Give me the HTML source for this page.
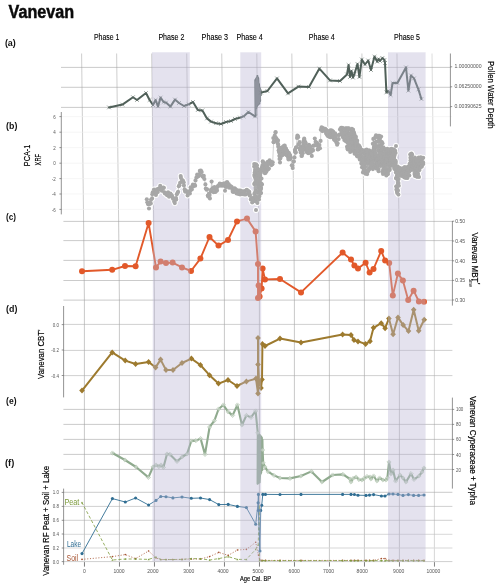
<!DOCTYPE html>
<html><head><meta charset="utf-8"><title>Vanevan</title>
<style>
html,body{margin:0;padding:0;background:#fff;}
body{width:500px;height:587px;overflow:hidden;font-family:"Liberation Sans", sans-serif;}
svg{display:block}
svg text{font-family:"Liberation Sans", sans-serif;}
.tk{font-size:5.8px;fill:#555;}
.ph{font-size:8.9px;fill:#000;stroke:#000;stroke-width:0.12px;}
.pl{font-size:9px;font-weight:bold;fill:#111;}
.ax{font-size:9.6px;fill:#000;stroke:#000;stroke-width:0.18px;}
</style></head><body>
<svg width="500" height="587" viewBox="0 0 500 587">
<rect width="500" height="587" fill="#fff"/>

<g id="grid">
<path d="M81.60 53.5L83.60 221" stroke="#a6a6a6" stroke-width="0.55" fill="none"/>
<path d="M83.60 221L84.40 300V566.5" stroke="#9b9b9b" stroke-width="0.55" fill="none"/>
<path d="M116.64 53.5L118.64 221" stroke="#a6a6a6" stroke-width="0.55" fill="none"/>
<path d="M118.64 221L119.40 300V566.5" stroke="#9b9b9b" stroke-width="0.55" fill="none"/>
<path d="M151.68 53.5L153.68 221" stroke="#a6a6a6" stroke-width="0.55" fill="none"/>
<path d="M153.68 221L154.40 300V566.5" stroke="#9b9b9b" stroke-width="0.55" fill="none"/>
<path d="M186.72 53.5L188.72 221" stroke="#a6a6a6" stroke-width="0.55" fill="none"/>
<path d="M188.72 221L189.40 300V566.5" stroke="#9b9b9b" stroke-width="0.55" fill="none"/>
<path d="M221.76 53.5L223.76 221" stroke="#a6a6a6" stroke-width="0.55" fill="none"/>
<path d="M223.76 221L224.40 300V566.5" stroke="#9b9b9b" stroke-width="0.55" fill="none"/>
<path d="M256.80 53.5L258.80 221" stroke="#a6a6a6" stroke-width="0.55" fill="none"/>
<path d="M258.80 221L259.40 300V566.5" stroke="#9b9b9b" stroke-width="0.55" fill="none"/>
<path d="M291.84 53.5L293.84 221" stroke="#a6a6a6" stroke-width="0.55" fill="none"/>
<path d="M293.84 221L294.40 300V566.5" stroke="#9b9b9b" stroke-width="0.55" fill="none"/>
<path d="M326.88 53.5L328.88 221" stroke="#a6a6a6" stroke-width="0.55" fill="none"/>
<path d="M328.88 221L329.40 300V566.5" stroke="#9b9b9b" stroke-width="0.55" fill="none"/>
<path d="M361.92 53.5L363.92 221" stroke="#a6a6a6" stroke-width="0.55" fill="none"/>
<path d="M363.92 221L364.40 300V566.5" stroke="#9b9b9b" stroke-width="0.55" fill="none"/>
<path d="M396.96 53.5L398.96 221" stroke="#a6a6a6" stroke-width="0.55" fill="none"/>
<path d="M398.96 221L399.40 300V566.5" stroke="#9b9b9b" stroke-width="0.55" fill="none"/>
<path d="M432.00 53.5L434.00 221" stroke="#c0c0c0" stroke-width="0.55" fill="none"/>
<path d="M434.00 221L434.40 300V566.5" stroke="#b5b5b5" stroke-width="0.55" fill="none"/>
<path d="M61 67.4H450.4" stroke="#a0a0a0" stroke-width="0.55"/>
<path d="M61 87.3H450.4" stroke="#a0a0a0" stroke-width="0.55"/>
<path d="M61 107.4H450.4" stroke="#a0a0a0" stroke-width="0.55"/>
<path d="M61.4 116.6H452" stroke="#f0f0f0" stroke-width="0.6"/>
<path d="M61.4 132.2H452" stroke="#f0f0f0" stroke-width="0.6"/>
<path d="M61.4 147.6H452" stroke="#f0f0f0" stroke-width="0.6"/>
<path d="M61.4 163.2H452" stroke="#f0f0f0" stroke-width="0.6"/>
<path d="M61.4 178.6H452" stroke="#f0f0f0" stroke-width="0.6"/>
<path d="M61.4 194H452" stroke="#f0f0f0" stroke-width="0.6"/>
<path d="M61.4 209.4H452" stroke="#f0f0f0" stroke-width="0.6"/>
<path d="M63.4 221.4H452.4" stroke="#a0a0a0" stroke-width="0.55"/>
<path d="M63.4 240.6H452.4" stroke="#a0a0a0" stroke-width="0.55"/>
<path d="M63.4 260.4H452.4" stroke="#a0a0a0" stroke-width="0.55"/>
<path d="M63.4 280.5H452.4" stroke="#a0a0a0" stroke-width="0.55"/>
<path d="M63.4 300.1H452.4" stroke="#a0a0a0" stroke-width="0.55"/>
<path d="M63.6 324.4H452.4" stroke="#a8a8a8" stroke-width="0.55"/>
<path d="M63.6 350.4H452.4" stroke="#a8a8a8" stroke-width="0.55"/>
<path d="M63.6 375.6H452.4" stroke="#a8a8a8" stroke-width="0.55"/>
<path d="M63.4 409.4H452.4" stroke="#a0a0a0" stroke-width="0.55"/>
<path d="M63.4 424.4H452.4" stroke="#a0a0a0" stroke-width="0.55"/>
<path d="M63.4 439.4H452.4" stroke="#a0a0a0" stroke-width="0.55"/>
<path d="M63.4 454.4H452.4" stroke="#a0a0a0" stroke-width="0.55"/>
<path d="M63.4 469.4H452.4" stroke="#a0a0a0" stroke-width="0.55"/>
<path d="M63.6 492.3H452.4" stroke="#a0a0a0" stroke-width="0.55"/>
<path d="M63.6 506.4H452.4" stroke="#a8a8a8" stroke-width="0.55"/>
<path d="M63.6 520.3H452.4" stroke="#a8a8a8" stroke-width="0.55"/>
<path d="M63.6 534.3H452.4" stroke="#bdbdbd" stroke-width="0.6"/>
<path d="M63.6 548H452.4" stroke="#d8d8d8" stroke-width="1.2"/>
<path d="M63.6 561.6H452.4" stroke="#cfcfcf" stroke-width="1.0"/>
</g>
<g id="pa">
<path d="M109.0 107.4L122.4 104.6L133.0 97.2L137.0 100.0L146.0 93.0L149.6 100.0L153.0 105.0L155.6 100.0L158.0 106.4L160.6 97.6L163.6 102.0L166.0 102.6L170.4 106.6L175.0 99.6L179.0 103.0L184.0 106.0L188.6 104.4L193.0 102.0L197.8 110.0L202.4 110.4L207.0 118.4L211.0 121.6L216.0 123.2L221.0 124.0L226.0 122.0L231.0 121.0L235.0 119.0L240.0 117.6L243.6 116.4L248.4 112.0L255.0 116.4L255.6 116.0L255.3 80.0L256.3 108.0L256.0 79.0L257.0 106.0L256.6 78.0L257.8 105.0L257.4 76.0L258.6 104.0L258.2 78.0L259.4 103.5L259.0 84.0L260.1 101.0L259.8 88.0L260.8 95.0L260.5 90.0L261.0 92.6L267.4 91.0L277.0 78.4L288.0 93.4L298.4 86.6L309.0 87.0L319.4 68.6L330.0 80.4L340.0 81.0L347.0 74.4L348.6 65.0L350.0 77.0L351.4 71.0L353.0 77.6L354.4 74.0L357.5 64.0L359.4 77.0L361.8 59.5L365.0 64.5L368.2 60.5L371.0 70.0L374.5 56.6L377.2 61.6L378.6 59.0L380.0 61.0L382.4 58.0L384.4 60.0L385.0 63.0L386.4 92.4L388.4 91.0L390.6 95.0L392.6 83.0L397.4 83.0L406.0 67.4L408.4 90.6L411.0 75.4L414.0 78.4L418.4 89.4L421.4 99.0" fill="none" stroke="#506059" stroke-width="2.0" stroke-linejoin="round" stroke-linecap="round" />
<path d="M255 82L256 78.5L257.4 76L258.4 79L259.5 87L260.8 90V99L259.6 103.6L257 106L256.4 110L255.2 116Z" fill="#747d7a" stroke="none"/>
<path d="M107.1 105.5l3.8 3.8M107.1 109.3l3.8 -3.8M120.5 102.7l3.8 3.8M120.5 106.5l3.8 -3.8M131.1 95.3l3.8 3.8M131.1 99.1l3.8 -3.8M135.1 98.1l3.8 3.8M135.1 101.9l3.8 -3.8M144.1 91.1l3.8 3.8M144.1 94.9l3.8 -3.8M147.7 98.1l3.8 3.8M147.7 101.9l3.8 -3.8M151.1 103.1l3.8 3.8M151.1 106.9l3.8 -3.8M153.7 98.1l3.8 3.8M153.7 101.9l3.8 -3.8M156.1 104.5l3.8 3.8M156.1 108.3l3.8 -3.8M158.7 95.7l3.8 3.8M158.7 99.5l3.8 -3.8M161.7 100.1l3.8 3.8M161.7 103.9l3.8 -3.8M164.1 100.7l3.8 3.8M164.1 104.5l3.8 -3.8M168.5 104.7l3.8 3.8M168.5 108.5l3.8 -3.8M173.1 97.7l3.8 3.8M173.1 101.5l3.8 -3.8M177.1 101.1l3.8 3.8M177.1 104.9l3.8 -3.8M182.1 104.1l3.8 3.8M182.1 107.9l3.8 -3.8M186.7 102.5l3.8 3.8M186.7 106.3l3.8 -3.8M191.1 100.1l3.8 3.8M191.1 103.9l3.8 -3.8M195.9 108.1l3.8 3.8M195.9 111.9l3.8 -3.8M200.5 108.5l3.8 3.8M200.5 112.3l3.8 -3.8M205.1 116.5l3.8 3.8M205.1 120.3l3.8 -3.8M209.1 119.7l3.8 3.8M209.1 123.5l3.8 -3.8M214.1 121.3l3.8 3.8M214.1 125.1l3.8 -3.8M219.1 122.1l3.8 3.8M219.1 125.9l3.8 -3.8M224.1 120.1l3.8 3.8M224.1 123.9l3.8 -3.8M229.1 119.1l3.8 3.8M229.1 122.9l3.8 -3.8M233.1 117.1l3.8 3.8M233.1 120.9l3.8 -3.8M238.1 115.7l3.8 3.8M238.1 119.5l3.8 -3.8M241.7 114.5l3.8 3.8M241.7 118.3l3.8 -3.8M246.5 110.1l3.8 3.8M246.5 113.9l3.8 -3.8M253.1 114.5l3.8 3.8M253.1 118.3l3.8 -3.8M259.1 90.7l3.8 3.8M259.1 94.5l3.8 -3.8M265.5 89.1l3.8 3.8M265.5 92.9l3.8 -3.8M275.1 76.5l3.8 3.8M275.1 80.3l3.8 -3.8M286.1 91.5l3.8 3.8M286.1 95.3l3.8 -3.8M296.5 84.7l3.8 3.8M296.5 88.5l3.8 -3.8M307.1 85.1l3.8 3.8M307.1 88.9l3.8 -3.8M317.5 66.7l3.8 3.8M317.5 70.5l3.8 -3.8M328.1 78.5l3.8 3.8M328.1 82.3l3.8 -3.8M338.1 79.1l3.8 3.8M338.1 82.9l3.8 -3.8M345.1 72.5l3.8 3.8M345.1 76.3l3.8 -3.8M346.7 63.1l3.8 3.8M346.7 66.9l3.8 -3.8M348.1 75.1l3.8 3.8M348.1 78.9l3.8 -3.8M349.5 69.1l3.8 3.8M349.5 72.9l3.8 -3.8M351.1 75.7l3.8 3.8M351.1 79.5l3.8 -3.8M352.5 72.1l3.8 3.8M352.5 75.9l3.8 -3.8M355.6 62.1l3.8 3.8M355.6 65.9l3.8 -3.8M357.5 75.1l3.8 3.8M357.5 78.9l3.8 -3.8M359.9 57.6l3.8 3.8M359.9 61.4l3.8 -3.8M363.1 62.6l3.8 3.8M363.1 66.4l3.8 -3.8M366.3 58.6l3.8 3.8M366.3 62.4l3.8 -3.8M369.1 68.1l3.8 3.8M369.1 71.9l3.8 -3.8M372.6 54.7l3.8 3.8M372.6 58.5l3.8 -3.8M375.3 59.7l3.8 3.8M375.3 63.5l3.8 -3.8M376.7 57.1l3.8 3.8M376.7 60.9l3.8 -3.8M378.1 59.1l3.8 3.8M378.1 62.9l3.8 -3.8M380.5 56.1l3.8 3.8M380.5 59.9l3.8 -3.8M382.5 58.1l3.8 3.8M382.5 61.9l3.8 -3.8M383.1 61.1l3.8 3.8M383.1 64.9l3.8 -3.8M384.5 90.5l3.8 3.8M384.5 94.3l3.8 -3.8M386.5 89.1l3.8 3.8M386.5 92.9l3.8 -3.8M388.7 93.1l3.8 3.8M388.7 96.9l3.8 -3.8M390.7 81.1l3.8 3.8M390.7 84.9l3.8 -3.8M395.5 81.1l3.8 3.8M395.5 84.9l3.8 -3.8M404.1 65.5l3.8 3.8M404.1 69.3l3.8 -3.8M406.5 88.7l3.8 3.8M406.5 92.5l3.8 -3.8M409.1 73.5l3.8 3.8M409.1 77.3l3.8 -3.8M412.1 76.5l3.8 3.8M412.1 80.3l3.8 -3.8M416.5 87.5l3.8 3.8M416.5 91.3l3.8 -3.8M419.5 97.1l3.8 3.8M419.5 100.9l3.8 -3.8" stroke="#56655e" stroke-width="0.55" fill="none"/>
</g>
<g id="pc">
<path d="M82.0 271.2L112.2 269.8L125.0 266.0L135.6 266.2L148.6 223.0L156.0 267.4L160.6 261.6L166.0 263.0L172.6 262.6L182.0 267.4L191.0 271.0L200.4 258.6L209.5 237.0L218.5 245.6L228.0 240.0L237.0 221.4L247.0 218.6L255.6 231.4L258.0 264.0L258.0 298.0L258.6 285.6L259.6 296.6L261.6 288.6L262.6 268.6L265.0 279.4L280.0 279.0L301.0 292.4L342.6 252.6L351.0 259.6L354.4 265.6L358.0 268.4L365.6 262.7L369.6 272.5L373.5 269.0L381.2 250.9L385.1 260.5L389.2 263.1L392.8 295.6L397.9 273.5L402.9 280.4L408.2 299.9L413.6 290.7L418.9 301.5L424.0 301.7" fill="none" stroke="#e2592a" stroke-width="1.9" stroke-linejoin="round" stroke-linecap="round" />
<g fill="#e2592a"><circle cx="82.0" cy="271.2" r="3.0"/><circle cx="112.2" cy="269.8" r="3.0"/><circle cx="125.0" cy="266.0" r="3.0"/><circle cx="135.6" cy="266.2" r="3.0"/><circle cx="148.6" cy="223.0" r="3.0"/><circle cx="156.0" cy="267.4" r="3.0"/><circle cx="160.6" cy="261.6" r="3.0"/><circle cx="166.0" cy="263.0" r="3.0"/><circle cx="172.6" cy="262.6" r="3.0"/><circle cx="182.0" cy="267.4" r="3.0"/><circle cx="191.0" cy="271.0" r="3.0"/><circle cx="200.4" cy="258.6" r="3.0"/><circle cx="209.5" cy="237.0" r="3.0"/><circle cx="218.5" cy="245.6" r="3.0"/><circle cx="228.0" cy="240.0" r="3.0"/><circle cx="237.0" cy="221.4" r="3.0"/><circle cx="247.0" cy="218.6" r="3.0"/><circle cx="255.6" cy="231.4" r="3.0"/><circle cx="258.0" cy="264.0" r="3.0"/><circle cx="258.0" cy="298.0" r="3.0"/><circle cx="258.6" cy="285.6" r="3.0"/><circle cx="259.6" cy="296.6" r="3.0"/><circle cx="261.6" cy="288.6" r="3.0"/><circle cx="262.6" cy="268.6" r="3.0"/><circle cx="265.0" cy="279.4" r="3.0"/><circle cx="280.0" cy="279.0" r="3.0"/><circle cx="301.0" cy="292.4" r="3.0"/><circle cx="342.6" cy="252.6" r="3.0"/><circle cx="351.0" cy="259.6" r="3.0"/><circle cx="354.4" cy="265.6" r="3.0"/><circle cx="358.0" cy="268.4" r="3.0"/><circle cx="365.6" cy="262.7" r="3.0"/><circle cx="369.6" cy="272.5" r="3.0"/><circle cx="373.5" cy="269.0" r="3.0"/><circle cx="381.2" cy="250.9" r="3.0"/><circle cx="385.1" cy="260.5" r="3.0"/><circle cx="389.2" cy="263.1" r="3.0"/><circle cx="392.8" cy="295.6" r="3.0"/><circle cx="397.9" cy="273.5" r="3.0"/><circle cx="402.9" cy="280.4" r="3.0"/><circle cx="408.2" cy="299.9" r="3.0"/><circle cx="413.6" cy="290.7" r="3.0"/><circle cx="418.9" cy="301.5" r="3.0"/><circle cx="424.0" cy="301.7" r="3.0"/></g>
</g>
<g id="pd">
<path d="M82.0 390.6L112.2 352.4L125.2 360.6L135.6 364.0L148.6 362.0L155.6 367.4L160.6 359.6L166.0 370.0L173.0 370.0L182.0 363.0L191.4 358.6L200.4 365.0L209.5 375.2L218.5 383.6L228.0 380.0L237.0 386.0L246.4 381.4L256.0 378.6L258.0 393.4L258.0 338.0L258.0 364.4L259.0 382.0L261.0 388.0L262.0 379.4L262.4 344.0L265.0 346.0L280.0 338.6L301.0 342.6L342.6 334.4L351.0 335.0L354.0 340.0L358.0 341.4L365.6 344.0L370.0 341.3L373.5 327.8L381.2 323.2L385.1 328.2L388.9 318.6L393.1 334.2L398.0 317.4L403.2 325.1L408.5 331.1L413.7 309.7L418.7 330.7L424.2 319.8" fill="none" stroke="#9d7a2e" stroke-width="2.0" stroke-linejoin="round" stroke-linecap="round" />
<path d="M82.0 387.6l2.8 3l-2.8 3l-2.8 -3zM112.2 349.4l2.8 3l-2.8 3l-2.8 -3zM125.2 357.6l2.8 3l-2.8 3l-2.8 -3zM135.6 361.0l2.8 3l-2.8 3l-2.8 -3zM148.6 359.0l2.8 3l-2.8 3l-2.8 -3zM155.6 364.4l2.8 3l-2.8 3l-2.8 -3zM160.6 356.6l2.8 3l-2.8 3l-2.8 -3zM166.0 367.0l2.8 3l-2.8 3l-2.8 -3zM173.0 367.0l2.8 3l-2.8 3l-2.8 -3zM182.0 360.0l2.8 3l-2.8 3l-2.8 -3zM191.4 355.6l2.8 3l-2.8 3l-2.8 -3zM200.4 362.0l2.8 3l-2.8 3l-2.8 -3zM209.5 372.2l2.8 3l-2.8 3l-2.8 -3zM218.5 380.6l2.8 3l-2.8 3l-2.8 -3zM228.0 377.0l2.8 3l-2.8 3l-2.8 -3zM237.0 383.0l2.8 3l-2.8 3l-2.8 -3zM246.4 378.4l2.8 3l-2.8 3l-2.8 -3zM256.0 375.6l2.8 3l-2.8 3l-2.8 -3zM258.0 390.4l2.8 3l-2.8 3l-2.8 -3zM258.0 335.0l2.8 3l-2.8 3l-2.8 -3zM258.0 361.4l2.8 3l-2.8 3l-2.8 -3zM259.0 379.0l2.8 3l-2.8 3l-2.8 -3zM261.0 385.0l2.8 3l-2.8 3l-2.8 -3zM262.0 376.4l2.8 3l-2.8 3l-2.8 -3zM262.4 341.0l2.8 3l-2.8 3l-2.8 -3zM265.0 343.0l2.8 3l-2.8 3l-2.8 -3zM280.0 335.6l2.8 3l-2.8 3l-2.8 -3zM301.0 339.6l2.8 3l-2.8 3l-2.8 -3zM342.6 331.4l2.8 3l-2.8 3l-2.8 -3zM351.0 332.0l2.8 3l-2.8 3l-2.8 -3zM354.0 337.0l2.8 3l-2.8 3l-2.8 -3zM358.0 338.4l2.8 3l-2.8 3l-2.8 -3zM365.6 341.0l2.8 3l-2.8 3l-2.8 -3zM370.0 338.3l2.8 3l-2.8 3l-2.8 -3zM373.5 324.8l2.8 3l-2.8 3l-2.8 -3zM381.2 320.2l2.8 3l-2.8 3l-2.8 -3zM385.1 325.2l2.8 3l-2.8 3l-2.8 -3zM388.9 315.6l2.8 3l-2.8 3l-2.8 -3zM393.1 331.2l2.8 3l-2.8 3l-2.8 -3zM398.0 314.4l2.8 3l-2.8 3l-2.8 -3zM403.2 322.1l2.8 3l-2.8 3l-2.8 -3zM408.5 328.1l2.8 3l-2.8 3l-2.8 -3zM413.7 306.7l2.8 3l-2.8 3l-2.8 -3zM418.7 327.7l2.8 3l-2.8 3l-2.8 -3zM424.2 316.8l2.8 3l-2.8 3l-2.8 -3z" fill="#9d7a2e"/>
</g>
<g id="pe">
<path d="M112.4 453.0L125.0 460.0L136.0 467.0L148.4 477.4L153.0 467.0L156.0 465.0L159.0 466.6L161.0 465.0L163.4 467.4L167.0 454.0L170.0 454.4L177.0 461.4L182.0 457.0L187.0 454.0L191.3 441.0L196.0 440.6L200.6 438.6L205.0 454.4L209.6 427.0L214.4 420.6L218.6 409.0L223.4 405.0L228.0 411.6L232.6 415.4L237.4 405.0L242.0 425.0L246.4 415.4L251.0 417.4L255.6 411.0L257.8 433.0L257.6 483.8L257.8 433.0L257.9 479.6L258.1 436.1L258.3 478.4L258.4 434.1L258.6 479.8L258.7 436.5L258.9 476.2L259.1 436.0L259.2 475.3L259.4 436.0L259.6 476.5L259.7 435.3L259.9 476.2L260.1 437.6L260.2 472.6L260.4 436.4L260.6 471.9L260.7 437.5L260.9 473.4L261.0 436.9L261.2 472.4L261.4 437.8L261.6 470.0L261.7 440.6L261.9 470.0L262.0 439.4L262.2 470.0L262.4 439.7L262.6 450.0L263.2 463.0L265.0 467.0L268.0 471.6L274.0 475.4L280.0 478.0L290.0 478.4L301.0 476.0L311.4 471.4L322.0 482.0L332.6 475.0L343.0 474.4L350.0 479.0L351.0 482.0L353.0 478.5L356.0 477.0L359.0 479.6L362.0 480.0L364.0 478.6L367.0 476.5L370.0 477.0L371.0 479.0L373.6 476.0L377.0 481.0L379.6 478.0L383.0 480.0L386.0 480.0L387.4 478.0L389.0 462.0L391.0 474.0L393.0 470.0L395.6 481.0L400.0 475.0L403.0 478.0L406.0 482.0L411.0 473.6L414.0 479.4L419.0 476.0L422.0 472.0L424.0 468.0" fill="none" stroke="#8faa8e" stroke-width="2.1" stroke-linejoin="round" stroke-linecap="round" />
<path d="M257.2 432.5L260 434L262.7 437V468L261.4 470L260.6 483L257.4 484.5Z" fill="#93ab94"/>
<path d="M112.4 450.9l2.1 2.1l-2.1 2.1l-2.1 -2.1zM125.0 457.9l2.1 2.1l-2.1 2.1l-2.1 -2.1zM136.0 464.9l2.1 2.1l-2.1 2.1l-2.1 -2.1zM148.4 475.3l2.1 2.1l-2.1 2.1l-2.1 -2.1zM153.0 464.9l2.1 2.1l-2.1 2.1l-2.1 -2.1zM156.0 462.9l2.1 2.1l-2.1 2.1l-2.1 -2.1zM159.0 464.5l2.1 2.1l-2.1 2.1l-2.1 -2.1zM161.0 462.9l2.1 2.1l-2.1 2.1l-2.1 -2.1zM163.4 465.3l2.1 2.1l-2.1 2.1l-2.1 -2.1zM167.0 451.9l2.1 2.1l-2.1 2.1l-2.1 -2.1zM170.0 452.3l2.1 2.1l-2.1 2.1l-2.1 -2.1zM177.0 459.3l2.1 2.1l-2.1 2.1l-2.1 -2.1zM182.0 454.9l2.1 2.1l-2.1 2.1l-2.1 -2.1zM187.0 451.9l2.1 2.1l-2.1 2.1l-2.1 -2.1zM191.3 438.9l2.1 2.1l-2.1 2.1l-2.1 -2.1zM196.0 438.5l2.1 2.1l-2.1 2.1l-2.1 -2.1zM200.6 436.5l2.1 2.1l-2.1 2.1l-2.1 -2.1zM205.0 452.3l2.1 2.1l-2.1 2.1l-2.1 -2.1zM209.6 424.9l2.1 2.1l-2.1 2.1l-2.1 -2.1zM214.4 418.5l2.1 2.1l-2.1 2.1l-2.1 -2.1zM218.6 406.9l2.1 2.1l-2.1 2.1l-2.1 -2.1zM223.4 402.9l2.1 2.1l-2.1 2.1l-2.1 -2.1zM228.0 409.5l2.1 2.1l-2.1 2.1l-2.1 -2.1zM232.6 413.3l2.1 2.1l-2.1 2.1l-2.1 -2.1zM237.4 402.9l2.1 2.1l-2.1 2.1l-2.1 -2.1zM242.0 422.9l2.1 2.1l-2.1 2.1l-2.1 -2.1zM246.4 413.3l2.1 2.1l-2.1 2.1l-2.1 -2.1zM251.0 415.3l2.1 2.1l-2.1 2.1l-2.1 -2.1zM255.6 408.9l2.1 2.1l-2.1 2.1l-2.1 -2.1zM257.8 430.9l2.1 2.1l-2.1 2.1l-2.1 -2.1zM262.6 447.9l2.1 2.1l-2.1 2.1l-2.1 -2.1zM263.2 460.9l2.1 2.1l-2.1 2.1l-2.1 -2.1zM265.0 464.9l2.1 2.1l-2.1 2.1l-2.1 -2.1zM268.0 469.5l2.1 2.1l-2.1 2.1l-2.1 -2.1zM274.0 473.3l2.1 2.1l-2.1 2.1l-2.1 -2.1zM280.0 475.9l2.1 2.1l-2.1 2.1l-2.1 -2.1zM290.0 476.3l2.1 2.1l-2.1 2.1l-2.1 -2.1zM301.0 473.9l2.1 2.1l-2.1 2.1l-2.1 -2.1zM311.4 469.3l2.1 2.1l-2.1 2.1l-2.1 -2.1zM322.0 479.9l2.1 2.1l-2.1 2.1l-2.1 -2.1zM332.6 472.9l2.1 2.1l-2.1 2.1l-2.1 -2.1zM343.0 472.3l2.1 2.1l-2.1 2.1l-2.1 -2.1zM350.0 476.9l2.1 2.1l-2.1 2.1l-2.1 -2.1zM351.0 479.9l2.1 2.1l-2.1 2.1l-2.1 -2.1zM353.0 476.4l2.1 2.1l-2.1 2.1l-2.1 -2.1zM356.0 474.9l2.1 2.1l-2.1 2.1l-2.1 -2.1zM359.0 477.5l2.1 2.1l-2.1 2.1l-2.1 -2.1zM362.0 477.9l2.1 2.1l-2.1 2.1l-2.1 -2.1zM364.0 476.5l2.1 2.1l-2.1 2.1l-2.1 -2.1zM367.0 474.4l2.1 2.1l-2.1 2.1l-2.1 -2.1zM370.0 474.9l2.1 2.1l-2.1 2.1l-2.1 -2.1zM371.0 476.9l2.1 2.1l-2.1 2.1l-2.1 -2.1zM373.6 473.9l2.1 2.1l-2.1 2.1l-2.1 -2.1zM377.0 478.9l2.1 2.1l-2.1 2.1l-2.1 -2.1zM379.6 475.9l2.1 2.1l-2.1 2.1l-2.1 -2.1zM383.0 477.9l2.1 2.1l-2.1 2.1l-2.1 -2.1zM386.0 477.9l2.1 2.1l-2.1 2.1l-2.1 -2.1zM387.4 475.9l2.1 2.1l-2.1 2.1l-2.1 -2.1zM389.0 459.9l2.1 2.1l-2.1 2.1l-2.1 -2.1zM391.0 471.9l2.1 2.1l-2.1 2.1l-2.1 -2.1zM393.0 467.9l2.1 2.1l-2.1 2.1l-2.1 -2.1zM395.6 478.9l2.1 2.1l-2.1 2.1l-2.1 -2.1zM400.0 472.9l2.1 2.1l-2.1 2.1l-2.1 -2.1zM403.0 475.9l2.1 2.1l-2.1 2.1l-2.1 -2.1zM406.0 479.9l2.1 2.1l-2.1 2.1l-2.1 -2.1zM411.0 471.5l2.1 2.1l-2.1 2.1l-2.1 -2.1zM414.0 477.3l2.1 2.1l-2.1 2.1l-2.1 -2.1zM419.0 473.9l2.1 2.1l-2.1 2.1l-2.1 -2.1zM422.0 469.9l2.1 2.1l-2.1 2.1l-2.1 -2.1zM424.0 465.9l2.1 2.1l-2.1 2.1l-2.1 -2.1z" fill="#fff" fill-opacity="0.4" stroke="#9db59b" stroke-width="0.55"/>
</g>
<g id="pf">
<path d="M82.0 559.4L112.4 556.6L125.3 554.6L135.6 558.6L148.6 551.0L156.0 558.0L160.8 559.5L166.0 559.5L172.9 559.5L182.0 559.4L191.3 559.0L200.5 559.0L209.6 556.6L218.8 552.4L228.2 555.4L237.4 550.0L246.4 549.4L255.7 542.3L258.4 555.0L259.6 560.0L262.0 560.4L265.4 560.4L280.0 560.4L301.0 560.4L342.6 560.4L351.0 560.4L354.4 560.4L358.0 560.4L366.0 560.4L369.5 560.4L373.6 560.4L381.4 558.6L385.0 558.6L389.0 560.4L393.0 560.4L398.0 560.4L403.0 560.4L408.4 560.4L413.6 560.4L418.6 560.4L424.0 560.4" fill="none" stroke="#a5502e" stroke-width="0.8" stroke-linejoin="round" stroke-linecap="round" stroke-dasharray="0.3 2.5"/>
<g fill="#a5502e"><circle cx="82.0" cy="559.4" r="0.8"/><circle cx="112.4" cy="556.6" r="0.8"/><circle cx="125.3" cy="554.6" r="0.8"/><circle cx="135.6" cy="558.6" r="0.8"/><circle cx="148.6" cy="551.0" r="0.8"/><circle cx="156.0" cy="558.0" r="0.8"/><circle cx="160.8" cy="559.5" r="0.8"/><circle cx="166.0" cy="559.5" r="0.8"/><circle cx="172.9" cy="559.5" r="0.8"/><circle cx="182.0" cy="559.4" r="0.8"/><circle cx="191.3" cy="559.0" r="0.8"/><circle cx="200.5" cy="559.0" r="0.8"/><circle cx="209.6" cy="556.6" r="0.8"/><circle cx="218.8" cy="552.4" r="0.8"/><circle cx="228.2" cy="555.4" r="0.8"/><circle cx="237.4" cy="550.0" r="0.8"/><circle cx="246.4" cy="549.4" r="0.8"/><circle cx="255.7" cy="542.3" r="0.8"/><circle cx="258.4" cy="555.0" r="0.8"/><circle cx="259.6" cy="560.0" r="0.8"/><circle cx="262.0" cy="560.4" r="0.8"/><circle cx="265.4" cy="560.4" r="0.8"/><circle cx="280.0" cy="560.4" r="0.8"/><circle cx="301.0" cy="560.4" r="0.8"/><circle cx="342.6" cy="560.4" r="0.8"/><circle cx="351.0" cy="560.4" r="0.8"/><circle cx="354.4" cy="560.4" r="0.8"/><circle cx="358.0" cy="560.4" r="0.8"/><circle cx="366.0" cy="560.4" r="0.8"/><circle cx="369.5" cy="560.4" r="0.8"/><circle cx="373.6" cy="560.4" r="0.8"/><circle cx="381.4" cy="558.6" r="0.8"/><circle cx="385.0" cy="558.6" r="0.8"/><circle cx="389.0" cy="560.4" r="0.8"/><circle cx="393.0" cy="560.4" r="0.8"/><circle cx="398.0" cy="560.4" r="0.8"/><circle cx="403.0" cy="560.4" r="0.8"/><circle cx="408.4" cy="560.4" r="0.8"/><circle cx="413.6" cy="560.4" r="0.8"/><circle cx="418.6" cy="560.4" r="0.8"/><circle cx="424.0" cy="560.4" r="0.8"/></g>
<path d="M82.0 502.6L112.4 560.0L125.3 559.0L135.6 559.0L148.6 559.4L156.0 557.0L160.8 559.5L166.0 559.5L172.9 559.5L182.0 559.4L191.3 558.6L200.5 558.8L209.6 560.0L218.8 558.6L228.2 556.6L237.4 559.4L246.4 559.4L255.7 549.4L258.2 545.0L259.2 506.0L259.6 560.4L262.0 560.6L265.4 560.6L280.0 560.6L301.0 560.6L342.6 560.6L351.0 560.6L354.4 560.6L358.0 560.6L366.0 560.6L369.5 560.6L373.6 560.6L381.4 560.6L385.0 560.6L389.0 560.6L393.0 560.6L398.0 560.6L403.0 560.6L408.4 560.6L413.6 560.6L418.6 560.6L424.0 560.6" fill="none" stroke="#7c9a3b" stroke-width="0.8" stroke-linejoin="round" stroke-linecap="round" stroke-dasharray="2.3 2.8" stroke-linecap="butt"/>
<path d="M82.0 501.6l1 1.8h-2zM112.4 559.0l1 1.8h-2zM125.3 558.0l1 1.8h-2zM135.6 558.0l1 1.8h-2zM148.6 558.4l1 1.8h-2zM156.0 556.0l1 1.8h-2zM160.8 558.5l1 1.8h-2zM166.0 558.5l1 1.8h-2zM172.9 558.5l1 1.8h-2zM182.0 558.4l1 1.8h-2zM191.3 557.6l1 1.8h-2zM200.5 557.8l1 1.8h-2zM209.6 559.0l1 1.8h-2zM218.8 557.6l1 1.8h-2zM228.2 555.6l1 1.8h-2zM237.4 558.4l1 1.8h-2zM246.4 558.4l1 1.8h-2zM255.7 548.4l1 1.8h-2zM258.2 544.0l1 1.8h-2zM259.2 505.0l1 1.8h-2zM259.6 559.4l1 1.8h-2zM262.0 559.6l1 1.8h-2zM265.4 559.6l1 1.8h-2zM280.0 559.6l1 1.8h-2zM301.0 559.6l1 1.8h-2zM342.6 559.6l1 1.8h-2zM351.0 559.6l1 1.8h-2zM354.4 559.6l1 1.8h-2zM358.0 559.6l1 1.8h-2zM366.0 559.6l1 1.8h-2zM369.5 559.6l1 1.8h-2zM373.6 559.6l1 1.8h-2zM381.4 559.6l1 1.8h-2zM385.0 559.6l1 1.8h-2zM389.0 559.6l1 1.8h-2zM393.0 559.6l1 1.8h-2zM398.0 559.6l1 1.8h-2zM403.0 559.6l1 1.8h-2zM408.4 559.6l1 1.8h-2zM413.6 559.6l1 1.8h-2zM418.6 559.6l1 1.8h-2zM424.0 559.6l1 1.8h-2z" fill="#7c9a3b"/>
<path d="M82.0 553.6L112.4 498.6L125.3 502.0L135.6 498.0L148.6 505.0L156.0 500.4L160.8 496.5L166.0 496.7L172.9 497.9L182.0 497.0L191.3 498.3L200.5 498.0L209.6 499.6L218.8 504.6L228.2 504.4L237.4 506.4L246.4 507.6L255.7 524.2L258.1 502.7L258.4 494.4L258.4 510.4L259.9 551.0L260.7 510.4L261.7 505.3L262.8 494.4L265.4 494.4L280.0 494.5L301.0 494.4L342.6 494.4L351.0 494.4L354.4 494.5L358.0 495.2L366.0 495.4L369.5 495.1L373.6 494.6L381.4 496.0L385.0 496.0L389.0 494.0L393.0 494.0L398.0 494.4L403.0 495.4L408.4 494.6L413.6 495.4L418.6 495.4L424.0 495.0" fill="none" stroke="#2f6d92" stroke-width="0.9" stroke-linejoin="round" stroke-linecap="round" />
<g fill="#2f6d92"><circle cx="82.0" cy="553.6" r="1.55"/><circle cx="112.4" cy="498.6" r="1.55"/><circle cx="125.3" cy="502.0" r="1.55"/><circle cx="135.6" cy="498.0" r="1.55"/><circle cx="148.6" cy="505.0" r="1.55"/><circle cx="156.0" cy="500.4" r="1.55"/><circle cx="160.8" cy="496.5" r="1.55"/><circle cx="166.0" cy="496.7" r="1.55"/><circle cx="172.9" cy="497.9" r="1.55"/><circle cx="182.0" cy="497.0" r="1.55"/><circle cx="191.3" cy="498.3" r="1.55"/><circle cx="200.5" cy="498.0" r="1.55"/><circle cx="209.6" cy="499.6" r="1.55"/><circle cx="218.8" cy="504.6" r="1.55"/><circle cx="228.2" cy="504.4" r="1.55"/><circle cx="237.4" cy="506.4" r="1.55"/><circle cx="246.4" cy="507.6" r="1.55"/><circle cx="255.7" cy="524.2" r="1.55"/><circle cx="258.1" cy="502.7" r="1.55"/><circle cx="258.4" cy="494.4" r="1.55"/><circle cx="258.4" cy="510.4" r="1.55"/><circle cx="259.9" cy="551.0" r="1.55"/><circle cx="260.7" cy="510.4" r="1.55"/><circle cx="261.7" cy="505.3" r="1.55"/><circle cx="262.8" cy="494.4" r="1.55"/><circle cx="265.4" cy="494.4" r="1.55"/><circle cx="280.0" cy="494.5" r="1.55"/><circle cx="301.0" cy="494.4" r="1.55"/><circle cx="342.6" cy="494.4" r="1.55"/><circle cx="351.0" cy="494.4" r="1.55"/><circle cx="354.4" cy="494.5" r="1.55"/><circle cx="358.0" cy="495.2" r="1.55"/><circle cx="366.0" cy="495.4" r="1.55"/><circle cx="369.5" cy="495.1" r="1.55"/><circle cx="373.6" cy="494.6" r="1.55"/><circle cx="381.4" cy="496.0" r="1.55"/><circle cx="385.0" cy="496.0" r="1.55"/><circle cx="389.0" cy="494.0" r="1.55"/><circle cx="393.0" cy="494.0" r="1.55"/><circle cx="398.0" cy="494.4" r="1.55"/><circle cx="403.0" cy="495.4" r="1.55"/><circle cx="408.4" cy="494.6" r="1.55"/><circle cx="413.6" cy="495.4" r="1.55"/><circle cx="418.6" cy="495.4" r="1.55"/><circle cx="424.0" cy="495.0" r="1.55"/></g>
</g>
<g id="bands" fill="#bbb6d4" fill-opacity="0.40">
<path d="M152 52.3H189.8V561.6H152.4L152.9 240Z"/>
<rect x="240.3" y="52.3" width="20.9" height="509.3"/>
<rect x="388" y="52.3" width="37.6" height="509.3"/>
</g>
<g id="pb">
<g fill="#fff"><circle cx="146.8" cy="199.2" r="3.0"/><circle cx="147.3" cy="202.3" r="3.0"/><circle cx="148.1" cy="204.2" r="3.0"/><circle cx="148.8" cy="204.2" r="3.0"/><circle cx="149.4" cy="203.9" r="3.0"/><circle cx="149.8" cy="202.8" r="3.0"/><circle cx="150.8" cy="203.4" r="3.0"/><circle cx="151.0" cy="199.8" r="3.0"/><circle cx="152.1" cy="198.4" r="3.0"/><circle cx="152.3" cy="194.3" r="3.0"/><circle cx="152.7" cy="192.4" r="3.0"/><circle cx="153.5" cy="192.7" r="3.0"/><circle cx="154.0" cy="189.6" r="3.0"/><circle cx="155.0" cy="191.3" r="3.0"/><circle cx="155.4" cy="191.3" r="3.0"/><circle cx="155.9" cy="194.9" r="3.0"/><circle cx="156.3" cy="193.2" r="3.0"/><circle cx="157.0" cy="189.3" r="3.0"/><circle cx="157.8" cy="191.9" r="3.0"/><circle cx="158.5" cy="188.8" r="3.0"/><circle cx="158.9" cy="188.5" r="3.0"/><circle cx="159.7" cy="189.2" r="3.0"/><circle cx="160.2" cy="185.9" r="3.0"/><circle cx="161.0" cy="187.7" r="3.0"/><circle cx="161.3" cy="189.1" r="3.0"/><circle cx="161.8" cy="190.7" r="3.0"/><circle cx="162.8" cy="188.3" r="3.0"/><circle cx="163.2" cy="187.5" r="3.0"/><circle cx="163.9" cy="187.8" r="3.0"/><circle cx="164.4" cy="192.2" r="3.0"/><circle cx="164.9" cy="193.5" r="3.0"/><circle cx="165.7" cy="193.4" r="3.0"/><circle cx="166.2" cy="193.5" r="3.0"/><circle cx="167.1" cy="195.2" r="3.0"/><circle cx="167.5" cy="193.8" r="3.0"/><circle cx="168.1" cy="192.2" r="3.0"/><circle cx="168.9" cy="195.5" r="3.0"/><circle cx="169.1" cy="196.8" r="3.0"/><circle cx="169.9" cy="195.0" r="3.0"/><circle cx="170.4" cy="193.6" r="3.0"/><circle cx="170.8" cy="194.7" r="3.0"/><circle cx="171.8" cy="195.2" r="3.0"/><circle cx="172.0" cy="196.5" r="3.0"/><circle cx="173.0" cy="198.8" r="3.0"/><circle cx="173.4" cy="198.3" r="3.0"/><circle cx="174.2" cy="201.6" r="3.0"/><circle cx="174.8" cy="203.1" r="3.0"/><circle cx="175.1" cy="199.0" r="3.0"/><circle cx="176.0" cy="198.0" r="3.0"/><circle cx="176.2" cy="199.6" r="3.0"/><circle cx="176.8" cy="194.3" r="3.0"/><circle cx="177.6" cy="192.8" r="3.0"/><circle cx="178.1" cy="191.8" r="3.0"/><circle cx="178.8" cy="186.2" r="3.0"/><circle cx="179.4" cy="185.3" r="3.0"/><circle cx="180.1" cy="182.7" r="3.0"/><circle cx="180.7" cy="176.0" r="3.0"/><circle cx="180.9" cy="177.8" r="3.0"/><circle cx="182.0" cy="180.0" r="3.0"/><circle cx="182.6" cy="181.4" r="3.0"/><circle cx="182.9" cy="180.5" r="3.0"/><circle cx="183.7" cy="182.3" r="3.0"/><circle cx="183.9" cy="185.4" r="3.0"/><circle cx="184.6" cy="189.4" r="3.0"/><circle cx="185.1" cy="191.6" r="3.0"/><circle cx="185.8" cy="190.5" r="3.0"/><circle cx="186.5" cy="191.6" r="3.0"/><circle cx="187.4" cy="191.8" r="3.0"/><circle cx="187.6" cy="195.4" r="3.0"/><circle cx="188.3" cy="193.0" r="3.0"/><circle cx="188.8" cy="192.3" r="3.0"/><circle cx="189.9" cy="193.5" r="3.0"/><circle cx="190.2" cy="190.4" r="3.0"/><circle cx="190.6" cy="187.3" r="3.0"/><circle cx="191.3" cy="187.7" r="3.0"/><circle cx="191.8" cy="189.4" r="3.0"/><circle cx="192.9" cy="184.6" r="3.0"/><circle cx="193.0" cy="186.4" r="3.0"/><circle cx="193.5" cy="185.7" r="3.0"/><circle cx="194.7" cy="184.9" r="3.0"/><circle cx="195.1" cy="185.8" r="3.0"/><circle cx="195.5" cy="180.4" r="3.0"/><circle cx="196.4" cy="177.5" r="3.0"/><circle cx="197.0" cy="177.0" r="3.0"/><circle cx="197.2" cy="174.6" r="3.0"/><circle cx="198.3" cy="176.2" r="3.0"/><circle cx="198.8" cy="175.6" r="3.0"/><circle cx="199.3" cy="174.7" r="3.0"/><circle cx="199.8" cy="170.9" r="3.0"/><circle cx="200.1" cy="171.6" r="3.0"/><circle cx="200.9" cy="170.5" r="3.0"/><circle cx="201.7" cy="172.1" r="3.0"/><circle cx="202.2" cy="176.1" r="3.0"/><circle cx="203.1" cy="176.5" r="3.0"/><circle cx="203.3" cy="177.1" r="3.0"/><circle cx="203.8" cy="175.8" r="3.0"/><circle cx="204.4" cy="179.0" r="3.0"/><circle cx="205.4" cy="184.4" r="3.0"/><circle cx="205.8" cy="188.5" r="3.0"/><circle cx="206.6" cy="189.8" r="3.0"/><circle cx="207.1" cy="189.2" r="3.0"/><circle cx="207.8" cy="195.5" r="3.0"/><circle cx="208.2" cy="196.4" r="3.0"/><circle cx="209.0" cy="193.8" r="3.0"/><circle cx="209.6" cy="194.9" r="3.0"/><circle cx="209.9" cy="198.4" r="3.0"/><circle cx="210.9" cy="191.5" r="3.0"/><circle cx="211.0" cy="189.7" r="3.0"/><circle cx="211.6" cy="181.6" r="3.0"/><circle cx="212.6" cy="188.4" r="3.0"/><circle cx="213.2" cy="188.2" r="3.0"/><circle cx="213.7" cy="192.3" r="3.0"/><circle cx="214.2" cy="188.7" r="3.0"/><circle cx="214.5" cy="187.1" r="3.0"/><circle cx="215.5" cy="192.0" r="3.0"/><circle cx="216.3" cy="189.0" r="3.0"/><circle cx="216.8" cy="188.1" r="3.0"/><circle cx="217.0" cy="190.6" r="3.0"/><circle cx="217.7" cy="186.2" r="3.0"/><circle cx="218.5" cy="185.7" r="3.0"/><circle cx="219.0" cy="185.2" r="3.0"/><circle cx="219.8" cy="183.6" r="3.0"/><circle cx="220.2" cy="184.7" r="3.0"/><circle cx="221.0" cy="185.8" r="3.0"/><circle cx="221.7" cy="184.0" r="3.0"/><circle cx="222.0" cy="184.0" r="3.0"/><circle cx="222.3" cy="185.2" r="3.0"/><circle cx="223.0" cy="185.6" r="3.0"/><circle cx="224.0" cy="183.3" r="3.0"/><circle cx="224.4" cy="185.5" r="3.0"/><circle cx="225.0" cy="190.7" r="3.0"/><circle cx="225.6" cy="186.5" r="3.0"/><circle cx="226.4" cy="187.0" r="3.0"/><circle cx="226.8" cy="182.4" r="3.0"/><circle cx="227.3" cy="182.3" r="3.0"/><circle cx="228.0" cy="185.0" r="3.0"/><circle cx="228.8" cy="184.3" r="3.0"/><circle cx="229.2" cy="187.7" r="3.0"/><circle cx="229.8" cy="186.2" r="3.0"/><circle cx="230.5" cy="186.3" r="3.0"/><circle cx="231.0" cy="186.6" r="3.0"/><circle cx="231.9" cy="187.4" r="3.0"/><circle cx="232.4" cy="189.6" r="3.0"/><circle cx="232.7" cy="191.7" r="3.0"/><circle cx="233.7" cy="189.8" r="3.0"/><circle cx="233.8" cy="192.0" r="3.0"/><circle cx="234.6" cy="188.4" r="3.0"/><circle cx="235.0" cy="188.9" r="3.0"/><circle cx="235.9" cy="189.6" r="3.0"/><circle cx="236.6" cy="193.4" r="3.0"/><circle cx="237.1" cy="190.3" r="3.0"/><circle cx="237.4" cy="192.8" r="3.0"/><circle cx="238.5" cy="193.9" r="3.0"/><circle cx="239.1" cy="190.6" r="3.0"/><circle cx="239.4" cy="191.5" r="3.0"/><circle cx="240.2" cy="194.4" r="3.0"/><circle cx="240.6" cy="190.6" r="3.0"/><circle cx="241.1" cy="192.7" r="3.0"/><circle cx="241.7" cy="191.4" r="3.0"/><circle cx="242.1" cy="194.3" r="3.0"/><circle cx="243.0" cy="193.8" r="3.0"/><circle cx="243.5" cy="191.4" r="3.0"/><circle cx="244.2" cy="194.5" r="3.0"/><circle cx="245.1" cy="191.2" r="3.0"/><circle cx="245.7" cy="194.4" r="3.0"/><circle cx="245.9" cy="190.5" r="3.0"/><circle cx="246.8" cy="189.7" r="3.0"/><circle cx="247.0" cy="190.5" r="3.0"/><circle cx="248.0" cy="190.8" r="3.0"/><circle cx="248.3" cy="193.7" r="3.0"/><circle cx="249.3" cy="191.9" r="3.0"/><circle cx="249.7" cy="195.6" r="3.0"/><circle cx="249.9" cy="194.8" r="3.0"/><circle cx="250.8" cy="199.4" r="3.0"/><circle cx="251.7" cy="198.0" r="3.0"/><circle cx="252.2" cy="202.5" r="3.0"/><circle cx="252.8" cy="200.3" r="3.0"/><circle cx="253.4" cy="198.2" r="3.0"/><circle cx="253.7" cy="199.9" r="3.0"/><circle cx="254.1" cy="200.9" r="3.0"/><circle cx="253.6" cy="198.2" r="3.0"/><circle cx="254.2" cy="184.1" r="3.0"/><circle cx="254.2" cy="166.6" r="3.0"/><circle cx="254.2" cy="164.1" r="3.0"/><circle cx="254.3" cy="175.1" r="3.0"/><circle cx="254.3" cy="193.9" r="3.0"/><circle cx="254.8" cy="183.0" r="3.0"/><circle cx="254.7" cy="176.6" r="3.0"/><circle cx="254.7" cy="172.5" r="3.0"/><circle cx="255.0" cy="192.8" r="3.0"/><circle cx="255.0" cy="170.0" r="3.0"/><circle cx="255.4" cy="201.3" r="3.0"/><circle cx="255.6" cy="196.4" r="3.0"/><circle cx="255.8" cy="182.8" r="3.0"/><circle cx="255.6" cy="178.5" r="3.0"/><circle cx="255.9" cy="190.9" r="3.0"/><circle cx="256.4" cy="176.4" r="3.0"/><circle cx="256.3" cy="191.7" r="3.0"/><circle cx="256.1" cy="179.0" r="3.0"/><circle cx="256.0" cy="164.3" r="3.0"/><circle cx="256.3" cy="165.0" r="3.0"/><circle cx="256.6" cy="172.7" r="3.0"/><circle cx="257.0" cy="165.5" r="3.0"/><circle cx="256.9" cy="198.6" r="3.0"/><circle cx="256.6" cy="173.8" r="3.0"/><circle cx="256.8" cy="174.3" r="3.0"/><circle cx="257.4" cy="168.6" r="3.0"/><circle cx="257.7" cy="173.1" r="3.0"/><circle cx="257.4" cy="202.9" r="3.0"/><circle cx="257.7" cy="172.3" r="3.0"/><circle cx="257.3" cy="175.0" r="3.0"/><circle cx="257.9" cy="169.5" r="3.0"/><circle cx="258.0" cy="184.2" r="3.0"/><circle cx="258.0" cy="175.7" r="3.0"/><circle cx="257.9" cy="169.6" r="3.0"/><circle cx="257.9" cy="172.2" r="3.0"/><circle cx="258.3" cy="170.7" r="3.0"/><circle cx="258.4" cy="178.8" r="3.0"/><circle cx="258.6" cy="187.4" r="3.0"/><circle cx="258.7" cy="192.5" r="3.0"/><circle cx="258.8" cy="191.4" r="3.0"/><circle cx="259.1" cy="181.2" r="3.0"/><circle cx="259.0" cy="199.4" r="3.0"/><circle cx="259.3" cy="191.5" r="3.0"/><circle cx="259.4" cy="170.6" r="3.0"/><circle cx="259.3" cy="196.6" r="3.0"/><circle cx="260.0" cy="191.6" r="3.0"/><circle cx="259.8" cy="173.5" r="3.0"/><circle cx="260.0" cy="184.6" r="3.0"/><circle cx="260.0" cy="193.7" r="3.0"/><circle cx="260.0" cy="187.0" r="3.0"/><circle cx="260.5" cy="189.8" r="3.0"/><circle cx="260.1" cy="176.1" r="3.0"/><circle cx="260.3" cy="173.2" r="3.0"/><circle cx="260.6" cy="172.3" r="3.0"/><circle cx="260.5" cy="186.0" r="3.0"/><circle cx="261.1" cy="187.9" r="3.0"/><circle cx="260.7" cy="183.8" r="3.0"/><circle cx="261.1" cy="193.1" r="3.0"/><circle cx="261.0" cy="184.2" r="3.0"/><circle cx="260.7" cy="188.9" r="3.0"/><circle cx="261.5" cy="184.3" r="3.0"/><circle cx="261.5" cy="168.5" r="3.0"/><circle cx="261.4" cy="184.2" r="3.0"/><circle cx="261.9" cy="184.4" r="3.0"/><circle cx="261.5" cy="178.5" r="3.0"/><circle cx="262.3" cy="166.5" r="3.0"/><circle cx="262.3" cy="169.3" r="3.0"/><circle cx="261.9" cy="168.1" r="3.0"/><circle cx="262.7" cy="161.4" r="3.0"/><circle cx="262.7" cy="166.6" r="3.0"/><circle cx="262.5" cy="165.1" r="3.0"/><circle cx="263.3" cy="162.2" r="3.0"/><circle cx="263.5" cy="167.5" r="3.0"/><circle cx="263.3" cy="167.5" r="3.0"/><circle cx="264.0" cy="167.6" r="3.0"/><circle cx="263.8" cy="167.2" r="3.0"/><circle cx="263.8" cy="170.9" r="3.0"/><circle cx="264.9" cy="173.2" r="3.0"/><circle cx="264.6" cy="164.8" r="3.0"/><circle cx="264.9" cy="171.8" r="3.0"/><circle cx="265.1" cy="169.3" r="3.0"/><circle cx="265.5" cy="167.2" r="3.0"/><circle cx="265.2" cy="167.2" r="3.0"/><circle cx="265.8" cy="165.7" r="3.0"/><circle cx="265.6" cy="172.7" r="3.0"/><circle cx="265.8" cy="171.6" r="3.0"/><circle cx="266.5" cy="171.3" r="3.0"/><circle cx="266.6" cy="165.6" r="3.0"/><circle cx="266.1" cy="167.8" r="3.0"/><circle cx="267.0" cy="162.7" r="3.0"/><circle cx="266.9" cy="166.6" r="3.0"/><circle cx="266.9" cy="163.9" r="3.0"/><circle cx="267.8" cy="164.5" r="3.0"/><circle cx="267.8" cy="161.8" r="3.0"/><circle cx="267.4" cy="169.1" r="3.0"/><circle cx="268.3" cy="168.9" r="3.0"/><circle cx="268.1" cy="168.7" r="3.0"/><circle cx="268.1" cy="164.1" r="3.0"/><circle cx="268.9" cy="168.6" r="3.0"/><circle cx="268.8" cy="163.1" r="3.0"/><circle cx="268.5" cy="162.3" r="3.0"/><circle cx="269.6" cy="160.4" r="3.0"/><circle cx="269.7" cy="161.9" r="3.0"/><circle cx="269.3" cy="161.6" r="3.0"/><circle cx="269.8" cy="163.3" r="3.0"/><circle cx="270.9" cy="161.8" r="3.0"/><circle cx="271.4" cy="165.1" r="3.0"/><circle cx="272.0" cy="162.8" r="3.0"/><circle cx="272.4" cy="164.2" r="3.0"/><circle cx="272.7" cy="162.3" r="3.0"/><circle cx="273.6" cy="142.0" r="3.0"/><circle cx="273.7" cy="142.2" r="3.0"/><circle cx="273.3" cy="138.1" r="3.0"/><circle cx="274.0" cy="141.2" r="3.0"/><circle cx="274.7" cy="135.6" r="3.0"/><circle cx="275.5" cy="132.5" r="3.0"/><circle cx="275.9" cy="137.8" r="3.0"/><circle cx="276.5" cy="138.7" r="3.0"/><circle cx="277.1" cy="140.8" r="3.0"/><circle cx="277.6" cy="140.3" r="3.0"/><circle cx="278.0" cy="140.6" r="3.0"/><circle cx="277.6" cy="143.1" r="3.0"/><circle cx="278.7" cy="150.7" r="3.0"/><circle cx="278.2" cy="146.8" r="3.0"/><circle cx="278.2" cy="144.5" r="3.0"/><circle cx="278.8" cy="150.6" r="3.0"/><circle cx="278.9" cy="149.7" r="3.0"/><circle cx="279.2" cy="152.6" r="3.0"/><circle cx="279.5" cy="159.0" r="3.0"/><circle cx="279.6" cy="156.1" r="3.0"/><circle cx="279.5" cy="155.7" r="3.0"/><circle cx="280.1" cy="154.6" r="3.0"/><circle cx="280.0" cy="162.5" r="3.0"/><circle cx="280.3" cy="158.4" r="3.0"/><circle cx="280.6" cy="156.8" r="3.0"/><circle cx="280.6" cy="151.6" r="3.0"/><circle cx="280.8" cy="152.7" r="3.0"/><circle cx="281.6" cy="155.6" r="3.0"/><circle cx="281.1" cy="154.9" r="3.0"/><circle cx="281.5" cy="147.6" r="3.0"/><circle cx="282.0" cy="154.7" r="3.0"/><circle cx="281.7" cy="152.0" r="3.0"/><circle cx="282.3" cy="150.3" r="3.0"/><circle cx="282.8" cy="153.6" r="3.0"/><circle cx="282.4" cy="154.9" r="3.0"/><circle cx="282.4" cy="147.4" r="3.0"/><circle cx="283.3" cy="150.5" r="3.0"/><circle cx="283.3" cy="154.2" r="3.0"/><circle cx="283.4" cy="151.6" r="3.0"/><circle cx="283.8" cy="149.5" r="3.0"/><circle cx="284.0" cy="145.9" r="3.0"/><circle cx="284.1" cy="147.6" r="3.0"/><circle cx="284.3" cy="150.7" r="3.0"/><circle cx="284.3" cy="146.2" r="3.0"/><circle cx="284.5" cy="150.6" r="3.0"/><circle cx="284.7" cy="145.6" r="3.0"/><circle cx="285.0" cy="149.2" r="3.0"/><circle cx="284.8" cy="148.0" r="3.0"/><circle cx="285.3" cy="150.9" r="3.0"/><circle cx="285.6" cy="148.3" r="3.0"/><circle cx="285.7" cy="154.0" r="3.0"/><circle cx="286.2" cy="154.4" r="3.0"/><circle cx="286.0" cy="148.8" r="3.0"/><circle cx="286.3" cy="155.1" r="3.0"/><circle cx="286.5" cy="150.5" r="3.0"/><circle cx="286.9" cy="152.1" r="3.0"/><circle cx="286.7" cy="151.5" r="3.0"/><circle cx="287.7" cy="154.7" r="3.0"/><circle cx="287.1" cy="150.8" r="3.0"/><circle cx="287.4" cy="151.8" r="3.0"/><circle cx="287.8" cy="155.8" r="3.0"/><circle cx="288.1" cy="156.8" r="3.0"/><circle cx="287.8" cy="154.3" r="3.0"/><circle cx="288.5" cy="159.4" r="3.0"/><circle cx="288.4" cy="158.1" r="3.0"/><circle cx="288.8" cy="152.9" r="3.0"/><circle cx="289.5" cy="154.7" r="3.0"/><circle cx="289.0" cy="156.5" r="3.0"/><circle cx="289.2" cy="154.1" r="3.0"/><circle cx="290.1" cy="159.3" r="3.0"/><circle cx="289.7" cy="155.1" r="3.0"/><circle cx="290.1" cy="155.7" r="3.0"/><circle cx="290.1" cy="156.7" r="3.0"/><circle cx="290.9" cy="157.8" r="3.0"/><circle cx="291.8" cy="165.2" r="3.0"/><circle cx="292.5" cy="165.5" r="3.0"/><circle cx="292.7" cy="168.1" r="3.0"/><circle cx="293.7" cy="161.6" r="3.0"/><circle cx="293.7" cy="161.5" r="3.0"/><circle cx="294.5" cy="157.4" r="3.0"/><circle cx="295.1" cy="151.4" r="3.0"/><circle cx="294.9" cy="149.7" r="3.0"/><circle cx="295.1" cy="150.6" r="3.0"/><circle cx="295.6" cy="152.5" r="3.0"/><circle cx="295.6" cy="152.6" r="3.0"/><circle cx="296.0" cy="147.5" r="3.0"/><circle cx="296.4" cy="147.2" r="3.0"/><circle cx="297.0" cy="137.9" r="3.0"/><circle cx="297.9" cy="136.3" r="3.0"/><circle cx="298.1" cy="137.2" r="3.0"/><circle cx="298.5" cy="144.4" r="3.0"/><circle cx="299.6" cy="143.0" r="3.0"/><circle cx="299.7" cy="148.3" r="3.0"/><circle cx="299.7" cy="142.0" r="3.0"/><circle cx="299.9" cy="149.7" r="3.0"/><circle cx="300.8" cy="150.8" r="3.0"/><circle cx="300.5" cy="147.2" r="3.0"/><circle cx="300.7" cy="152.6" r="3.0"/><circle cx="301.3" cy="149.2" r="3.0"/><circle cx="301.1" cy="149.7" r="3.0"/><circle cx="301.4" cy="146.9" r="3.0"/><circle cx="301.9" cy="155.7" r="3.0"/><circle cx="301.5" cy="155.9" r="3.0"/><circle cx="301.8" cy="149.8" r="3.0"/><circle cx="302.7" cy="153.3" r="3.0"/><circle cx="302.3" cy="148.3" r="3.0"/><circle cx="302.4" cy="148.7" r="3.0"/><circle cx="302.8" cy="150.3" r="3.0"/><circle cx="303.1" cy="149.2" r="3.0"/><circle cx="303.2" cy="149.4" r="3.0"/><circle cx="303.5" cy="144.8" r="3.0"/><circle cx="303.5" cy="142.3" r="3.0"/><circle cx="303.3" cy="146.3" r="3.0"/><circle cx="304.4" cy="139.9" r="3.0"/><circle cx="303.9" cy="140.3" r="3.0"/><circle cx="304.2" cy="138.5" r="3.0"/><circle cx="305.1" cy="142.6" r="3.0"/><circle cx="305.1" cy="147.5" r="3.0"/><circle cx="304.6" cy="142.1" r="3.0"/><circle cx="305.4" cy="142.2" r="3.0"/><circle cx="305.4" cy="147.6" r="3.0"/><circle cx="305.4" cy="143.4" r="3.0"/><circle cx="306.1" cy="148.4" r="3.0"/><circle cx="306.2" cy="149.5" r="3.0"/><circle cx="305.8" cy="148.8" r="3.0"/><circle cx="306.5" cy="151.9" r="3.0"/><circle cx="306.5" cy="149.5" r="3.0"/><circle cx="306.4" cy="151.0" r="3.0"/><circle cx="307.0" cy="147.7" r="3.0"/><circle cx="307.4" cy="146.9" r="3.0"/><circle cx="307.1" cy="150.5" r="3.0"/><circle cx="308.1" cy="148.6" r="3.0"/><circle cx="307.6" cy="149.5" r="3.0"/><circle cx="307.9" cy="152.2" r="3.0"/><circle cx="308.2" cy="153.3" r="3.0"/><circle cx="308.6" cy="148.8" r="3.0"/><circle cx="308.6" cy="152.0" r="3.0"/><circle cx="308.9" cy="144.7" r="3.0"/><circle cx="308.8" cy="145.4" r="3.0"/><circle cx="309.0" cy="152.8" r="3.0"/><circle cx="309.5" cy="152.0" r="3.0"/><circle cx="309.6" cy="151.5" r="3.0"/><circle cx="309.8" cy="146.2" r="3.0"/><circle cx="310.0" cy="152.4" r="3.0"/><circle cx="310.3" cy="149.5" r="3.0"/><circle cx="310.1" cy="146.3" r="3.0"/><circle cx="310.6" cy="148.1" r="3.0"/><circle cx="311.5" cy="151.3" r="3.0"/><circle cx="311.8" cy="155.9" r="3.0"/><circle cx="312.5" cy="149.4" r="3.0"/><circle cx="313.0" cy="150.4" r="3.0"/><circle cx="313.6" cy="145.5" r="3.0"/><circle cx="314.4" cy="145.5" r="3.0"/><circle cx="314.8" cy="138.5" r="3.0"/><circle cx="315.6" cy="141.8" r="3.0"/><circle cx="316.0" cy="145.0" r="3.0"/><circle cx="316.9" cy="142.7" r="3.0"/><circle cx="316.7" cy="144.7" r="3.0"/><circle cx="317.1" cy="143.9" r="3.0"/><circle cx="317.4" cy="144.8" r="3.0"/><circle cx="317.3" cy="145.2" r="3.0"/><circle cx="317.7" cy="149.4" r="3.0"/><circle cx="317.8" cy="145.9" r="3.0"/><circle cx="318.4" cy="149.2" r="3.0"/><circle cx="319.4" cy="145.0" r="3.0"/><circle cx="320.0" cy="148.3" r="3.0"/><circle cx="320.6" cy="140.9" r="3.0"/><circle cx="320.8" cy="129.8" r="3.0"/><circle cx="321.6" cy="127.3" r="3.0"/><circle cx="322.4" cy="131.1" r="3.0"/><circle cx="322.9" cy="128.1" r="3.0"/><circle cx="323.4" cy="129.9" r="3.0"/><circle cx="323.9" cy="128.7" r="3.0"/><circle cx="324.9" cy="131.0" r="3.0"/><circle cx="325.2" cy="128.8" r="3.0"/><circle cx="326.1" cy="133.4" r="3.0"/><circle cx="326.2" cy="129.8" r="3.0"/><circle cx="327.3" cy="135.3" r="3.0"/><circle cx="327.3" cy="132.4" r="3.0"/><circle cx="328.1" cy="136.2" r="3.0"/><circle cx="328.9" cy="136.5" r="3.0"/><circle cx="328.6" cy="135.9" r="3.0"/><circle cx="328.6" cy="135.6" r="3.0"/><circle cx="329.6" cy="132.8" r="3.0"/><circle cx="329.2" cy="136.4" r="3.0"/><circle cx="329.3" cy="131.3" r="3.0"/><circle cx="329.9" cy="134.2" r="3.0"/><circle cx="329.8" cy="130.7" r="3.0"/><circle cx="330.2" cy="136.0" r="3.0"/><circle cx="330.6" cy="130.2" r="3.0"/><circle cx="330.3" cy="136.5" r="3.0"/><circle cx="330.4" cy="137.2" r="3.0"/><circle cx="331.2" cy="135.3" r="3.0"/><circle cx="331.1" cy="135.6" r="3.0"/><circle cx="331.2" cy="133.8" r="3.0"/><circle cx="331.9" cy="134.1" r="3.0"/><circle cx="331.8" cy="134.3" r="3.0"/><circle cx="331.9" cy="130.6" r="3.0"/><circle cx="332.2" cy="134.9" r="3.0"/><circle cx="332.6" cy="137.3" r="3.0"/><circle cx="332.2" cy="134.6" r="3.0"/><circle cx="332.8" cy="135.0" r="3.0"/><circle cx="333.0" cy="132.0" r="3.0"/><circle cx="333.0" cy="131.6" r="3.0"/><circle cx="333.3" cy="135.5" r="3.0"/><circle cx="333.3" cy="136.6" r="3.0"/><circle cx="333.8" cy="137.5" r="3.0"/><circle cx="333.9" cy="135.8" r="3.0"/><circle cx="334.1" cy="135.7" r="3.0"/><circle cx="334.0" cy="139.6" r="3.0"/><circle cx="335.1" cy="139.0" r="3.0"/><circle cx="335.0" cy="137.9" r="3.0"/><circle cx="335.1" cy="133.3" r="3.0"/><circle cx="335.7" cy="137.1" r="3.0"/><circle cx="335.2" cy="140.6" r="3.0"/><circle cx="335.7" cy="139.5" r="3.0"/><circle cx="335.9" cy="135.7" r="3.0"/><circle cx="336.4" cy="142.4" r="3.0"/><circle cx="337.1" cy="144.8" r="3.0"/><circle cx="337.6" cy="143.3" r="3.0"/><circle cx="338.7" cy="139.1" r="3.0"/><circle cx="338.9" cy="135.1" r="3.0"/><circle cx="339.5" cy="134.5" r="3.0"/><circle cx="340.0" cy="129.4" r="3.0"/><circle cx="341.1" cy="127.8" r="3.0"/><circle cx="341.6" cy="131.0" r="3.0"/><circle cx="342.2" cy="128.2" r="3.0"/><circle cx="342.0" cy="127.8" r="3.0"/><circle cx="341.9" cy="132.1" r="3.0"/><circle cx="342.6" cy="135.9" r="3.0"/><circle cx="342.8" cy="133.0" r="3.0"/><circle cx="342.9" cy="128.3" r="3.0"/><circle cx="343.1" cy="134.5" r="3.0"/><circle cx="343.1" cy="135.9" r="3.0"/><circle cx="343.2" cy="137.5" r="3.0"/><circle cx="344.0" cy="132.9" r="3.0"/><circle cx="343.6" cy="133.8" r="3.0"/><circle cx="343.5" cy="137.2" r="3.0"/><circle cx="344.3" cy="139.9" r="3.0"/><circle cx="344.7" cy="137.5" r="3.0"/><circle cx="344.5" cy="136.7" r="3.0"/><circle cx="344.7" cy="133.6" r="3.0"/><circle cx="344.8" cy="129.1" r="3.0"/><circle cx="345.0" cy="138.6" r="3.0"/><circle cx="345.8" cy="138.0" r="3.0"/><circle cx="345.4" cy="130.8" r="3.0"/><circle cx="345.3" cy="140.7" r="3.0"/><circle cx="345.5" cy="128.4" r="3.0"/><circle cx="345.5" cy="130.3" r="3.0"/><circle cx="346.3" cy="132.9" r="3.0"/><circle cx="346.0" cy="140.5" r="3.0"/><circle cx="346.2" cy="141.2" r="3.0"/><circle cx="346.5" cy="131.0" r="3.0"/><circle cx="346.0" cy="133.3" r="3.0"/><circle cx="346.9" cy="130.3" r="3.0"/><circle cx="347.0" cy="146.8" r="3.0"/><circle cx="346.7" cy="136.8" r="3.0"/><circle cx="346.9" cy="128.4" r="3.0"/><circle cx="346.7" cy="140.2" r="3.0"/><circle cx="347.4" cy="142.4" r="3.0"/><circle cx="347.5" cy="148.8" r="3.0"/><circle cx="347.6" cy="133.7" r="3.0"/><circle cx="347.4" cy="129.2" r="3.0"/><circle cx="347.2" cy="137.1" r="3.0"/><circle cx="348.2" cy="129.5" r="3.0"/><circle cx="348.0" cy="128.5" r="3.0"/><circle cx="347.8" cy="149.5" r="3.0"/><circle cx="348.1" cy="132.7" r="3.0"/><circle cx="348.1" cy="139.7" r="3.0"/><circle cx="348.4" cy="147.1" r="3.0"/><circle cx="348.5" cy="135.4" r="3.0"/><circle cx="348.8" cy="129.3" r="3.0"/><circle cx="348.7" cy="146.4" r="3.0"/><circle cx="348.8" cy="128.3" r="3.0"/><circle cx="349.2" cy="145.9" r="3.0"/><circle cx="349.2" cy="145.9" r="3.0"/><circle cx="349.0" cy="133.6" r="3.0"/><circle cx="348.9" cy="133.7" r="3.0"/><circle cx="349.3" cy="136.2" r="3.0"/><circle cx="350.0" cy="145.2" r="3.0"/><circle cx="349.7" cy="145.6" r="3.0"/><circle cx="349.8" cy="141.7" r="3.0"/><circle cx="349.8" cy="147.4" r="3.0"/><circle cx="349.9" cy="134.7" r="3.0"/><circle cx="350.2" cy="151.9" r="3.0"/><circle cx="350.1" cy="149.8" r="3.0"/><circle cx="350.2" cy="134.6" r="3.0"/><circle cx="350.7" cy="146.5" r="3.0"/><circle cx="350.3" cy="146.6" r="3.0"/><circle cx="350.9" cy="149.9" r="3.0"/><circle cx="351.2" cy="134.1" r="3.0"/><circle cx="351.1" cy="143.7" r="3.0"/><circle cx="351.3" cy="144.6" r="3.0"/><circle cx="351.2" cy="139.7" r="3.0"/><circle cx="351.8" cy="145.4" r="3.0"/><circle cx="351.7" cy="139.0" r="3.0"/><circle cx="351.5" cy="142.2" r="3.0"/><circle cx="351.7" cy="133.4" r="3.0"/><circle cx="351.8" cy="130.1" r="3.0"/><circle cx="351.9" cy="131.8" r="3.0"/><circle cx="352.5" cy="130.8" r="3.0"/><circle cx="352.0" cy="136.7" r="3.0"/><circle cx="351.9" cy="128.9" r="3.0"/><circle cx="352.3" cy="145.2" r="3.0"/><circle cx="352.9" cy="145.3" r="3.0"/><circle cx="352.9" cy="129.8" r="3.0"/><circle cx="353.0" cy="137.1" r="3.0"/><circle cx="353.0" cy="148.4" r="3.0"/><circle cx="353.0" cy="129.8" r="3.0"/><circle cx="353.7" cy="151.2" r="3.0"/><circle cx="353.2" cy="132.1" r="3.0"/><circle cx="353.1" cy="132.2" r="3.0"/><circle cx="353.6" cy="149.6" r="3.0"/><circle cx="353.6" cy="144.6" r="3.0"/><circle cx="353.9" cy="145.7" r="3.0"/><circle cx="353.8" cy="133.9" r="3.0"/><circle cx="353.8" cy="148.4" r="3.0"/><circle cx="354.0" cy="138.8" r="3.0"/><circle cx="353.9" cy="132.2" r="3.0"/><circle cx="354.7" cy="139.6" r="3.0"/><circle cx="354.5" cy="141.4" r="3.0"/><circle cx="354.6" cy="153.7" r="3.0"/><circle cx="354.7" cy="151.3" r="3.0"/><circle cx="354.5" cy="134.4" r="3.0"/><circle cx="355.4" cy="144.1" r="3.0"/><circle cx="355.3" cy="142.4" r="3.0"/><circle cx="355.0" cy="146.1" r="3.0"/><circle cx="355.0" cy="152.4" r="3.0"/><circle cx="355.0" cy="151.6" r="3.0"/><circle cx="355.6" cy="136.8" r="3.0"/><circle cx="356.1" cy="151.3" r="3.0"/><circle cx="355.8" cy="136.9" r="3.0"/><circle cx="356.0" cy="146.2" r="3.0"/><circle cx="355.8" cy="140.3" r="3.0"/><circle cx="356.6" cy="144.5" r="3.0"/><circle cx="356.7" cy="142.9" r="3.0"/><circle cx="356.2" cy="143.3" r="3.0"/><circle cx="356.4" cy="151.1" r="3.0"/><circle cx="356.5" cy="140.1" r="3.0"/><circle cx="357.2" cy="140.7" r="3.0"/><circle cx="357.2" cy="151.9" r="3.0"/><circle cx="356.9" cy="150.7" r="3.0"/><circle cx="356.9" cy="146.5" r="3.0"/><circle cx="356.8" cy="155.5" r="3.0"/><circle cx="357.3" cy="156.3" r="3.0"/><circle cx="357.5" cy="144.1" r="3.0"/><circle cx="357.6" cy="156.5" r="3.0"/><circle cx="358.4" cy="148.2" r="3.0"/><circle cx="358.2" cy="145.7" r="3.0"/><circle cx="358.4" cy="150.9" r="3.0"/><circle cx="358.9" cy="155.7" r="3.0"/><circle cx="358.7" cy="148.7" r="3.0"/><circle cx="359.0" cy="145.5" r="3.0"/><circle cx="359.5" cy="155.0" r="3.0"/><circle cx="359.4" cy="146.8" r="3.0"/><circle cx="359.4" cy="156.9" r="3.0"/><circle cx="360.0" cy="147.3" r="3.0"/><circle cx="359.8" cy="159.6" r="3.0"/><circle cx="359.9" cy="148.3" r="3.0"/><circle cx="360.8" cy="157.6" r="3.0"/><circle cx="360.4" cy="148.9" r="3.0"/><circle cx="360.5" cy="150.3" r="3.0"/><circle cx="361.0" cy="156.1" r="3.0"/><circle cx="361.0" cy="152.8" r="3.0"/><circle cx="361.3" cy="163.6" r="3.0"/><circle cx="362.1" cy="150.0" r="3.0"/><circle cx="361.7" cy="150.0" r="3.0"/><circle cx="362.0" cy="167.3" r="3.0"/><circle cx="361.8" cy="162.4" r="3.0"/><circle cx="361.9" cy="151.8" r="3.0"/><circle cx="362.2" cy="151.0" r="3.0"/><circle cx="362.1" cy="157.4" r="3.0"/><circle cx="362.6" cy="157.6" r="3.0"/><circle cx="362.4" cy="164.3" r="3.0"/><circle cx="362.4" cy="162.9" r="3.0"/><circle cx="363.1" cy="152.8" r="3.0"/><circle cx="363.1" cy="159.6" r="3.0"/><circle cx="363.0" cy="172.4" r="3.0"/><circle cx="363.1" cy="163.9" r="3.0"/><circle cx="362.8" cy="160.0" r="3.0"/><circle cx="363.8" cy="167.8" r="3.0"/><circle cx="363.7" cy="169.1" r="3.0"/><circle cx="363.7" cy="171.1" r="3.0"/><circle cx="363.6" cy="165.7" r="3.0"/><circle cx="363.7" cy="157.3" r="3.0"/><circle cx="364.2" cy="151.7" r="3.0"/><circle cx="364.3" cy="169.4" r="3.0"/><circle cx="364.1" cy="165.5" r="3.0"/><circle cx="364.2" cy="160.1" r="3.0"/><circle cx="364.1" cy="165.3" r="3.0"/><circle cx="365.1" cy="166.7" r="3.0"/><circle cx="364.9" cy="154.0" r="3.0"/><circle cx="364.7" cy="169.4" r="3.0"/><circle cx="365.1" cy="161.9" r="3.0"/><circle cx="364.8" cy="150.2" r="3.0"/><circle cx="365.6" cy="153.4" r="3.0"/><circle cx="365.4" cy="173.7" r="3.0"/><circle cx="365.4" cy="151.8" r="3.0"/><circle cx="365.5" cy="163.3" r="3.0"/><circle cx="365.5" cy="162.6" r="3.0"/><circle cx="366.0" cy="170.9" r="3.0"/><circle cx="366.3" cy="160.0" r="3.0"/><circle cx="366.1" cy="154.7" r="3.0"/><circle cx="366.2" cy="159.5" r="3.0"/><circle cx="366.3" cy="152.4" r="3.0"/><circle cx="366.3" cy="158.6" r="3.0"/><circle cx="366.5" cy="156.4" r="3.0"/><circle cx="366.6" cy="149.6" r="3.0"/><circle cx="366.7" cy="160.3" r="3.0"/><circle cx="366.5" cy="158.5" r="3.0"/><circle cx="367.3" cy="155.1" r="3.0"/><circle cx="367.2" cy="174.1" r="3.0"/><circle cx="367.4" cy="155.0" r="3.0"/><circle cx="367.0" cy="159.6" r="3.0"/><circle cx="367.4" cy="152.6" r="3.0"/><circle cx="367.9" cy="170.7" r="3.0"/><circle cx="367.8" cy="161.7" r="3.0"/><circle cx="368.1" cy="155.2" r="3.0"/><circle cx="367.9" cy="158.6" r="3.0"/><circle cx="368.0" cy="170.9" r="3.0"/><circle cx="368.3" cy="161.2" r="3.0"/><circle cx="368.2" cy="163.2" r="3.0"/><circle cx="368.3" cy="170.3" r="3.0"/><circle cx="368.3" cy="170.7" r="3.0"/><circle cx="368.3" cy="158.9" r="3.0"/><circle cx="368.8" cy="159.6" r="3.0"/><circle cx="369.1" cy="150.3" r="3.0"/><circle cx="368.8" cy="156.4" r="3.0"/><circle cx="369.0" cy="156.9" r="3.0"/><circle cx="369.1" cy="159.7" r="3.0"/><circle cx="369.5" cy="163.6" r="3.0"/><circle cx="369.8" cy="168.8" r="3.0"/><circle cx="369.8" cy="151.9" r="3.0"/><circle cx="369.8" cy="168.4" r="3.0"/><circle cx="369.8" cy="153.5" r="3.0"/><circle cx="369.9" cy="162.3" r="3.0"/><circle cx="370.5" cy="151.2" r="3.0"/><circle cx="370.1" cy="162.7" r="3.0"/><circle cx="370.6" cy="152.3" r="3.0"/><circle cx="371.0" cy="154.7" r="3.0"/><circle cx="370.6" cy="156.8" r="3.0"/><circle cx="371.0" cy="167.0" r="3.0"/><circle cx="371.0" cy="153.5" r="3.0"/><circle cx="371.6" cy="161.4" r="3.0"/><circle cx="371.6" cy="162.5" r="3.0"/><circle cx="371.6" cy="164.8" r="3.0"/><circle cx="371.5" cy="153.6" r="3.0"/><circle cx="371.5" cy="159.9" r="3.0"/><circle cx="372.2" cy="157.8" r="3.0"/><circle cx="371.9" cy="160.1" r="3.0"/><circle cx="371.8" cy="153.8" r="3.0"/><circle cx="371.7" cy="158.9" r="3.0"/><circle cx="371.8" cy="158.4" r="3.0"/><circle cx="372.6" cy="156.4" r="3.0"/><circle cx="372.8" cy="157.6" r="3.0"/><circle cx="372.8" cy="143.8" r="3.0"/><circle cx="372.6" cy="155.8" r="3.0"/><circle cx="372.8" cy="160.9" r="3.0"/><circle cx="373.2" cy="150.1" r="3.0"/><circle cx="372.9" cy="169.1" r="3.0"/><circle cx="373.3" cy="158.6" r="3.0"/><circle cx="373.3" cy="138.9" r="3.0"/><circle cx="373.5" cy="160.1" r="3.0"/><circle cx="374.1" cy="147.0" r="3.0"/><circle cx="373.8" cy="153.4" r="3.0"/><circle cx="373.5" cy="167.2" r="3.0"/><circle cx="373.9" cy="160.8" r="3.0"/><circle cx="374.0" cy="147.3" r="3.0"/><circle cx="374.4" cy="148.3" r="3.0"/><circle cx="374.6" cy="154.0" r="3.0"/><circle cx="374.4" cy="142.7" r="3.0"/><circle cx="374.4" cy="150.3" r="3.0"/><circle cx="374.3" cy="164.8" r="3.0"/><circle cx="374.9" cy="164.9" r="3.0"/><circle cx="374.9" cy="153.3" r="3.0"/><circle cx="375.3" cy="153.4" r="3.0"/><circle cx="375.2" cy="158.7" r="3.0"/><circle cx="374.9" cy="147.1" r="3.0"/><circle cx="375.7" cy="146.0" r="3.0"/><circle cx="375.8" cy="158.1" r="3.0"/><circle cx="375.7" cy="136.6" r="3.0"/><circle cx="375.6" cy="167.1" r="3.0"/><circle cx="375.5" cy="137.0" r="3.0"/><circle cx="376.0" cy="135.4" r="3.0"/><circle cx="376.3" cy="168.6" r="3.0"/><circle cx="376.4" cy="159.0" r="3.0"/><circle cx="376.3" cy="168.1" r="3.0"/><circle cx="376.3" cy="157.5" r="3.0"/><circle cx="376.9" cy="160.5" r="3.0"/><circle cx="376.6" cy="159.9" r="3.0"/><circle cx="376.8" cy="159.4" r="3.0"/><circle cx="376.6" cy="162.9" r="3.0"/><circle cx="376.5" cy="141.8" r="3.0"/><circle cx="377.6" cy="163.4" r="3.0"/><circle cx="377.3" cy="159.1" r="3.0"/><circle cx="377.6" cy="165.2" r="3.0"/><circle cx="377.3" cy="155.7" r="3.0"/><circle cx="377.4" cy="146.2" r="3.0"/><circle cx="378.0" cy="146.9" r="3.0"/><circle cx="378.3" cy="158.7" r="3.0"/><circle cx="378.0" cy="137.2" r="3.0"/><circle cx="377.8" cy="136.6" r="3.0"/><circle cx="378.0" cy="164.9" r="3.0"/><circle cx="378.6" cy="169.0" r="3.0"/><circle cx="378.5" cy="135.9" r="3.0"/><circle cx="378.9" cy="157.0" r="3.0"/><circle cx="378.6" cy="171.3" r="3.0"/><circle cx="378.4" cy="150.5" r="3.0"/><circle cx="379.0" cy="159.1" r="3.0"/><circle cx="378.9" cy="141.1" r="3.0"/><circle cx="379.3" cy="135.7" r="3.0"/><circle cx="379.5" cy="140.0" r="3.0"/><circle cx="379.4" cy="138.8" r="3.0"/><circle cx="379.5" cy="140.4" r="3.0"/><circle cx="379.6" cy="162.0" r="3.0"/><circle cx="379.6" cy="162.6" r="3.0"/><circle cx="380.0" cy="137.5" r="3.0"/><circle cx="380.0" cy="161.8" r="3.0"/><circle cx="380.2" cy="162.6" r="3.0"/><circle cx="380.5" cy="158.9" r="3.0"/><circle cx="380.7" cy="152.7" r="3.0"/><circle cx="380.7" cy="145.2" r="3.0"/><circle cx="380.1" cy="162.1" r="3.0"/><circle cx="381.1" cy="136.6" r="3.0"/><circle cx="380.7" cy="166.0" r="3.0"/><circle cx="381.1" cy="147.4" r="3.0"/><circle cx="381.2" cy="142.1" r="3.0"/><circle cx="380.7" cy="153.9" r="3.0"/><circle cx="381.6" cy="150.2" r="3.0"/><circle cx="381.7" cy="152.7" r="3.0"/><circle cx="381.8" cy="142.1" r="3.0"/><circle cx="381.7" cy="150.0" r="3.0"/><circle cx="381.6" cy="159.6" r="3.0"/><circle cx="382.4" cy="153.8" r="3.0"/><circle cx="382.4" cy="171.9" r="3.0"/><circle cx="382.1" cy="159.7" r="3.0"/><circle cx="382.5" cy="143.3" r="3.0"/><circle cx="382.4" cy="164.1" r="3.0"/><circle cx="382.9" cy="155.3" r="3.0"/><circle cx="383.0" cy="173.9" r="3.0"/><circle cx="382.7" cy="163.0" r="3.0"/><circle cx="383.0" cy="158.1" r="3.0"/><circle cx="382.9" cy="156.6" r="3.0"/><circle cx="383.6" cy="163.9" r="3.0"/><circle cx="383.3" cy="169.6" r="3.0"/><circle cx="383.3" cy="147.3" r="3.0"/><circle cx="383.5" cy="158.9" r="3.0"/><circle cx="383.6" cy="169.8" r="3.0"/><circle cx="384.2" cy="148.6" r="3.0"/><circle cx="384.2" cy="169.8" r="3.0"/><circle cx="383.9" cy="163.2" r="3.0"/><circle cx="384.2" cy="170.9" r="3.0"/><circle cx="384.2" cy="166.3" r="3.0"/><circle cx="384.4" cy="157.1" r="3.0"/><circle cx="384.8" cy="162.8" r="3.0"/><circle cx="384.8" cy="153.1" r="3.0"/><circle cx="384.4" cy="173.2" r="3.0"/><circle cx="384.7" cy="164.3" r="3.0"/><circle cx="385.0" cy="160.5" r="3.0"/><circle cx="385.4" cy="154.7" r="3.0"/><circle cx="385.2" cy="169.5" r="3.0"/><circle cx="385.4" cy="150.1" r="3.0"/><circle cx="385.0" cy="169.0" r="3.0"/><circle cx="386.0" cy="163.8" r="3.0"/><circle cx="385.8" cy="172.2" r="3.0"/><circle cx="385.9" cy="160.9" r="3.0"/><circle cx="385.6" cy="153.0" r="3.0"/><circle cx="385.9" cy="152.7" r="3.0"/><circle cx="386.4" cy="157.9" r="3.0"/><circle cx="386.4" cy="159.0" r="3.0"/><circle cx="386.1" cy="152.0" r="3.0"/><circle cx="386.3" cy="175.4" r="3.0"/><circle cx="386.5" cy="150.8" r="3.0"/><circle cx="386.8" cy="169.7" r="3.0"/><circle cx="386.9" cy="164.5" r="3.0"/><circle cx="386.7" cy="162.3" r="3.0"/><circle cx="387.3" cy="148.9" r="3.0"/><circle cx="387.0" cy="171.9" r="3.0"/><circle cx="387.5" cy="163.8" r="3.0"/><circle cx="387.6" cy="169.6" r="3.0"/><circle cx="387.8" cy="174.2" r="3.0"/><circle cx="387.9" cy="170.7" r="3.0"/><circle cx="387.3" cy="155.1" r="3.0"/><circle cx="388.0" cy="153.6" r="3.0"/><circle cx="387.9" cy="150.5" r="3.0"/><circle cx="388.4" cy="163.2" r="3.0"/><circle cx="388.5" cy="160.5" r="3.0"/><circle cx="387.9" cy="172.7" r="3.0"/><circle cx="388.7" cy="163.0" r="3.0"/><circle cx="389.1" cy="151.2" r="3.0"/><circle cx="388.8" cy="154.6" r="3.0"/><circle cx="389.1" cy="164.1" r="3.0"/><circle cx="388.7" cy="164.8" r="3.0"/><circle cx="389.2" cy="158.4" r="3.0"/><circle cx="389.7" cy="170.1" r="3.0"/><circle cx="389.1" cy="153.2" r="3.0"/><circle cx="389.3" cy="154.0" r="3.0"/><circle cx="389.6" cy="168.7" r="3.0"/><circle cx="389.7" cy="165.4" r="3.0"/><circle cx="390.1" cy="164.4" r="3.0"/><circle cx="390.3" cy="161.5" r="3.0"/><circle cx="389.8" cy="149.3" r="3.0"/><circle cx="390.3" cy="163.8" r="3.0"/><circle cx="390.5" cy="162.0" r="3.0"/><circle cx="390.8" cy="160.3" r="3.0"/><circle cx="390.5" cy="150.4" r="3.0"/><circle cx="390.4" cy="153.5" r="3.0"/><circle cx="390.4" cy="158.0" r="3.0"/><circle cx="391.0" cy="153.0" r="3.0"/><circle cx="390.9" cy="162.0" r="3.0"/><circle cx="391.0" cy="162.8" r="3.0"/><circle cx="391.5" cy="148.9" r="3.0"/><circle cx="391.5" cy="152.7" r="3.0"/><circle cx="392.0" cy="165.7" r="3.0"/><circle cx="391.8" cy="151.0" r="3.0"/><circle cx="392.1" cy="150.2" r="3.0"/><circle cx="391.9" cy="165.2" r="3.0"/><circle cx="391.7" cy="157.3" r="3.0"/><circle cx="392.4" cy="164.7" r="3.0"/><circle cx="392.2" cy="160.8" r="3.0"/><circle cx="392.1" cy="152.6" r="3.0"/><circle cx="392.4" cy="162.5" r="3.0"/><circle cx="392.6" cy="151.1" r="3.0"/><circle cx="392.9" cy="153.5" r="3.0"/><circle cx="392.9" cy="151.3" r="3.0"/><circle cx="392.9" cy="164.9" r="3.0"/><circle cx="393.0" cy="151.5" r="3.0"/><circle cx="393.2" cy="154.5" r="3.0"/><circle cx="393.9" cy="150.4" r="3.0"/><circle cx="393.8" cy="149.3" r="3.0"/><circle cx="393.4" cy="161.4" r="3.0"/><circle cx="393.5" cy="157.6" r="3.0"/><circle cx="393.4" cy="153.3" r="3.0"/><circle cx="394.5" cy="155.6" r="3.0"/><circle cx="394.5" cy="168.2" r="3.0"/><circle cx="394.1" cy="150.3" r="3.0"/><circle cx="393.9" cy="166.1" r="3.0"/><circle cx="394.1" cy="162.8" r="3.0"/><circle cx="394.5" cy="169.0" r="3.0"/><circle cx="394.7" cy="165.4" r="3.0"/><circle cx="394.5" cy="151.6" r="3.0"/><circle cx="394.8" cy="165.9" r="3.0"/><circle cx="394.8" cy="152.6" r="3.0"/><circle cx="395.2" cy="168.7" r="3.0"/><circle cx="395.2" cy="161.4" r="3.0"/><circle cx="395.6" cy="153.0" r="3.0"/><circle cx="395.2" cy="164.4" r="3.0"/><circle cx="395.2" cy="150.8" r="3.0"/><circle cx="396.0" cy="172.3" r="3.0"/><circle cx="395.8" cy="162.9" r="3.0"/><circle cx="396.1" cy="172.4" r="3.0"/><circle cx="396.0" cy="178.0" r="3.0"/><circle cx="395.7" cy="160.9" r="3.0"/><circle cx="396.5" cy="186.7" r="3.0"/><circle cx="396.3" cy="186.3" r="3.0"/><circle cx="396.5" cy="189.3" r="3.0"/><circle cx="396.8" cy="190.4" r="3.0"/><circle cx="396.3" cy="178.5" r="3.0"/><circle cx="397.2" cy="192.9" r="3.0"/><circle cx="397.1" cy="191.7" r="3.0"/><circle cx="397.4" cy="169.9" r="3.0"/><circle cx="397.0" cy="175.7" r="3.0"/><circle cx="397.3" cy="175.8" r="3.0"/><circle cx="397.8" cy="166.5" r="3.0"/><circle cx="397.8" cy="179.5" r="3.0"/><circle cx="397.9" cy="170.0" r="3.0"/><circle cx="398.0" cy="190.4" r="3.0"/><circle cx="397.9" cy="175.8" r="3.0"/><circle cx="398.6" cy="179.1" r="3.0"/><circle cx="398.6" cy="170.5" r="3.0"/><circle cx="398.4" cy="194.6" r="3.0"/><circle cx="398.4" cy="182.7" r="3.0"/><circle cx="398.1" cy="183.3" r="3.0"/><circle cx="398.8" cy="185.7" r="3.0"/><circle cx="398.8" cy="171.9" r="3.0"/><circle cx="399.2" cy="173.1" r="3.0"/><circle cx="399.4" cy="168.4" r="3.0"/><circle cx="399.4" cy="174.2" r="3.0"/><circle cx="399.7" cy="168.3" r="3.0"/><circle cx="400.2" cy="173.2" r="3.0"/><circle cx="400.0" cy="174.3" r="3.0"/><circle cx="400.3" cy="175.8" r="3.0"/><circle cx="400.6" cy="168.3" r="3.0"/><circle cx="400.8" cy="172.4" r="3.0"/><circle cx="400.6" cy="170.5" r="3.0"/><circle cx="401.2" cy="171.6" r="3.0"/><circle cx="401.6" cy="173.4" r="3.0"/><circle cx="401.4" cy="169.2" r="3.0"/><circle cx="401.8" cy="174.9" r="3.0"/><circle cx="402.3" cy="175.7" r="3.0"/><circle cx="402.0" cy="171.4" r="3.0"/><circle cx="402.6" cy="175.9" r="3.0"/><circle cx="402.9" cy="171.5" r="3.0"/><circle cx="402.5" cy="175.3" r="3.0"/><circle cx="403.1" cy="169.8" r="3.0"/><circle cx="403.5" cy="171.8" r="3.0"/><circle cx="403.4" cy="175.6" r="3.0"/><circle cx="404.0" cy="175.8" r="3.0"/><circle cx="403.8" cy="167.8" r="3.0"/><circle cx="404.1" cy="177.3" r="3.0"/><circle cx="404.4" cy="169.7" r="3.0"/><circle cx="404.3" cy="173.9" r="3.0"/><circle cx="404.1" cy="172.8" r="3.0"/><circle cx="405.0" cy="171.7" r="3.0"/><circle cx="404.8" cy="167.0" r="3.0"/><circle cx="405.2" cy="177.7" r="3.0"/><circle cx="405.7" cy="177.4" r="3.0"/><circle cx="405.8" cy="175.9" r="3.0"/><circle cx="405.3" cy="176.8" r="3.0"/><circle cx="406.1" cy="174.0" r="3.0"/><circle cx="406.1" cy="174.4" r="3.0"/><circle cx="406.5" cy="172.8" r="3.0"/><circle cx="406.7" cy="173.7" r="3.0"/><circle cx="406.8" cy="172.5" r="3.0"/><circle cx="406.7" cy="177.8" r="3.0"/><circle cx="407.5" cy="169.7" r="3.0"/><circle cx="407.5" cy="167.4" r="3.0"/><circle cx="407.4" cy="177.9" r="3.0"/><circle cx="408.0" cy="169.1" r="3.0"/><circle cx="407.8" cy="172.5" r="3.0"/><circle cx="407.8" cy="167.2" r="3.0"/><circle cx="408.5" cy="169.3" r="3.0"/><circle cx="408.4" cy="169.2" r="3.0"/><circle cx="408.6" cy="166.5" r="3.0"/><circle cx="409.3" cy="175.5" r="3.0"/><circle cx="409.3" cy="171.7" r="3.0"/><circle cx="409.3" cy="166.4" r="3.0"/><circle cx="409.8" cy="166.1" r="3.0"/><circle cx="409.8" cy="168.4" r="3.0"/><circle cx="409.6" cy="163.7" r="3.0"/><circle cx="410.4" cy="157.8" r="3.0"/><circle cx="410.5" cy="160.6" r="3.0"/><circle cx="410.3" cy="154.2" r="3.0"/><circle cx="410.8" cy="168.3" r="3.0"/><circle cx="411.0" cy="162.8" r="3.0"/><circle cx="411.3" cy="157.9" r="3.0"/><circle cx="411.2" cy="158.1" r="3.0"/><circle cx="410.7" cy="155.7" r="3.0"/><circle cx="411.6" cy="168.4" r="3.0"/><circle cx="411.5" cy="153.5" r="3.0"/><circle cx="411.7" cy="160.4" r="3.0"/><circle cx="411.4" cy="154.3" r="3.0"/><circle cx="411.7" cy="170.0" r="3.0"/><circle cx="412.1" cy="154.8" r="3.0"/><circle cx="412.3" cy="158.5" r="3.0"/><circle cx="412.4" cy="163.5" r="3.0"/><circle cx="412.2" cy="167.4" r="3.0"/><circle cx="412.3" cy="165.8" r="3.0"/><circle cx="412.8" cy="166.1" r="3.0"/><circle cx="412.9" cy="166.6" r="3.0"/><circle cx="412.6" cy="169.1" r="3.0"/><circle cx="412.5" cy="168.3" r="3.0"/><circle cx="412.9" cy="166.2" r="3.0"/><circle cx="413.7" cy="162.2" r="3.0"/><circle cx="413.4" cy="163.6" r="3.0"/><circle cx="413.6" cy="167.8" r="3.0"/><circle cx="413.3" cy="164.3" r="3.0"/><circle cx="413.4" cy="161.3" r="3.0"/><circle cx="413.9" cy="168.4" r="3.0"/><circle cx="414.0" cy="161.9" r="3.0"/><circle cx="413.9" cy="161.7" r="3.0"/><circle cx="414.2" cy="169.6" r="3.0"/><circle cx="414.0" cy="164.0" r="3.0"/><circle cx="414.5" cy="159.6" r="3.0"/><circle cx="414.6" cy="158.8" r="3.0"/><circle cx="414.4" cy="167.4" r="3.0"/><circle cx="414.5" cy="174.0" r="3.0"/><circle cx="414.8" cy="172.5" r="3.0"/><circle cx="415.0" cy="176.0" r="3.0"/><circle cx="415.4" cy="165.6" r="3.0"/><circle cx="414.9" cy="157.5" r="3.0"/><circle cx="415.2" cy="168.3" r="3.0"/><circle cx="415.4" cy="175.2" r="3.0"/><circle cx="416.1" cy="167.9" r="3.0"/><circle cx="415.8" cy="167.5" r="3.0"/><circle cx="415.7" cy="170.7" r="3.0"/><circle cx="415.9" cy="164.4" r="3.0"/><circle cx="416.1" cy="164.3" r="3.0"/><circle cx="416.4" cy="170.6" r="3.0"/><circle cx="416.3" cy="159.6" r="3.0"/><circle cx="416.4" cy="165.3" r="3.0"/><circle cx="416.6" cy="168.7" r="3.0"/><circle cx="416.4" cy="176.1" r="3.0"/><circle cx="417.1" cy="166.2" r="3.0"/><circle cx="416.9" cy="176.7" r="3.0"/><circle cx="417.2" cy="167.9" r="3.0"/><circle cx="416.9" cy="161.1" r="3.0"/><circle cx="417.2" cy="176.4" r="3.0"/><circle cx="417.4" cy="167.7" r="3.0"/><circle cx="417.7" cy="174.8" r="3.0"/><circle cx="417.9" cy="173.4" r="3.0"/><circle cx="417.6" cy="174.7" r="3.0"/><circle cx="417.5" cy="161.0" r="3.0"/><circle cx="418.2" cy="167.3" r="3.0"/><circle cx="418.0" cy="161.4" r="3.0"/><circle cx="418.3" cy="169.5" r="3.0"/><circle cx="418.5" cy="164.4" r="3.0"/><circle cx="417.9" cy="169.6" r="3.0"/><circle cx="419.0" cy="164.4" r="3.0"/><circle cx="418.9" cy="162.6" r="3.0"/><circle cx="418.7" cy="157.5" r="3.0"/><circle cx="419.5" cy="170.1" r="3.0"/><circle cx="419.2" cy="167.4" r="3.0"/><circle cx="419.4" cy="164.7" r="3.0"/><circle cx="420.1" cy="160.1" r="3.0"/><circle cx="420.3" cy="164.0" r="3.0"/><circle cx="419.9" cy="164.6" r="3.0"/><circle cx="420.4" cy="158.1" r="3.0"/><circle cx="420.4" cy="167.1" r="3.0"/><circle cx="420.4" cy="157.8" r="3.0"/><circle cx="421.4" cy="163.6" r="3.0"/><circle cx="421.4" cy="164.9" r="3.0"/><circle cx="420.9" cy="157.4" r="3.0"/><circle cx="421.7" cy="166.8" r="3.0"/><circle cx="421.7" cy="166.1" r="3.0"/><circle cx="421.7" cy="158.9" r="3.0"/><circle cx="422.6" cy="158.1" r="3.0"/><circle cx="422.3" cy="164.2" r="3.0"/><circle cx="422.3" cy="162.5" r="3.0"/><circle cx="423.2" cy="157.7" r="3.0"/><circle cx="423.3" cy="164.1" r="3.0"/><circle cx="423.1" cy="162.3" r="3.0"/><circle cx="256.0" cy="210.0" r="3.0"/><circle cx="396.0" cy="146.0" r="3.0"/><circle cx="419.0" cy="177.0" r="3.0"/><circle cx="275.6" cy="132.0" r="3.0"/><circle cx="297.4" cy="135.5" r="3.0"/><circle cx="149.0" cy="208.5" r="3.0"/></g>
<path d="M146.8 199.2L147.3 202.3L148.1 204.2L148.8 204.2L149.4 203.9L149.8 202.8L150.8 203.4L151.0 199.8L152.1 198.4L152.3 194.3L152.7 192.4L153.5 192.7L154.0 189.6L155.0 191.3L155.4 191.3L155.9 194.9L156.3 193.2L157.0 189.3L157.8 191.9L158.5 188.8L158.9 188.5L159.7 189.2L160.2 185.9L161.0 187.7L161.3 189.1L161.8 190.7L162.8 188.3L163.2 187.5L163.9 187.8L164.4 192.2L164.9 193.5L165.7 193.4L166.2 193.5L167.1 195.2L167.5 193.8L168.1 192.2L168.9 195.5L169.1 196.8L169.9 195.0L170.4 193.6L170.8 194.7L171.8 195.2L172.0 196.5L173.0 198.8L173.4 198.3L174.2 201.6L174.8 203.1L175.1 199.0L176.0 198.0L176.2 199.6L176.8 194.3L177.6 192.8L178.1 191.8L178.8 186.2L179.4 185.3L180.1 182.7L180.7 176.0L180.9 177.8L182.0 180.0L182.6 181.4L182.9 180.5L183.7 182.3L183.9 185.4L184.6 189.4L185.1 191.6L185.8 190.5L186.5 191.6L187.4 191.8L187.6 195.4L188.3 193.0L188.8 192.3L189.9 193.5L190.2 190.4L190.6 187.3L191.3 187.7L191.8 189.4L192.9 184.6L193.0 186.4L193.5 185.7L194.7 184.9L195.1 185.8L195.5 180.4L196.4 177.5L197.0 177.0L197.2 174.6L198.3 176.2L198.8 175.6L199.3 174.7L199.8 170.9L200.1 171.6L200.9 170.5L201.7 172.1L202.2 176.1L203.1 176.5L203.3 177.1L203.8 175.8L204.4 179.0L205.4 184.4L205.8 188.5L206.6 189.8L207.1 189.2L207.8 195.5L208.2 196.4L209.0 193.8L209.6 194.9L209.9 198.4L210.9 191.5L211.0 189.7L211.6 181.6L212.6 188.4L213.2 188.2L213.7 192.3L214.2 188.7L214.5 187.1L215.5 192.0L216.3 189.0L216.8 188.1L217.0 190.6L217.7 186.2L218.5 185.7L219.0 185.2L219.8 183.6L220.2 184.7L221.0 185.8L221.7 184.0L222.0 184.0L222.3 185.2L223.0 185.6L224.0 183.3L224.4 185.5L225.0 190.7L225.6 186.5L226.4 187.0L226.8 182.4L227.3 182.3L228.0 185.0L228.8 184.3L229.2 187.7L229.8 186.2L230.5 186.3L231.0 186.6L231.9 187.4L232.4 189.6L232.7 191.7L233.7 189.8L233.8 192.0L234.6 188.4L235.0 188.9L235.9 189.6L236.6 193.4L237.1 190.3L237.4 192.8L238.5 193.9L239.1 190.6L239.4 191.5L240.2 194.4L240.6 190.6L241.1 192.7L241.7 191.4L242.1 194.3L243.0 193.8L243.5 191.4L244.2 194.5L245.1 191.2L245.7 194.4L245.9 190.5L246.8 189.7L247.0 190.5L248.0 190.8L248.3 193.7L249.3 191.9L249.7 195.6L249.9 194.8L250.8 199.4L251.7 198.0L252.2 202.5L252.8 200.3L253.4 198.2L253.7 199.9L254.1 200.9L253.6 198.2L254.2 184.1L254.2 166.6L254.2 164.1L254.3 175.1L254.3 193.9L254.8 183.0L254.7 176.6L254.7 172.5L255.0 192.8L255.0 170.0L255.4 201.3L255.6 196.4L255.8 182.8L255.6 178.5L255.9 190.9L256.4 176.4L256.3 191.7L256.1 179.0L256.0 164.3L256.3 165.0L256.6 172.7L257.0 165.5L256.9 198.6L256.6 173.8L256.8 174.3L257.4 168.6L257.7 173.1L257.4 202.9L257.7 172.3L257.3 175.0L257.9 169.5L258.0 184.2L258.0 175.7L257.9 169.6L257.9 172.2L258.3 170.7L258.4 178.8L258.6 187.4L258.7 192.5L258.8 191.4L259.1 181.2L259.0 199.4L259.3 191.5L259.4 170.6L259.3 196.6L260.0 191.6L259.8 173.5L260.0 184.6L260.0 193.7L260.0 187.0L260.5 189.8L260.1 176.1L260.3 173.2L260.6 172.3L260.5 186.0L261.1 187.9L260.7 183.8L261.1 193.1L261.0 184.2L260.7 188.9L261.5 184.3L261.5 168.5L261.4 184.2L261.9 184.4L261.5 178.5L262.3 166.5L262.3 169.3L261.9 168.1L262.7 161.4L262.7 166.6L262.5 165.1L263.3 162.2L263.5 167.5L263.3 167.5L264.0 167.6L263.8 167.2L263.8 170.9L264.9 173.2L264.6 164.8L264.9 171.8L265.1 169.3L265.5 167.2L265.2 167.2L265.8 165.7L265.6 172.7L265.8 171.6L266.5 171.3L266.6 165.6L266.1 167.8L267.0 162.7L266.9 166.6L266.9 163.9L267.8 164.5L267.8 161.8L267.4 169.1L268.3 168.9L268.1 168.7L268.1 164.1L268.9 168.6L268.8 163.1L268.5 162.3L269.6 160.4L269.7 161.9L269.3 161.6L269.8 163.3L270.9 161.8L271.4 165.1L272.0 162.8L272.4 164.2L272.7 162.3L273.6 142.0L273.7 142.2L273.3 138.1L274.0 141.2L274.7 135.6L275.5 132.5L275.9 137.8L276.5 138.7L277.1 140.8L277.6 140.3L278.0 140.6L277.6 143.1L278.7 150.7L278.2 146.8L278.2 144.5L278.8 150.6L278.9 149.7L279.2 152.6L279.5 159.0L279.6 156.1L279.5 155.7L280.1 154.6L280.0 162.5L280.3 158.4L280.6 156.8L280.6 151.6L280.8 152.7L281.6 155.6L281.1 154.9L281.5 147.6L282.0 154.7L281.7 152.0L282.3 150.3L282.8 153.6L282.4 154.9L282.4 147.4L283.3 150.5L283.3 154.2L283.4 151.6L283.8 149.5L284.0 145.9L284.1 147.6L284.3 150.7L284.3 146.2L284.5 150.6L284.7 145.6L285.0 149.2L284.8 148.0L285.3 150.9L285.6 148.3L285.7 154.0L286.2 154.4L286.0 148.8L286.3 155.1L286.5 150.5L286.9 152.1L286.7 151.5L287.7 154.7L287.1 150.8L287.4 151.8L287.8 155.8L288.1 156.8L287.8 154.3L288.5 159.4L288.4 158.1L288.8 152.9L289.5 154.7L289.0 156.5L289.2 154.1L290.1 159.3L289.7 155.1L290.1 155.7L290.1 156.7L290.9 157.8L291.8 165.2L292.5 165.5L292.7 168.1L293.7 161.6L293.7 161.5L294.5 157.4L295.1 151.4L294.9 149.7L295.1 150.6L295.6 152.5L295.6 152.6L296.0 147.5L296.4 147.2L297.0 137.9L297.9 136.3L298.1 137.2L298.5 144.4L299.6 143.0L299.7 148.3L299.7 142.0L299.9 149.7L300.8 150.8L300.5 147.2L300.7 152.6L301.3 149.2L301.1 149.7L301.4 146.9L301.9 155.7L301.5 155.9L301.8 149.8L302.7 153.3L302.3 148.3L302.4 148.7L302.8 150.3L303.1 149.2L303.2 149.4L303.5 144.8L303.5 142.3L303.3 146.3L304.4 139.9L303.9 140.3L304.2 138.5L305.1 142.6L305.1 147.5L304.6 142.1L305.4 142.2L305.4 147.6L305.4 143.4L306.1 148.4L306.2 149.5L305.8 148.8L306.5 151.9L306.5 149.5L306.4 151.0L307.0 147.7L307.4 146.9L307.1 150.5L308.1 148.6L307.6 149.5L307.9 152.2L308.2 153.3L308.6 148.8L308.6 152.0L308.9 144.7L308.8 145.4L309.0 152.8L309.5 152.0L309.6 151.5L309.8 146.2L310.0 152.4L310.3 149.5L310.1 146.3L310.6 148.1L311.5 151.3L311.8 155.9L312.5 149.4L313.0 150.4L313.6 145.5L314.4 145.5L314.8 138.5L315.6 141.8L316.0 145.0L316.9 142.7L316.7 144.7L317.1 143.9L317.4 144.8L317.3 145.2L317.7 149.4L317.8 145.9L318.4 149.2L319.4 145.0L320.0 148.3L320.6 140.9L320.8 129.8L321.6 127.3L322.4 131.1L322.9 128.1L323.4 129.9L323.9 128.7L324.9 131.0L325.2 128.8L326.1 133.4L326.2 129.8L327.3 135.3L327.3 132.4L328.1 136.2L328.9 136.5L328.6 135.9L328.6 135.6L329.6 132.8L329.2 136.4L329.3 131.3L329.9 134.2L329.8 130.7L330.2 136.0L330.6 130.2L330.3 136.5L330.4 137.2L331.2 135.3L331.1 135.6L331.2 133.8L331.9 134.1L331.8 134.3L331.9 130.6L332.2 134.9L332.6 137.3L332.2 134.6L332.8 135.0L333.0 132.0L333.0 131.6L333.3 135.5L333.3 136.6L333.8 137.5L333.9 135.8L334.1 135.7L334.0 139.6L335.1 139.0L335.0 137.9L335.1 133.3L335.7 137.1L335.2 140.6L335.7 139.5L335.9 135.7L336.4 142.4L337.1 144.8L337.6 143.3L338.7 139.1L338.9 135.1L339.5 134.5L340.0 129.4L341.1 127.8L341.6 131.0L342.2 128.2L342.0 127.8L341.9 132.1L342.6 135.9L342.8 133.0L342.9 128.3L343.1 134.5L343.1 135.9L343.2 137.5L344.0 132.9L343.6 133.8L343.5 137.2L344.3 139.9L344.7 137.5L344.5 136.7L344.7 133.6L344.8 129.1L345.0 138.6L345.8 138.0L345.4 130.8L345.3 140.7L345.5 128.4L345.5 130.3L346.3 132.9L346.0 140.5L346.2 141.2L346.5 131.0L346.0 133.3L346.9 130.3L347.0 146.8L346.7 136.8L346.9 128.4L346.7 140.2L347.4 142.4L347.5 148.8L347.6 133.7L347.4 129.2L347.2 137.1L348.2 129.5L348.0 128.5L347.8 149.5L348.1 132.7L348.1 139.7L348.4 147.1L348.5 135.4L348.8 129.3L348.7 146.4L348.8 128.3L349.2 145.9L349.2 145.9L349.0 133.6L348.9 133.7L349.3 136.2L350.0 145.2L349.7 145.6L349.8 141.7L349.8 147.4L349.9 134.7L350.2 151.9L350.1 149.8L350.2 134.6L350.7 146.5L350.3 146.6L350.9 149.9L351.2 134.1L351.1 143.7L351.3 144.6L351.2 139.7L351.8 145.4L351.7 139.0L351.5 142.2L351.7 133.4L351.8 130.1L351.9 131.8L352.5 130.8L352.0 136.7L351.9 128.9L352.3 145.2L352.9 145.3L352.9 129.8L353.0 137.1L353.0 148.4L353.0 129.8L353.7 151.2L353.2 132.1L353.1 132.2L353.6 149.6L353.6 144.6L353.9 145.7L353.8 133.9L353.8 148.4L354.0 138.8L353.9 132.2L354.7 139.6L354.5 141.4L354.6 153.7L354.7 151.3L354.5 134.4L355.4 144.1L355.3 142.4L355.0 146.1L355.0 152.4L355.0 151.6L355.6 136.8L356.1 151.3L355.8 136.9L356.0 146.2L355.8 140.3L356.6 144.5L356.7 142.9L356.2 143.3L356.4 151.1L356.5 140.1L357.2 140.7L357.2 151.9L356.9 150.7L356.9 146.5L356.8 155.5L357.3 156.3L357.5 144.1L357.6 156.5L358.4 148.2L358.2 145.7L358.4 150.9L358.9 155.7L358.7 148.7L359.0 145.5L359.5 155.0L359.4 146.8L359.4 156.9L360.0 147.3L359.8 159.6L359.9 148.3L360.8 157.6L360.4 148.9L360.5 150.3L361.0 156.1L361.0 152.8L361.3 163.6L362.1 150.0L361.7 150.0L362.0 167.3L361.8 162.4L361.9 151.8L362.2 151.0L362.1 157.4L362.6 157.6L362.4 164.3L362.4 162.9L363.1 152.8L363.1 159.6L363.0 172.4L363.1 163.9L362.8 160.0L363.8 167.8L363.7 169.1L363.7 171.1L363.6 165.7L363.7 157.3L364.2 151.7L364.3 169.4L364.1 165.5L364.2 160.1L364.1 165.3L365.1 166.7L364.9 154.0L364.7 169.4L365.1 161.9L364.8 150.2L365.6 153.4L365.4 173.7L365.4 151.8L365.5 163.3L365.5 162.6L366.0 170.9L366.3 160.0L366.1 154.7L366.2 159.5L366.3 152.4L366.3 158.6L366.5 156.4L366.6 149.6L366.7 160.3L366.5 158.5L367.3 155.1L367.2 174.1L367.4 155.0L367.0 159.6L367.4 152.6L367.9 170.7L367.8 161.7L368.1 155.2L367.9 158.6L368.0 170.9L368.3 161.2L368.2 163.2L368.3 170.3L368.3 170.7L368.3 158.9L368.8 159.6L369.1 150.3L368.8 156.4L369.0 156.9L369.1 159.7L369.5 163.6L369.8 168.8L369.8 151.9L369.8 168.4L369.8 153.5L369.9 162.3L370.5 151.2L370.1 162.7L370.6 152.3L371.0 154.7L370.6 156.8L371.0 167.0L371.0 153.5L371.6 161.4L371.6 162.5L371.6 164.8L371.5 153.6L371.5 159.9L372.2 157.8L371.9 160.1L371.8 153.8L371.7 158.9L371.8 158.4L372.6 156.4L372.8 157.6L372.8 143.8L372.6 155.8L372.8 160.9L373.2 150.1L372.9 169.1L373.3 158.6L373.3 138.9L373.5 160.1L374.1 147.0L373.8 153.4L373.5 167.2L373.9 160.8L374.0 147.3L374.4 148.3L374.6 154.0L374.4 142.7L374.4 150.3L374.3 164.8L374.9 164.9L374.9 153.3L375.3 153.4L375.2 158.7L374.9 147.1L375.7 146.0L375.8 158.1L375.7 136.6L375.6 167.1L375.5 137.0L376.0 135.4L376.3 168.6L376.4 159.0L376.3 168.1L376.3 157.5L376.9 160.5L376.6 159.9L376.8 159.4L376.6 162.9L376.5 141.8L377.6 163.4L377.3 159.1L377.6 165.2L377.3 155.7L377.4 146.2L378.0 146.9L378.3 158.7L378.0 137.2L377.8 136.6L378.0 164.9L378.6 169.0L378.5 135.9L378.9 157.0L378.6 171.3L378.4 150.5L379.0 159.1L378.9 141.1L379.3 135.7L379.5 140.0L379.4 138.8L379.5 140.4L379.6 162.0L379.6 162.6L380.0 137.5L380.0 161.8L380.2 162.6L380.5 158.9L380.7 152.7L380.7 145.2L380.1 162.1L381.1 136.6L380.7 166.0L381.1 147.4L381.2 142.1L380.7 153.9L381.6 150.2L381.7 152.7L381.8 142.1L381.7 150.0L381.6 159.6L382.4 153.8L382.4 171.9L382.1 159.7L382.5 143.3L382.4 164.1L382.9 155.3L383.0 173.9L382.7 163.0L383.0 158.1L382.9 156.6L383.6 163.9L383.3 169.6L383.3 147.3L383.5 158.9L383.6 169.8L384.2 148.6L384.2 169.8L383.9 163.2L384.2 170.9L384.2 166.3L384.4 157.1L384.8 162.8L384.8 153.1L384.4 173.2L384.7 164.3L385.0 160.5L385.4 154.7L385.2 169.5L385.4 150.1L385.0 169.0L386.0 163.8L385.8 172.2L385.9 160.9L385.6 153.0L385.9 152.7L386.4 157.9L386.4 159.0L386.1 152.0L386.3 175.4L386.5 150.8L386.8 169.7L386.9 164.5L386.7 162.3L387.3 148.9L387.0 171.9L387.5 163.8L387.6 169.6L387.8 174.2L387.9 170.7L387.3 155.1L388.0 153.6L387.9 150.5L388.4 163.2L388.5 160.5L387.9 172.7L388.7 163.0L389.1 151.2L388.8 154.6L389.1 164.1L388.7 164.8L389.2 158.4L389.7 170.1L389.1 153.2L389.3 154.0L389.6 168.7L389.7 165.4L390.1 164.4L390.3 161.5L389.8 149.3L390.3 163.8L390.5 162.0L390.8 160.3L390.5 150.4L390.4 153.5L390.4 158.0L391.0 153.0L390.9 162.0L391.0 162.8L391.5 148.9L391.5 152.7L392.0 165.7L391.8 151.0L392.1 150.2L391.9 165.2L391.7 157.3L392.4 164.7L392.2 160.8L392.1 152.6L392.4 162.5L392.6 151.1L392.9 153.5L392.9 151.3L392.9 164.9L393.0 151.5L393.2 154.5L393.9 150.4L393.8 149.3L393.4 161.4L393.5 157.6L393.4 153.3L394.5 155.6L394.5 168.2L394.1 150.3L393.9 166.1L394.1 162.8L394.5 169.0L394.7 165.4L394.5 151.6L394.8 165.9L394.8 152.6L395.2 168.7L395.2 161.4L395.6 153.0L395.2 164.4L395.2 150.8L396.0 172.3L395.8 162.9L396.1 172.4L396.0 178.0L395.7 160.9L396.5 186.7L396.3 186.3L396.5 189.3L396.8 190.4L396.3 178.5L397.2 192.9L397.1 191.7L397.4 169.9L397.0 175.7L397.3 175.8L397.8 166.5L397.8 179.5L397.9 170.0L398.0 190.4L397.9 175.8L398.6 179.1L398.6 170.5L398.4 194.6L398.4 182.7L398.1 183.3L398.8 185.7L398.8 171.9L399.2 173.1L399.4 168.4L399.4 174.2L399.7 168.3L400.2 173.2L400.0 174.3L400.3 175.8L400.6 168.3L400.8 172.4L400.6 170.5L401.2 171.6L401.6 173.4L401.4 169.2L401.8 174.9L402.3 175.7L402.0 171.4L402.6 175.9L402.9 171.5L402.5 175.3L403.1 169.8L403.5 171.8L403.4 175.6L404.0 175.8L403.8 167.8L404.1 177.3L404.4 169.7L404.3 173.9L404.1 172.8L405.0 171.7L404.8 167.0L405.2 177.7L405.7 177.4L405.8 175.9L405.3 176.8L406.1 174.0L406.1 174.4L406.5 172.8L406.7 173.7L406.8 172.5L406.7 177.8L407.5 169.7L407.5 167.4L407.4 177.9L408.0 169.1L407.8 172.5L407.8 167.2L408.5 169.3L408.4 169.2L408.6 166.5L409.3 175.5L409.3 171.7L409.3 166.4L409.8 166.1L409.8 168.4L409.6 163.7L410.4 157.8L410.5 160.6L410.3 154.2L410.8 168.3L411.0 162.8L411.3 157.9L411.2 158.1L410.7 155.7L411.6 168.4L411.5 153.5L411.7 160.4L411.4 154.3L411.7 170.0L412.1 154.8L412.3 158.5L412.4 163.5L412.2 167.4L412.3 165.8L412.8 166.1L412.9 166.6L412.6 169.1L412.5 168.3L412.9 166.2L413.7 162.2L413.4 163.6L413.6 167.8L413.3 164.3L413.4 161.3L413.9 168.4L414.0 161.9L413.9 161.7L414.2 169.6L414.0 164.0L414.5 159.6L414.6 158.8L414.4 167.4L414.5 174.0L414.8 172.5L415.0 176.0L415.4 165.6L414.9 157.5L415.2 168.3L415.4 175.2L416.1 167.9L415.8 167.5L415.7 170.7L415.9 164.4L416.1 164.3L416.4 170.6L416.3 159.6L416.4 165.3L416.6 168.7L416.4 176.1L417.1 166.2L416.9 176.7L417.2 167.9L416.9 161.1L417.2 176.4L417.4 167.7L417.7 174.8L417.9 173.4L417.6 174.7L417.5 161.0L418.2 167.3L418.0 161.4L418.3 169.5L418.5 164.4L417.9 169.6L419.0 164.4L418.9 162.6L418.7 157.5L419.5 170.1L419.2 167.4L419.4 164.7L420.1 160.1L420.3 164.0L419.9 164.6L420.4 158.1L420.4 167.1L420.4 157.8L421.4 163.6L421.4 164.9L420.9 157.4L421.7 166.8L421.7 166.1L421.7 158.9L422.6 158.1L422.3 164.2L422.3 162.5L423.2 157.7L423.3 164.1L423.1 162.3" fill="none" stroke="#a6a6a6" stroke-width="0.5" stroke-linejoin="round" stroke-linecap="round" />
<g fill="#a7a7a7"><circle cx="146.8" cy="199.2" r="2.05"/><circle cx="147.3" cy="202.3" r="2.05"/><circle cx="148.1" cy="204.2" r="2.05"/><circle cx="148.8" cy="204.2" r="2.05"/><circle cx="149.4" cy="203.9" r="2.05"/><circle cx="149.8" cy="202.8" r="2.05"/><circle cx="150.8" cy="203.4" r="2.05"/><circle cx="151.0" cy="199.8" r="2.05"/><circle cx="152.1" cy="198.4" r="2.05"/><circle cx="152.3" cy="194.3" r="2.05"/><circle cx="152.7" cy="192.4" r="2.05"/><circle cx="153.5" cy="192.7" r="2.05"/><circle cx="154.0" cy="189.6" r="2.05"/><circle cx="155.0" cy="191.3" r="2.05"/><circle cx="155.4" cy="191.3" r="2.05"/><circle cx="155.9" cy="194.9" r="2.05"/><circle cx="156.3" cy="193.2" r="2.05"/><circle cx="157.0" cy="189.3" r="2.05"/><circle cx="157.8" cy="191.9" r="2.05"/><circle cx="158.5" cy="188.8" r="2.05"/><circle cx="158.9" cy="188.5" r="2.05"/><circle cx="159.7" cy="189.2" r="2.05"/><circle cx="160.2" cy="185.9" r="2.05"/><circle cx="161.0" cy="187.7" r="2.05"/><circle cx="161.3" cy="189.1" r="2.05"/><circle cx="161.8" cy="190.7" r="2.05"/><circle cx="162.8" cy="188.3" r="2.05"/><circle cx="163.2" cy="187.5" r="2.05"/><circle cx="163.9" cy="187.8" r="2.05"/><circle cx="164.4" cy="192.2" r="2.05"/><circle cx="164.9" cy="193.5" r="2.05"/><circle cx="165.7" cy="193.4" r="2.05"/><circle cx="166.2" cy="193.5" r="2.05"/><circle cx="167.1" cy="195.2" r="2.05"/><circle cx="167.5" cy="193.8" r="2.05"/><circle cx="168.1" cy="192.2" r="2.05"/><circle cx="168.9" cy="195.5" r="2.05"/><circle cx="169.1" cy="196.8" r="2.05"/><circle cx="169.9" cy="195.0" r="2.05"/><circle cx="170.4" cy="193.6" r="2.05"/><circle cx="170.8" cy="194.7" r="2.05"/><circle cx="171.8" cy="195.2" r="2.05"/><circle cx="172.0" cy="196.5" r="2.05"/><circle cx="173.0" cy="198.8" r="2.05"/><circle cx="173.4" cy="198.3" r="2.05"/><circle cx="174.2" cy="201.6" r="2.05"/><circle cx="174.8" cy="203.1" r="2.05"/><circle cx="175.1" cy="199.0" r="2.05"/><circle cx="176.0" cy="198.0" r="2.05"/><circle cx="176.2" cy="199.6" r="2.05"/><circle cx="176.8" cy="194.3" r="2.05"/><circle cx="177.6" cy="192.8" r="2.05"/><circle cx="178.1" cy="191.8" r="2.05"/><circle cx="178.8" cy="186.2" r="2.05"/><circle cx="179.4" cy="185.3" r="2.05"/><circle cx="180.1" cy="182.7" r="2.05"/><circle cx="180.7" cy="176.0" r="2.05"/><circle cx="180.9" cy="177.8" r="2.05"/><circle cx="182.0" cy="180.0" r="2.05"/><circle cx="182.6" cy="181.4" r="2.05"/><circle cx="182.9" cy="180.5" r="2.05"/><circle cx="183.7" cy="182.3" r="2.05"/><circle cx="183.9" cy="185.4" r="2.05"/><circle cx="184.6" cy="189.4" r="2.05"/><circle cx="185.1" cy="191.6" r="2.05"/><circle cx="185.8" cy="190.5" r="2.05"/><circle cx="186.5" cy="191.6" r="2.05"/><circle cx="187.4" cy="191.8" r="2.05"/><circle cx="187.6" cy="195.4" r="2.05"/><circle cx="188.3" cy="193.0" r="2.05"/><circle cx="188.8" cy="192.3" r="2.05"/><circle cx="189.9" cy="193.5" r="2.05"/><circle cx="190.2" cy="190.4" r="2.05"/><circle cx="190.6" cy="187.3" r="2.05"/><circle cx="191.3" cy="187.7" r="2.05"/><circle cx="191.8" cy="189.4" r="2.05"/><circle cx="192.9" cy="184.6" r="2.05"/><circle cx="193.0" cy="186.4" r="2.05"/><circle cx="193.5" cy="185.7" r="2.05"/><circle cx="194.7" cy="184.9" r="2.05"/><circle cx="195.1" cy="185.8" r="2.05"/><circle cx="195.5" cy="180.4" r="2.05"/><circle cx="196.4" cy="177.5" r="2.05"/><circle cx="197.0" cy="177.0" r="2.05"/><circle cx="197.2" cy="174.6" r="2.05"/><circle cx="198.3" cy="176.2" r="2.05"/><circle cx="198.8" cy="175.6" r="2.05"/><circle cx="199.3" cy="174.7" r="2.05"/><circle cx="199.8" cy="170.9" r="2.05"/><circle cx="200.1" cy="171.6" r="2.05"/><circle cx="200.9" cy="170.5" r="2.05"/><circle cx="201.7" cy="172.1" r="2.05"/><circle cx="202.2" cy="176.1" r="2.05"/><circle cx="203.1" cy="176.5" r="2.05"/><circle cx="203.3" cy="177.1" r="2.05"/><circle cx="203.8" cy="175.8" r="2.05"/><circle cx="204.4" cy="179.0" r="2.05"/><circle cx="205.4" cy="184.4" r="2.05"/><circle cx="205.8" cy="188.5" r="2.05"/><circle cx="206.6" cy="189.8" r="2.05"/><circle cx="207.1" cy="189.2" r="2.05"/><circle cx="207.8" cy="195.5" r="2.05"/><circle cx="208.2" cy="196.4" r="2.05"/><circle cx="209.0" cy="193.8" r="2.05"/><circle cx="209.6" cy="194.9" r="2.05"/><circle cx="209.9" cy="198.4" r="2.05"/><circle cx="210.9" cy="191.5" r="2.05"/><circle cx="211.0" cy="189.7" r="2.05"/><circle cx="211.6" cy="181.6" r="2.05"/><circle cx="212.6" cy="188.4" r="2.05"/><circle cx="213.2" cy="188.2" r="2.05"/><circle cx="213.7" cy="192.3" r="2.05"/><circle cx="214.2" cy="188.7" r="2.05"/><circle cx="214.5" cy="187.1" r="2.05"/><circle cx="215.5" cy="192.0" r="2.05"/><circle cx="216.3" cy="189.0" r="2.05"/><circle cx="216.8" cy="188.1" r="2.05"/><circle cx="217.0" cy="190.6" r="2.05"/><circle cx="217.7" cy="186.2" r="2.05"/><circle cx="218.5" cy="185.7" r="2.05"/><circle cx="219.0" cy="185.2" r="2.05"/><circle cx="219.8" cy="183.6" r="2.05"/><circle cx="220.2" cy="184.7" r="2.05"/><circle cx="221.0" cy="185.8" r="2.05"/><circle cx="221.7" cy="184.0" r="2.05"/><circle cx="222.0" cy="184.0" r="2.05"/><circle cx="222.3" cy="185.2" r="2.05"/><circle cx="223.0" cy="185.6" r="2.05"/><circle cx="224.0" cy="183.3" r="2.05"/><circle cx="224.4" cy="185.5" r="2.05"/><circle cx="225.0" cy="190.7" r="2.05"/><circle cx="225.6" cy="186.5" r="2.05"/><circle cx="226.4" cy="187.0" r="2.05"/><circle cx="226.8" cy="182.4" r="2.05"/><circle cx="227.3" cy="182.3" r="2.05"/><circle cx="228.0" cy="185.0" r="2.05"/><circle cx="228.8" cy="184.3" r="2.05"/><circle cx="229.2" cy="187.7" r="2.05"/><circle cx="229.8" cy="186.2" r="2.05"/><circle cx="230.5" cy="186.3" r="2.05"/><circle cx="231.0" cy="186.6" r="2.05"/><circle cx="231.9" cy="187.4" r="2.05"/><circle cx="232.4" cy="189.6" r="2.05"/><circle cx="232.7" cy="191.7" r="2.05"/><circle cx="233.7" cy="189.8" r="2.05"/><circle cx="233.8" cy="192.0" r="2.05"/><circle cx="234.6" cy="188.4" r="2.05"/><circle cx="235.0" cy="188.9" r="2.05"/><circle cx="235.9" cy="189.6" r="2.05"/><circle cx="236.6" cy="193.4" r="2.05"/><circle cx="237.1" cy="190.3" r="2.05"/><circle cx="237.4" cy="192.8" r="2.05"/><circle cx="238.5" cy="193.9" r="2.05"/><circle cx="239.1" cy="190.6" r="2.05"/><circle cx="239.4" cy="191.5" r="2.05"/><circle cx="240.2" cy="194.4" r="2.05"/><circle cx="240.6" cy="190.6" r="2.05"/><circle cx="241.1" cy="192.7" r="2.05"/><circle cx="241.7" cy="191.4" r="2.05"/><circle cx="242.1" cy="194.3" r="2.05"/><circle cx="243.0" cy="193.8" r="2.05"/><circle cx="243.5" cy="191.4" r="2.05"/><circle cx="244.2" cy="194.5" r="2.05"/><circle cx="245.1" cy="191.2" r="2.05"/><circle cx="245.7" cy="194.4" r="2.05"/><circle cx="245.9" cy="190.5" r="2.05"/><circle cx="246.8" cy="189.7" r="2.05"/><circle cx="247.0" cy="190.5" r="2.05"/><circle cx="248.0" cy="190.8" r="2.05"/><circle cx="248.3" cy="193.7" r="2.05"/><circle cx="249.3" cy="191.9" r="2.05"/><circle cx="249.7" cy="195.6" r="2.05"/><circle cx="249.9" cy="194.8" r="2.05"/><circle cx="250.8" cy="199.4" r="2.05"/><circle cx="251.7" cy="198.0" r="2.05"/><circle cx="252.2" cy="202.5" r="2.05"/><circle cx="252.8" cy="200.3" r="2.05"/><circle cx="253.4" cy="198.2" r="2.05"/><circle cx="253.7" cy="199.9" r="2.05"/><circle cx="254.1" cy="200.9" r="2.05"/><circle cx="253.6" cy="198.2" r="2.05"/><circle cx="254.2" cy="184.1" r="2.05"/><circle cx="254.2" cy="166.6" r="2.05"/><circle cx="254.2" cy="164.1" r="2.05"/><circle cx="254.3" cy="175.1" r="2.05"/><circle cx="254.3" cy="193.9" r="2.05"/><circle cx="254.8" cy="183.0" r="2.05"/><circle cx="254.7" cy="176.6" r="2.05"/><circle cx="254.7" cy="172.5" r="2.05"/><circle cx="255.0" cy="192.8" r="2.05"/><circle cx="255.0" cy="170.0" r="2.05"/><circle cx="255.4" cy="201.3" r="2.05"/><circle cx="255.6" cy="196.4" r="2.05"/><circle cx="255.8" cy="182.8" r="2.05"/><circle cx="255.6" cy="178.5" r="2.05"/><circle cx="255.9" cy="190.9" r="2.05"/><circle cx="256.4" cy="176.4" r="2.05"/><circle cx="256.3" cy="191.7" r="2.05"/><circle cx="256.1" cy="179.0" r="2.05"/><circle cx="256.0" cy="164.3" r="2.05"/><circle cx="256.3" cy="165.0" r="2.05"/><circle cx="256.6" cy="172.7" r="2.05"/><circle cx="257.0" cy="165.5" r="2.05"/><circle cx="256.9" cy="198.6" r="2.05"/><circle cx="256.6" cy="173.8" r="2.05"/><circle cx="256.8" cy="174.3" r="2.05"/><circle cx="257.4" cy="168.6" r="2.05"/><circle cx="257.7" cy="173.1" r="2.05"/><circle cx="257.4" cy="202.9" r="2.05"/><circle cx="257.7" cy="172.3" r="2.05"/><circle cx="257.3" cy="175.0" r="2.05"/><circle cx="257.9" cy="169.5" r="2.05"/><circle cx="258.0" cy="184.2" r="2.05"/><circle cx="258.0" cy="175.7" r="2.05"/><circle cx="257.9" cy="169.6" r="2.05"/><circle cx="257.9" cy="172.2" r="2.05"/><circle cx="258.3" cy="170.7" r="2.05"/><circle cx="258.4" cy="178.8" r="2.05"/><circle cx="258.6" cy="187.4" r="2.05"/><circle cx="258.7" cy="192.5" r="2.05"/><circle cx="258.8" cy="191.4" r="2.05"/><circle cx="259.1" cy="181.2" r="2.05"/><circle cx="259.0" cy="199.4" r="2.05"/><circle cx="259.3" cy="191.5" r="2.05"/><circle cx="259.4" cy="170.6" r="2.05"/><circle cx="259.3" cy="196.6" r="2.05"/><circle cx="260.0" cy="191.6" r="2.05"/><circle cx="259.8" cy="173.5" r="2.05"/><circle cx="260.0" cy="184.6" r="2.05"/><circle cx="260.0" cy="193.7" r="2.05"/><circle cx="260.0" cy="187.0" r="2.05"/><circle cx="260.5" cy="189.8" r="2.05"/><circle cx="260.1" cy="176.1" r="2.05"/><circle cx="260.3" cy="173.2" r="2.05"/><circle cx="260.6" cy="172.3" r="2.05"/><circle cx="260.5" cy="186.0" r="2.05"/><circle cx="261.1" cy="187.9" r="2.05"/><circle cx="260.7" cy="183.8" r="2.05"/><circle cx="261.1" cy="193.1" r="2.05"/><circle cx="261.0" cy="184.2" r="2.05"/><circle cx="260.7" cy="188.9" r="2.05"/><circle cx="261.5" cy="184.3" r="2.05"/><circle cx="261.5" cy="168.5" r="2.05"/><circle cx="261.4" cy="184.2" r="2.05"/><circle cx="261.9" cy="184.4" r="2.05"/><circle cx="261.5" cy="178.5" r="2.05"/><circle cx="262.3" cy="166.5" r="2.05"/><circle cx="262.3" cy="169.3" r="2.05"/><circle cx="261.9" cy="168.1" r="2.05"/><circle cx="262.7" cy="161.4" r="2.05"/><circle cx="262.7" cy="166.6" r="2.05"/><circle cx="262.5" cy="165.1" r="2.05"/><circle cx="263.3" cy="162.2" r="2.05"/><circle cx="263.5" cy="167.5" r="2.05"/><circle cx="263.3" cy="167.5" r="2.05"/><circle cx="264.0" cy="167.6" r="2.05"/><circle cx="263.8" cy="167.2" r="2.05"/><circle cx="263.8" cy="170.9" r="2.05"/><circle cx="264.9" cy="173.2" r="2.05"/><circle cx="264.6" cy="164.8" r="2.05"/><circle cx="264.9" cy="171.8" r="2.05"/><circle cx="265.1" cy="169.3" r="2.05"/><circle cx="265.5" cy="167.2" r="2.05"/><circle cx="265.2" cy="167.2" r="2.05"/><circle cx="265.8" cy="165.7" r="2.05"/><circle cx="265.6" cy="172.7" r="2.05"/><circle cx="265.8" cy="171.6" r="2.05"/><circle cx="266.5" cy="171.3" r="2.05"/><circle cx="266.6" cy="165.6" r="2.05"/><circle cx="266.1" cy="167.8" r="2.05"/><circle cx="267.0" cy="162.7" r="2.05"/><circle cx="266.9" cy="166.6" r="2.05"/><circle cx="266.9" cy="163.9" r="2.05"/><circle cx="267.8" cy="164.5" r="2.05"/><circle cx="267.8" cy="161.8" r="2.05"/><circle cx="267.4" cy="169.1" r="2.05"/><circle cx="268.3" cy="168.9" r="2.05"/><circle cx="268.1" cy="168.7" r="2.05"/><circle cx="268.1" cy="164.1" r="2.05"/><circle cx="268.9" cy="168.6" r="2.05"/><circle cx="268.8" cy="163.1" r="2.05"/><circle cx="268.5" cy="162.3" r="2.05"/><circle cx="269.6" cy="160.4" r="2.05"/><circle cx="269.7" cy="161.9" r="2.05"/><circle cx="269.3" cy="161.6" r="2.05"/><circle cx="269.8" cy="163.3" r="2.05"/><circle cx="270.9" cy="161.8" r="2.05"/><circle cx="271.4" cy="165.1" r="2.05"/><circle cx="272.0" cy="162.8" r="2.05"/><circle cx="272.4" cy="164.2" r="2.05"/><circle cx="272.7" cy="162.3" r="2.05"/><circle cx="273.6" cy="142.0" r="2.05"/><circle cx="273.7" cy="142.2" r="2.05"/><circle cx="273.3" cy="138.1" r="2.05"/><circle cx="274.0" cy="141.2" r="2.05"/><circle cx="274.7" cy="135.6" r="2.05"/><circle cx="275.5" cy="132.5" r="2.05"/><circle cx="275.9" cy="137.8" r="2.05"/><circle cx="276.5" cy="138.7" r="2.05"/><circle cx="277.1" cy="140.8" r="2.05"/><circle cx="277.6" cy="140.3" r="2.05"/><circle cx="278.0" cy="140.6" r="2.05"/><circle cx="277.6" cy="143.1" r="2.05"/><circle cx="278.7" cy="150.7" r="2.05"/><circle cx="278.2" cy="146.8" r="2.05"/><circle cx="278.2" cy="144.5" r="2.05"/><circle cx="278.8" cy="150.6" r="2.05"/><circle cx="278.9" cy="149.7" r="2.05"/><circle cx="279.2" cy="152.6" r="2.05"/><circle cx="279.5" cy="159.0" r="2.05"/><circle cx="279.6" cy="156.1" r="2.05"/><circle cx="279.5" cy="155.7" r="2.05"/><circle cx="280.1" cy="154.6" r="2.05"/><circle cx="280.0" cy="162.5" r="2.05"/><circle cx="280.3" cy="158.4" r="2.05"/><circle cx="280.6" cy="156.8" r="2.05"/><circle cx="280.6" cy="151.6" r="2.05"/><circle cx="280.8" cy="152.7" r="2.05"/><circle cx="281.6" cy="155.6" r="2.05"/><circle cx="281.1" cy="154.9" r="2.05"/><circle cx="281.5" cy="147.6" r="2.05"/><circle cx="282.0" cy="154.7" r="2.05"/><circle cx="281.7" cy="152.0" r="2.05"/><circle cx="282.3" cy="150.3" r="2.05"/><circle cx="282.8" cy="153.6" r="2.05"/><circle cx="282.4" cy="154.9" r="2.05"/><circle cx="282.4" cy="147.4" r="2.05"/><circle cx="283.3" cy="150.5" r="2.05"/><circle cx="283.3" cy="154.2" r="2.05"/><circle cx="283.4" cy="151.6" r="2.05"/><circle cx="283.8" cy="149.5" r="2.05"/><circle cx="284.0" cy="145.9" r="2.05"/><circle cx="284.1" cy="147.6" r="2.05"/><circle cx="284.3" cy="150.7" r="2.05"/><circle cx="284.3" cy="146.2" r="2.05"/><circle cx="284.5" cy="150.6" r="2.05"/><circle cx="284.7" cy="145.6" r="2.05"/><circle cx="285.0" cy="149.2" r="2.05"/><circle cx="284.8" cy="148.0" r="2.05"/><circle cx="285.3" cy="150.9" r="2.05"/><circle cx="285.6" cy="148.3" r="2.05"/><circle cx="285.7" cy="154.0" r="2.05"/><circle cx="286.2" cy="154.4" r="2.05"/><circle cx="286.0" cy="148.8" r="2.05"/><circle cx="286.3" cy="155.1" r="2.05"/><circle cx="286.5" cy="150.5" r="2.05"/><circle cx="286.9" cy="152.1" r="2.05"/><circle cx="286.7" cy="151.5" r="2.05"/><circle cx="287.7" cy="154.7" r="2.05"/><circle cx="287.1" cy="150.8" r="2.05"/><circle cx="287.4" cy="151.8" r="2.05"/><circle cx="287.8" cy="155.8" r="2.05"/><circle cx="288.1" cy="156.8" r="2.05"/><circle cx="287.8" cy="154.3" r="2.05"/><circle cx="288.5" cy="159.4" r="2.05"/><circle cx="288.4" cy="158.1" r="2.05"/><circle cx="288.8" cy="152.9" r="2.05"/><circle cx="289.5" cy="154.7" r="2.05"/><circle cx="289.0" cy="156.5" r="2.05"/><circle cx="289.2" cy="154.1" r="2.05"/><circle cx="290.1" cy="159.3" r="2.05"/><circle cx="289.7" cy="155.1" r="2.05"/><circle cx="290.1" cy="155.7" r="2.05"/><circle cx="290.1" cy="156.7" r="2.05"/><circle cx="290.9" cy="157.8" r="2.05"/><circle cx="291.8" cy="165.2" r="2.05"/><circle cx="292.5" cy="165.5" r="2.05"/><circle cx="292.7" cy="168.1" r="2.05"/><circle cx="293.7" cy="161.6" r="2.05"/><circle cx="293.7" cy="161.5" r="2.05"/><circle cx="294.5" cy="157.4" r="2.05"/><circle cx="295.1" cy="151.4" r="2.05"/><circle cx="294.9" cy="149.7" r="2.05"/><circle cx="295.1" cy="150.6" r="2.05"/><circle cx="295.6" cy="152.5" r="2.05"/><circle cx="295.6" cy="152.6" r="2.05"/><circle cx="296.0" cy="147.5" r="2.05"/><circle cx="296.4" cy="147.2" r="2.05"/><circle cx="297.0" cy="137.9" r="2.05"/><circle cx="297.9" cy="136.3" r="2.05"/><circle cx="298.1" cy="137.2" r="2.05"/><circle cx="298.5" cy="144.4" r="2.05"/><circle cx="299.6" cy="143.0" r="2.05"/><circle cx="299.7" cy="148.3" r="2.05"/><circle cx="299.7" cy="142.0" r="2.05"/><circle cx="299.9" cy="149.7" r="2.05"/><circle cx="300.8" cy="150.8" r="2.05"/><circle cx="300.5" cy="147.2" r="2.05"/><circle cx="300.7" cy="152.6" r="2.05"/><circle cx="301.3" cy="149.2" r="2.05"/><circle cx="301.1" cy="149.7" r="2.05"/><circle cx="301.4" cy="146.9" r="2.05"/><circle cx="301.9" cy="155.7" r="2.05"/><circle cx="301.5" cy="155.9" r="2.05"/><circle cx="301.8" cy="149.8" r="2.05"/><circle cx="302.7" cy="153.3" r="2.05"/><circle cx="302.3" cy="148.3" r="2.05"/><circle cx="302.4" cy="148.7" r="2.05"/><circle cx="302.8" cy="150.3" r="2.05"/><circle cx="303.1" cy="149.2" r="2.05"/><circle cx="303.2" cy="149.4" r="2.05"/><circle cx="303.5" cy="144.8" r="2.05"/><circle cx="303.5" cy="142.3" r="2.05"/><circle cx="303.3" cy="146.3" r="2.05"/><circle cx="304.4" cy="139.9" r="2.05"/><circle cx="303.9" cy="140.3" r="2.05"/><circle cx="304.2" cy="138.5" r="2.05"/><circle cx="305.1" cy="142.6" r="2.05"/><circle cx="305.1" cy="147.5" r="2.05"/><circle cx="304.6" cy="142.1" r="2.05"/><circle cx="305.4" cy="142.2" r="2.05"/><circle cx="305.4" cy="147.6" r="2.05"/><circle cx="305.4" cy="143.4" r="2.05"/><circle cx="306.1" cy="148.4" r="2.05"/><circle cx="306.2" cy="149.5" r="2.05"/><circle cx="305.8" cy="148.8" r="2.05"/><circle cx="306.5" cy="151.9" r="2.05"/><circle cx="306.5" cy="149.5" r="2.05"/><circle cx="306.4" cy="151.0" r="2.05"/><circle cx="307.0" cy="147.7" r="2.05"/><circle cx="307.4" cy="146.9" r="2.05"/><circle cx="307.1" cy="150.5" r="2.05"/><circle cx="308.1" cy="148.6" r="2.05"/><circle cx="307.6" cy="149.5" r="2.05"/><circle cx="307.9" cy="152.2" r="2.05"/><circle cx="308.2" cy="153.3" r="2.05"/><circle cx="308.6" cy="148.8" r="2.05"/><circle cx="308.6" cy="152.0" r="2.05"/><circle cx="308.9" cy="144.7" r="2.05"/><circle cx="308.8" cy="145.4" r="2.05"/><circle cx="309.0" cy="152.8" r="2.05"/><circle cx="309.5" cy="152.0" r="2.05"/><circle cx="309.6" cy="151.5" r="2.05"/><circle cx="309.8" cy="146.2" r="2.05"/><circle cx="310.0" cy="152.4" r="2.05"/><circle cx="310.3" cy="149.5" r="2.05"/><circle cx="310.1" cy="146.3" r="2.05"/><circle cx="310.6" cy="148.1" r="2.05"/><circle cx="311.5" cy="151.3" r="2.05"/><circle cx="311.8" cy="155.9" r="2.05"/><circle cx="312.5" cy="149.4" r="2.05"/><circle cx="313.0" cy="150.4" r="2.05"/><circle cx="313.6" cy="145.5" r="2.05"/><circle cx="314.4" cy="145.5" r="2.05"/><circle cx="314.8" cy="138.5" r="2.05"/><circle cx="315.6" cy="141.8" r="2.05"/><circle cx="316.0" cy="145.0" r="2.05"/><circle cx="316.9" cy="142.7" r="2.05"/><circle cx="316.7" cy="144.7" r="2.05"/><circle cx="317.1" cy="143.9" r="2.05"/><circle cx="317.4" cy="144.8" r="2.05"/><circle cx="317.3" cy="145.2" r="2.05"/><circle cx="317.7" cy="149.4" r="2.05"/><circle cx="317.8" cy="145.9" r="2.05"/><circle cx="318.4" cy="149.2" r="2.05"/><circle cx="319.4" cy="145.0" r="2.05"/><circle cx="320.0" cy="148.3" r="2.05"/><circle cx="320.6" cy="140.9" r="2.05"/><circle cx="320.8" cy="129.8" r="2.05"/><circle cx="321.6" cy="127.3" r="2.05"/><circle cx="322.4" cy="131.1" r="2.05"/><circle cx="322.9" cy="128.1" r="2.05"/><circle cx="323.4" cy="129.9" r="2.05"/><circle cx="323.9" cy="128.7" r="2.05"/><circle cx="324.9" cy="131.0" r="2.05"/><circle cx="325.2" cy="128.8" r="2.05"/><circle cx="326.1" cy="133.4" r="2.05"/><circle cx="326.2" cy="129.8" r="2.05"/><circle cx="327.3" cy="135.3" r="2.05"/><circle cx="327.3" cy="132.4" r="2.05"/><circle cx="328.1" cy="136.2" r="2.05"/><circle cx="328.9" cy="136.5" r="2.05"/><circle cx="328.6" cy="135.9" r="2.05"/><circle cx="328.6" cy="135.6" r="2.05"/><circle cx="329.6" cy="132.8" r="2.05"/><circle cx="329.2" cy="136.4" r="2.05"/><circle cx="329.3" cy="131.3" r="2.05"/><circle cx="329.9" cy="134.2" r="2.05"/><circle cx="329.8" cy="130.7" r="2.05"/><circle cx="330.2" cy="136.0" r="2.05"/><circle cx="330.6" cy="130.2" r="2.05"/><circle cx="330.3" cy="136.5" r="2.05"/><circle cx="330.4" cy="137.2" r="2.05"/><circle cx="331.2" cy="135.3" r="2.05"/><circle cx="331.1" cy="135.6" r="2.05"/><circle cx="331.2" cy="133.8" r="2.05"/><circle cx="331.9" cy="134.1" r="2.05"/><circle cx="331.8" cy="134.3" r="2.05"/><circle cx="331.9" cy="130.6" r="2.05"/><circle cx="332.2" cy="134.9" r="2.05"/><circle cx="332.6" cy="137.3" r="2.05"/><circle cx="332.2" cy="134.6" r="2.05"/><circle cx="332.8" cy="135.0" r="2.05"/><circle cx="333.0" cy="132.0" r="2.05"/><circle cx="333.0" cy="131.6" r="2.05"/><circle cx="333.3" cy="135.5" r="2.05"/><circle cx="333.3" cy="136.6" r="2.05"/><circle cx="333.8" cy="137.5" r="2.05"/><circle cx="333.9" cy="135.8" r="2.05"/><circle cx="334.1" cy="135.7" r="2.05"/><circle cx="334.0" cy="139.6" r="2.05"/><circle cx="335.1" cy="139.0" r="2.05"/><circle cx="335.0" cy="137.9" r="2.05"/><circle cx="335.1" cy="133.3" r="2.05"/><circle cx="335.7" cy="137.1" r="2.05"/><circle cx="335.2" cy="140.6" r="2.05"/><circle cx="335.7" cy="139.5" r="2.05"/><circle cx="335.9" cy="135.7" r="2.05"/><circle cx="336.4" cy="142.4" r="2.05"/><circle cx="337.1" cy="144.8" r="2.05"/><circle cx="337.6" cy="143.3" r="2.05"/><circle cx="338.7" cy="139.1" r="2.05"/><circle cx="338.9" cy="135.1" r="2.05"/><circle cx="339.5" cy="134.5" r="2.05"/><circle cx="340.0" cy="129.4" r="2.05"/><circle cx="341.1" cy="127.8" r="2.05"/><circle cx="341.6" cy="131.0" r="2.05"/><circle cx="342.2" cy="128.2" r="2.05"/><circle cx="342.0" cy="127.8" r="2.05"/><circle cx="341.9" cy="132.1" r="2.05"/><circle cx="342.6" cy="135.9" r="2.05"/><circle cx="342.8" cy="133.0" r="2.05"/><circle cx="342.9" cy="128.3" r="2.05"/><circle cx="343.1" cy="134.5" r="2.05"/><circle cx="343.1" cy="135.9" r="2.05"/><circle cx="343.2" cy="137.5" r="2.05"/><circle cx="344.0" cy="132.9" r="2.05"/><circle cx="343.6" cy="133.8" r="2.05"/><circle cx="343.5" cy="137.2" r="2.05"/><circle cx="344.3" cy="139.9" r="2.05"/><circle cx="344.7" cy="137.5" r="2.05"/><circle cx="344.5" cy="136.7" r="2.05"/><circle cx="344.7" cy="133.6" r="2.05"/><circle cx="344.8" cy="129.1" r="2.05"/><circle cx="345.0" cy="138.6" r="2.05"/><circle cx="345.8" cy="138.0" r="2.05"/><circle cx="345.4" cy="130.8" r="2.05"/><circle cx="345.3" cy="140.7" r="2.05"/><circle cx="345.5" cy="128.4" r="2.05"/><circle cx="345.5" cy="130.3" r="2.05"/><circle cx="346.3" cy="132.9" r="2.05"/><circle cx="346.0" cy="140.5" r="2.05"/><circle cx="346.2" cy="141.2" r="2.05"/><circle cx="346.5" cy="131.0" r="2.05"/><circle cx="346.0" cy="133.3" r="2.05"/><circle cx="346.9" cy="130.3" r="2.05"/><circle cx="347.0" cy="146.8" r="2.05"/><circle cx="346.7" cy="136.8" r="2.05"/><circle cx="346.9" cy="128.4" r="2.05"/><circle cx="346.7" cy="140.2" r="2.05"/><circle cx="347.4" cy="142.4" r="2.05"/><circle cx="347.5" cy="148.8" r="2.05"/><circle cx="347.6" cy="133.7" r="2.05"/><circle cx="347.4" cy="129.2" r="2.05"/><circle cx="347.2" cy="137.1" r="2.05"/><circle cx="348.2" cy="129.5" r="2.05"/><circle cx="348.0" cy="128.5" r="2.05"/><circle cx="347.8" cy="149.5" r="2.05"/><circle cx="348.1" cy="132.7" r="2.05"/><circle cx="348.1" cy="139.7" r="2.05"/><circle cx="348.4" cy="147.1" r="2.05"/><circle cx="348.5" cy="135.4" r="2.05"/><circle cx="348.8" cy="129.3" r="2.05"/><circle cx="348.7" cy="146.4" r="2.05"/><circle cx="348.8" cy="128.3" r="2.05"/><circle cx="349.2" cy="145.9" r="2.05"/><circle cx="349.2" cy="145.9" r="2.05"/><circle cx="349.0" cy="133.6" r="2.05"/><circle cx="348.9" cy="133.7" r="2.05"/><circle cx="349.3" cy="136.2" r="2.05"/><circle cx="350.0" cy="145.2" r="2.05"/><circle cx="349.7" cy="145.6" r="2.05"/><circle cx="349.8" cy="141.7" r="2.05"/><circle cx="349.8" cy="147.4" r="2.05"/><circle cx="349.9" cy="134.7" r="2.05"/><circle cx="350.2" cy="151.9" r="2.05"/><circle cx="350.1" cy="149.8" r="2.05"/><circle cx="350.2" cy="134.6" r="2.05"/><circle cx="350.7" cy="146.5" r="2.05"/><circle cx="350.3" cy="146.6" r="2.05"/><circle cx="350.9" cy="149.9" r="2.05"/><circle cx="351.2" cy="134.1" r="2.05"/><circle cx="351.1" cy="143.7" r="2.05"/><circle cx="351.3" cy="144.6" r="2.05"/><circle cx="351.2" cy="139.7" r="2.05"/><circle cx="351.8" cy="145.4" r="2.05"/><circle cx="351.7" cy="139.0" r="2.05"/><circle cx="351.5" cy="142.2" r="2.05"/><circle cx="351.7" cy="133.4" r="2.05"/><circle cx="351.8" cy="130.1" r="2.05"/><circle cx="351.9" cy="131.8" r="2.05"/><circle cx="352.5" cy="130.8" r="2.05"/><circle cx="352.0" cy="136.7" r="2.05"/><circle cx="351.9" cy="128.9" r="2.05"/><circle cx="352.3" cy="145.2" r="2.05"/><circle cx="352.9" cy="145.3" r="2.05"/><circle cx="352.9" cy="129.8" r="2.05"/><circle cx="353.0" cy="137.1" r="2.05"/><circle cx="353.0" cy="148.4" r="2.05"/><circle cx="353.0" cy="129.8" r="2.05"/><circle cx="353.7" cy="151.2" r="2.05"/><circle cx="353.2" cy="132.1" r="2.05"/><circle cx="353.1" cy="132.2" r="2.05"/><circle cx="353.6" cy="149.6" r="2.05"/><circle cx="353.6" cy="144.6" r="2.05"/><circle cx="353.9" cy="145.7" r="2.05"/><circle cx="353.8" cy="133.9" r="2.05"/><circle cx="353.8" cy="148.4" r="2.05"/><circle cx="354.0" cy="138.8" r="2.05"/><circle cx="353.9" cy="132.2" r="2.05"/><circle cx="354.7" cy="139.6" r="2.05"/><circle cx="354.5" cy="141.4" r="2.05"/><circle cx="354.6" cy="153.7" r="2.05"/><circle cx="354.7" cy="151.3" r="2.05"/><circle cx="354.5" cy="134.4" r="2.05"/><circle cx="355.4" cy="144.1" r="2.05"/><circle cx="355.3" cy="142.4" r="2.05"/><circle cx="355.0" cy="146.1" r="2.05"/><circle cx="355.0" cy="152.4" r="2.05"/><circle cx="355.0" cy="151.6" r="2.05"/><circle cx="355.6" cy="136.8" r="2.05"/><circle cx="356.1" cy="151.3" r="2.05"/><circle cx="355.8" cy="136.9" r="2.05"/><circle cx="356.0" cy="146.2" r="2.05"/><circle cx="355.8" cy="140.3" r="2.05"/><circle cx="356.6" cy="144.5" r="2.05"/><circle cx="356.7" cy="142.9" r="2.05"/><circle cx="356.2" cy="143.3" r="2.05"/><circle cx="356.4" cy="151.1" r="2.05"/><circle cx="356.5" cy="140.1" r="2.05"/><circle cx="357.2" cy="140.7" r="2.05"/><circle cx="357.2" cy="151.9" r="2.05"/><circle cx="356.9" cy="150.7" r="2.05"/><circle cx="356.9" cy="146.5" r="2.05"/><circle cx="356.8" cy="155.5" r="2.05"/><circle cx="357.3" cy="156.3" r="2.05"/><circle cx="357.5" cy="144.1" r="2.05"/><circle cx="357.6" cy="156.5" r="2.05"/><circle cx="358.4" cy="148.2" r="2.05"/><circle cx="358.2" cy="145.7" r="2.05"/><circle cx="358.4" cy="150.9" r="2.05"/><circle cx="358.9" cy="155.7" r="2.05"/><circle cx="358.7" cy="148.7" r="2.05"/><circle cx="359.0" cy="145.5" r="2.05"/><circle cx="359.5" cy="155.0" r="2.05"/><circle cx="359.4" cy="146.8" r="2.05"/><circle cx="359.4" cy="156.9" r="2.05"/><circle cx="360.0" cy="147.3" r="2.05"/><circle cx="359.8" cy="159.6" r="2.05"/><circle cx="359.9" cy="148.3" r="2.05"/><circle cx="360.8" cy="157.6" r="2.05"/><circle cx="360.4" cy="148.9" r="2.05"/><circle cx="360.5" cy="150.3" r="2.05"/><circle cx="361.0" cy="156.1" r="2.05"/><circle cx="361.0" cy="152.8" r="2.05"/><circle cx="361.3" cy="163.6" r="2.05"/><circle cx="362.1" cy="150.0" r="2.05"/><circle cx="361.7" cy="150.0" r="2.05"/><circle cx="362.0" cy="167.3" r="2.05"/><circle cx="361.8" cy="162.4" r="2.05"/><circle cx="361.9" cy="151.8" r="2.05"/><circle cx="362.2" cy="151.0" r="2.05"/><circle cx="362.1" cy="157.4" r="2.05"/><circle cx="362.6" cy="157.6" r="2.05"/><circle cx="362.4" cy="164.3" r="2.05"/><circle cx="362.4" cy="162.9" r="2.05"/><circle cx="363.1" cy="152.8" r="2.05"/><circle cx="363.1" cy="159.6" r="2.05"/><circle cx="363.0" cy="172.4" r="2.05"/><circle cx="363.1" cy="163.9" r="2.05"/><circle cx="362.8" cy="160.0" r="2.05"/><circle cx="363.8" cy="167.8" r="2.05"/><circle cx="363.7" cy="169.1" r="2.05"/><circle cx="363.7" cy="171.1" r="2.05"/><circle cx="363.6" cy="165.7" r="2.05"/><circle cx="363.7" cy="157.3" r="2.05"/><circle cx="364.2" cy="151.7" r="2.05"/><circle cx="364.3" cy="169.4" r="2.05"/><circle cx="364.1" cy="165.5" r="2.05"/><circle cx="364.2" cy="160.1" r="2.05"/><circle cx="364.1" cy="165.3" r="2.05"/><circle cx="365.1" cy="166.7" r="2.05"/><circle cx="364.9" cy="154.0" r="2.05"/><circle cx="364.7" cy="169.4" r="2.05"/><circle cx="365.1" cy="161.9" r="2.05"/><circle cx="364.8" cy="150.2" r="2.05"/><circle cx="365.6" cy="153.4" r="2.05"/><circle cx="365.4" cy="173.7" r="2.05"/><circle cx="365.4" cy="151.8" r="2.05"/><circle cx="365.5" cy="163.3" r="2.05"/><circle cx="365.5" cy="162.6" r="2.05"/><circle cx="366.0" cy="170.9" r="2.05"/><circle cx="366.3" cy="160.0" r="2.05"/><circle cx="366.1" cy="154.7" r="2.05"/><circle cx="366.2" cy="159.5" r="2.05"/><circle cx="366.3" cy="152.4" r="2.05"/><circle cx="366.3" cy="158.6" r="2.05"/><circle cx="366.5" cy="156.4" r="2.05"/><circle cx="366.6" cy="149.6" r="2.05"/><circle cx="366.7" cy="160.3" r="2.05"/><circle cx="366.5" cy="158.5" r="2.05"/><circle cx="367.3" cy="155.1" r="2.05"/><circle cx="367.2" cy="174.1" r="2.05"/><circle cx="367.4" cy="155.0" r="2.05"/><circle cx="367.0" cy="159.6" r="2.05"/><circle cx="367.4" cy="152.6" r="2.05"/><circle cx="367.9" cy="170.7" r="2.05"/><circle cx="367.8" cy="161.7" r="2.05"/><circle cx="368.1" cy="155.2" r="2.05"/><circle cx="367.9" cy="158.6" r="2.05"/><circle cx="368.0" cy="170.9" r="2.05"/><circle cx="368.3" cy="161.2" r="2.05"/><circle cx="368.2" cy="163.2" r="2.05"/><circle cx="368.3" cy="170.3" r="2.05"/><circle cx="368.3" cy="170.7" r="2.05"/><circle cx="368.3" cy="158.9" r="2.05"/><circle cx="368.8" cy="159.6" r="2.05"/><circle cx="369.1" cy="150.3" r="2.05"/><circle cx="368.8" cy="156.4" r="2.05"/><circle cx="369.0" cy="156.9" r="2.05"/><circle cx="369.1" cy="159.7" r="2.05"/><circle cx="369.5" cy="163.6" r="2.05"/><circle cx="369.8" cy="168.8" r="2.05"/><circle cx="369.8" cy="151.9" r="2.05"/><circle cx="369.8" cy="168.4" r="2.05"/><circle cx="369.8" cy="153.5" r="2.05"/><circle cx="369.9" cy="162.3" r="2.05"/><circle cx="370.5" cy="151.2" r="2.05"/><circle cx="370.1" cy="162.7" r="2.05"/><circle cx="370.6" cy="152.3" r="2.05"/><circle cx="371.0" cy="154.7" r="2.05"/><circle cx="370.6" cy="156.8" r="2.05"/><circle cx="371.0" cy="167.0" r="2.05"/><circle cx="371.0" cy="153.5" r="2.05"/><circle cx="371.6" cy="161.4" r="2.05"/><circle cx="371.6" cy="162.5" r="2.05"/><circle cx="371.6" cy="164.8" r="2.05"/><circle cx="371.5" cy="153.6" r="2.05"/><circle cx="371.5" cy="159.9" r="2.05"/><circle cx="372.2" cy="157.8" r="2.05"/><circle cx="371.9" cy="160.1" r="2.05"/><circle cx="371.8" cy="153.8" r="2.05"/><circle cx="371.7" cy="158.9" r="2.05"/><circle cx="371.8" cy="158.4" r="2.05"/><circle cx="372.6" cy="156.4" r="2.05"/><circle cx="372.8" cy="157.6" r="2.05"/><circle cx="372.8" cy="143.8" r="2.05"/><circle cx="372.6" cy="155.8" r="2.05"/><circle cx="372.8" cy="160.9" r="2.05"/><circle cx="373.2" cy="150.1" r="2.05"/><circle cx="372.9" cy="169.1" r="2.05"/><circle cx="373.3" cy="158.6" r="2.05"/><circle cx="373.3" cy="138.9" r="2.05"/><circle cx="373.5" cy="160.1" r="2.05"/><circle cx="374.1" cy="147.0" r="2.05"/><circle cx="373.8" cy="153.4" r="2.05"/><circle cx="373.5" cy="167.2" r="2.05"/><circle cx="373.9" cy="160.8" r="2.05"/><circle cx="374.0" cy="147.3" r="2.05"/><circle cx="374.4" cy="148.3" r="2.05"/><circle cx="374.6" cy="154.0" r="2.05"/><circle cx="374.4" cy="142.7" r="2.05"/><circle cx="374.4" cy="150.3" r="2.05"/><circle cx="374.3" cy="164.8" r="2.05"/><circle cx="374.9" cy="164.9" r="2.05"/><circle cx="374.9" cy="153.3" r="2.05"/><circle cx="375.3" cy="153.4" r="2.05"/><circle cx="375.2" cy="158.7" r="2.05"/><circle cx="374.9" cy="147.1" r="2.05"/><circle cx="375.7" cy="146.0" r="2.05"/><circle cx="375.8" cy="158.1" r="2.05"/><circle cx="375.7" cy="136.6" r="2.05"/><circle cx="375.6" cy="167.1" r="2.05"/><circle cx="375.5" cy="137.0" r="2.05"/><circle cx="376.0" cy="135.4" r="2.05"/><circle cx="376.3" cy="168.6" r="2.05"/><circle cx="376.4" cy="159.0" r="2.05"/><circle cx="376.3" cy="168.1" r="2.05"/><circle cx="376.3" cy="157.5" r="2.05"/><circle cx="376.9" cy="160.5" r="2.05"/><circle cx="376.6" cy="159.9" r="2.05"/><circle cx="376.8" cy="159.4" r="2.05"/><circle cx="376.6" cy="162.9" r="2.05"/><circle cx="376.5" cy="141.8" r="2.05"/><circle cx="377.6" cy="163.4" r="2.05"/><circle cx="377.3" cy="159.1" r="2.05"/><circle cx="377.6" cy="165.2" r="2.05"/><circle cx="377.3" cy="155.7" r="2.05"/><circle cx="377.4" cy="146.2" r="2.05"/><circle cx="378.0" cy="146.9" r="2.05"/><circle cx="378.3" cy="158.7" r="2.05"/><circle cx="378.0" cy="137.2" r="2.05"/><circle cx="377.8" cy="136.6" r="2.05"/><circle cx="378.0" cy="164.9" r="2.05"/><circle cx="378.6" cy="169.0" r="2.05"/><circle cx="378.5" cy="135.9" r="2.05"/><circle cx="378.9" cy="157.0" r="2.05"/><circle cx="378.6" cy="171.3" r="2.05"/><circle cx="378.4" cy="150.5" r="2.05"/><circle cx="379.0" cy="159.1" r="2.05"/><circle cx="378.9" cy="141.1" r="2.05"/><circle cx="379.3" cy="135.7" r="2.05"/><circle cx="379.5" cy="140.0" r="2.05"/><circle cx="379.4" cy="138.8" r="2.05"/><circle cx="379.5" cy="140.4" r="2.05"/><circle cx="379.6" cy="162.0" r="2.05"/><circle cx="379.6" cy="162.6" r="2.05"/><circle cx="380.0" cy="137.5" r="2.05"/><circle cx="380.0" cy="161.8" r="2.05"/><circle cx="380.2" cy="162.6" r="2.05"/><circle cx="380.5" cy="158.9" r="2.05"/><circle cx="380.7" cy="152.7" r="2.05"/><circle cx="380.7" cy="145.2" r="2.05"/><circle cx="380.1" cy="162.1" r="2.05"/><circle cx="381.1" cy="136.6" r="2.05"/><circle cx="380.7" cy="166.0" r="2.05"/><circle cx="381.1" cy="147.4" r="2.05"/><circle cx="381.2" cy="142.1" r="2.05"/><circle cx="380.7" cy="153.9" r="2.05"/><circle cx="381.6" cy="150.2" r="2.05"/><circle cx="381.7" cy="152.7" r="2.05"/><circle cx="381.8" cy="142.1" r="2.05"/><circle cx="381.7" cy="150.0" r="2.05"/><circle cx="381.6" cy="159.6" r="2.05"/><circle cx="382.4" cy="153.8" r="2.05"/><circle cx="382.4" cy="171.9" r="2.05"/><circle cx="382.1" cy="159.7" r="2.05"/><circle cx="382.5" cy="143.3" r="2.05"/><circle cx="382.4" cy="164.1" r="2.05"/><circle cx="382.9" cy="155.3" r="2.05"/><circle cx="383.0" cy="173.9" r="2.05"/><circle cx="382.7" cy="163.0" r="2.05"/><circle cx="383.0" cy="158.1" r="2.05"/><circle cx="382.9" cy="156.6" r="2.05"/><circle cx="383.6" cy="163.9" r="2.05"/><circle cx="383.3" cy="169.6" r="2.05"/><circle cx="383.3" cy="147.3" r="2.05"/><circle cx="383.5" cy="158.9" r="2.05"/><circle cx="383.6" cy="169.8" r="2.05"/><circle cx="384.2" cy="148.6" r="2.05"/><circle cx="384.2" cy="169.8" r="2.05"/><circle cx="383.9" cy="163.2" r="2.05"/><circle cx="384.2" cy="170.9" r="2.05"/><circle cx="384.2" cy="166.3" r="2.05"/><circle cx="384.4" cy="157.1" r="2.05"/><circle cx="384.8" cy="162.8" r="2.05"/><circle cx="384.8" cy="153.1" r="2.05"/><circle cx="384.4" cy="173.2" r="2.05"/><circle cx="384.7" cy="164.3" r="2.05"/><circle cx="385.0" cy="160.5" r="2.05"/><circle cx="385.4" cy="154.7" r="2.05"/><circle cx="385.2" cy="169.5" r="2.05"/><circle cx="385.4" cy="150.1" r="2.05"/><circle cx="385.0" cy="169.0" r="2.05"/><circle cx="386.0" cy="163.8" r="2.05"/><circle cx="385.8" cy="172.2" r="2.05"/><circle cx="385.9" cy="160.9" r="2.05"/><circle cx="385.6" cy="153.0" r="2.05"/><circle cx="385.9" cy="152.7" r="2.05"/><circle cx="386.4" cy="157.9" r="2.05"/><circle cx="386.4" cy="159.0" r="2.05"/><circle cx="386.1" cy="152.0" r="2.05"/><circle cx="386.3" cy="175.4" r="2.05"/><circle cx="386.5" cy="150.8" r="2.05"/><circle cx="386.8" cy="169.7" r="2.05"/><circle cx="386.9" cy="164.5" r="2.05"/><circle cx="386.7" cy="162.3" r="2.05"/><circle cx="387.3" cy="148.9" r="2.05"/><circle cx="387.0" cy="171.9" r="2.05"/><circle cx="387.5" cy="163.8" r="2.05"/><circle cx="387.6" cy="169.6" r="2.05"/><circle cx="387.8" cy="174.2" r="2.05"/><circle cx="387.9" cy="170.7" r="2.05"/><circle cx="387.3" cy="155.1" r="2.05"/><circle cx="388.0" cy="153.6" r="2.05"/><circle cx="387.9" cy="150.5" r="2.05"/><circle cx="388.4" cy="163.2" r="2.05"/><circle cx="388.5" cy="160.5" r="2.05"/><circle cx="387.9" cy="172.7" r="2.05"/><circle cx="388.7" cy="163.0" r="2.05"/><circle cx="389.1" cy="151.2" r="2.05"/><circle cx="388.8" cy="154.6" r="2.05"/><circle cx="389.1" cy="164.1" r="2.05"/><circle cx="388.7" cy="164.8" r="2.05"/><circle cx="389.2" cy="158.4" r="2.05"/><circle cx="389.7" cy="170.1" r="2.05"/><circle cx="389.1" cy="153.2" r="2.05"/><circle cx="389.3" cy="154.0" r="2.05"/><circle cx="389.6" cy="168.7" r="2.05"/><circle cx="389.7" cy="165.4" r="2.05"/><circle cx="390.1" cy="164.4" r="2.05"/><circle cx="390.3" cy="161.5" r="2.05"/><circle cx="389.8" cy="149.3" r="2.05"/><circle cx="390.3" cy="163.8" r="2.05"/><circle cx="390.5" cy="162.0" r="2.05"/><circle cx="390.8" cy="160.3" r="2.05"/><circle cx="390.5" cy="150.4" r="2.05"/><circle cx="390.4" cy="153.5" r="2.05"/><circle cx="390.4" cy="158.0" r="2.05"/><circle cx="391.0" cy="153.0" r="2.05"/><circle cx="390.9" cy="162.0" r="2.05"/><circle cx="391.0" cy="162.8" r="2.05"/><circle cx="391.5" cy="148.9" r="2.05"/><circle cx="391.5" cy="152.7" r="2.05"/><circle cx="392.0" cy="165.7" r="2.05"/><circle cx="391.8" cy="151.0" r="2.05"/><circle cx="392.1" cy="150.2" r="2.05"/><circle cx="391.9" cy="165.2" r="2.05"/><circle cx="391.7" cy="157.3" r="2.05"/><circle cx="392.4" cy="164.7" r="2.05"/><circle cx="392.2" cy="160.8" r="2.05"/><circle cx="392.1" cy="152.6" r="2.05"/><circle cx="392.4" cy="162.5" r="2.05"/><circle cx="392.6" cy="151.1" r="2.05"/><circle cx="392.9" cy="153.5" r="2.05"/><circle cx="392.9" cy="151.3" r="2.05"/><circle cx="392.9" cy="164.9" r="2.05"/><circle cx="393.0" cy="151.5" r="2.05"/><circle cx="393.2" cy="154.5" r="2.05"/><circle cx="393.9" cy="150.4" r="2.05"/><circle cx="393.8" cy="149.3" r="2.05"/><circle cx="393.4" cy="161.4" r="2.05"/><circle cx="393.5" cy="157.6" r="2.05"/><circle cx="393.4" cy="153.3" r="2.05"/><circle cx="394.5" cy="155.6" r="2.05"/><circle cx="394.5" cy="168.2" r="2.05"/><circle cx="394.1" cy="150.3" r="2.05"/><circle cx="393.9" cy="166.1" r="2.05"/><circle cx="394.1" cy="162.8" r="2.05"/><circle cx="394.5" cy="169.0" r="2.05"/><circle cx="394.7" cy="165.4" r="2.05"/><circle cx="394.5" cy="151.6" r="2.05"/><circle cx="394.8" cy="165.9" r="2.05"/><circle cx="394.8" cy="152.6" r="2.05"/><circle cx="395.2" cy="168.7" r="2.05"/><circle cx="395.2" cy="161.4" r="2.05"/><circle cx="395.6" cy="153.0" r="2.05"/><circle cx="395.2" cy="164.4" r="2.05"/><circle cx="395.2" cy="150.8" r="2.05"/><circle cx="396.0" cy="172.3" r="2.05"/><circle cx="395.8" cy="162.9" r="2.05"/><circle cx="396.1" cy="172.4" r="2.05"/><circle cx="396.0" cy="178.0" r="2.05"/><circle cx="395.7" cy="160.9" r="2.05"/><circle cx="396.5" cy="186.7" r="2.05"/><circle cx="396.3" cy="186.3" r="2.05"/><circle cx="396.5" cy="189.3" r="2.05"/><circle cx="396.8" cy="190.4" r="2.05"/><circle cx="396.3" cy="178.5" r="2.05"/><circle cx="397.2" cy="192.9" r="2.05"/><circle cx="397.1" cy="191.7" r="2.05"/><circle cx="397.4" cy="169.9" r="2.05"/><circle cx="397.0" cy="175.7" r="2.05"/><circle cx="397.3" cy="175.8" r="2.05"/><circle cx="397.8" cy="166.5" r="2.05"/><circle cx="397.8" cy="179.5" r="2.05"/><circle cx="397.9" cy="170.0" r="2.05"/><circle cx="398.0" cy="190.4" r="2.05"/><circle cx="397.9" cy="175.8" r="2.05"/><circle cx="398.6" cy="179.1" r="2.05"/><circle cx="398.6" cy="170.5" r="2.05"/><circle cx="398.4" cy="194.6" r="2.05"/><circle cx="398.4" cy="182.7" r="2.05"/><circle cx="398.1" cy="183.3" r="2.05"/><circle cx="398.8" cy="185.7" r="2.05"/><circle cx="398.8" cy="171.9" r="2.05"/><circle cx="399.2" cy="173.1" r="2.05"/><circle cx="399.4" cy="168.4" r="2.05"/><circle cx="399.4" cy="174.2" r="2.05"/><circle cx="399.7" cy="168.3" r="2.05"/><circle cx="400.2" cy="173.2" r="2.05"/><circle cx="400.0" cy="174.3" r="2.05"/><circle cx="400.3" cy="175.8" r="2.05"/><circle cx="400.6" cy="168.3" r="2.05"/><circle cx="400.8" cy="172.4" r="2.05"/><circle cx="400.6" cy="170.5" r="2.05"/><circle cx="401.2" cy="171.6" r="2.05"/><circle cx="401.6" cy="173.4" r="2.05"/><circle cx="401.4" cy="169.2" r="2.05"/><circle cx="401.8" cy="174.9" r="2.05"/><circle cx="402.3" cy="175.7" r="2.05"/><circle cx="402.0" cy="171.4" r="2.05"/><circle cx="402.6" cy="175.9" r="2.05"/><circle cx="402.9" cy="171.5" r="2.05"/><circle cx="402.5" cy="175.3" r="2.05"/><circle cx="403.1" cy="169.8" r="2.05"/><circle cx="403.5" cy="171.8" r="2.05"/><circle cx="403.4" cy="175.6" r="2.05"/><circle cx="404.0" cy="175.8" r="2.05"/><circle cx="403.8" cy="167.8" r="2.05"/><circle cx="404.1" cy="177.3" r="2.05"/><circle cx="404.4" cy="169.7" r="2.05"/><circle cx="404.3" cy="173.9" r="2.05"/><circle cx="404.1" cy="172.8" r="2.05"/><circle cx="405.0" cy="171.7" r="2.05"/><circle cx="404.8" cy="167.0" r="2.05"/><circle cx="405.2" cy="177.7" r="2.05"/><circle cx="405.7" cy="177.4" r="2.05"/><circle cx="405.8" cy="175.9" r="2.05"/><circle cx="405.3" cy="176.8" r="2.05"/><circle cx="406.1" cy="174.0" r="2.05"/><circle cx="406.1" cy="174.4" r="2.05"/><circle cx="406.5" cy="172.8" r="2.05"/><circle cx="406.7" cy="173.7" r="2.05"/><circle cx="406.8" cy="172.5" r="2.05"/><circle cx="406.7" cy="177.8" r="2.05"/><circle cx="407.5" cy="169.7" r="2.05"/><circle cx="407.5" cy="167.4" r="2.05"/><circle cx="407.4" cy="177.9" r="2.05"/><circle cx="408.0" cy="169.1" r="2.05"/><circle cx="407.8" cy="172.5" r="2.05"/><circle cx="407.8" cy="167.2" r="2.05"/><circle cx="408.5" cy="169.3" r="2.05"/><circle cx="408.4" cy="169.2" r="2.05"/><circle cx="408.6" cy="166.5" r="2.05"/><circle cx="409.3" cy="175.5" r="2.05"/><circle cx="409.3" cy="171.7" r="2.05"/><circle cx="409.3" cy="166.4" r="2.05"/><circle cx="409.8" cy="166.1" r="2.05"/><circle cx="409.8" cy="168.4" r="2.05"/><circle cx="409.6" cy="163.7" r="2.05"/><circle cx="410.4" cy="157.8" r="2.05"/><circle cx="410.5" cy="160.6" r="2.05"/><circle cx="410.3" cy="154.2" r="2.05"/><circle cx="410.8" cy="168.3" r="2.05"/><circle cx="411.0" cy="162.8" r="2.05"/><circle cx="411.3" cy="157.9" r="2.05"/><circle cx="411.2" cy="158.1" r="2.05"/><circle cx="410.7" cy="155.7" r="2.05"/><circle cx="411.6" cy="168.4" r="2.05"/><circle cx="411.5" cy="153.5" r="2.05"/><circle cx="411.7" cy="160.4" r="2.05"/><circle cx="411.4" cy="154.3" r="2.05"/><circle cx="411.7" cy="170.0" r="2.05"/><circle cx="412.1" cy="154.8" r="2.05"/><circle cx="412.3" cy="158.5" r="2.05"/><circle cx="412.4" cy="163.5" r="2.05"/><circle cx="412.2" cy="167.4" r="2.05"/><circle cx="412.3" cy="165.8" r="2.05"/><circle cx="412.8" cy="166.1" r="2.05"/><circle cx="412.9" cy="166.6" r="2.05"/><circle cx="412.6" cy="169.1" r="2.05"/><circle cx="412.5" cy="168.3" r="2.05"/><circle cx="412.9" cy="166.2" r="2.05"/><circle cx="413.7" cy="162.2" r="2.05"/><circle cx="413.4" cy="163.6" r="2.05"/><circle cx="413.6" cy="167.8" r="2.05"/><circle cx="413.3" cy="164.3" r="2.05"/><circle cx="413.4" cy="161.3" r="2.05"/><circle cx="413.9" cy="168.4" r="2.05"/><circle cx="414.0" cy="161.9" r="2.05"/><circle cx="413.9" cy="161.7" r="2.05"/><circle cx="414.2" cy="169.6" r="2.05"/><circle cx="414.0" cy="164.0" r="2.05"/><circle cx="414.5" cy="159.6" r="2.05"/><circle cx="414.6" cy="158.8" r="2.05"/><circle cx="414.4" cy="167.4" r="2.05"/><circle cx="414.5" cy="174.0" r="2.05"/><circle cx="414.8" cy="172.5" r="2.05"/><circle cx="415.0" cy="176.0" r="2.05"/><circle cx="415.4" cy="165.6" r="2.05"/><circle cx="414.9" cy="157.5" r="2.05"/><circle cx="415.2" cy="168.3" r="2.05"/><circle cx="415.4" cy="175.2" r="2.05"/><circle cx="416.1" cy="167.9" r="2.05"/><circle cx="415.8" cy="167.5" r="2.05"/><circle cx="415.7" cy="170.7" r="2.05"/><circle cx="415.9" cy="164.4" r="2.05"/><circle cx="416.1" cy="164.3" r="2.05"/><circle cx="416.4" cy="170.6" r="2.05"/><circle cx="416.3" cy="159.6" r="2.05"/><circle cx="416.4" cy="165.3" r="2.05"/><circle cx="416.6" cy="168.7" r="2.05"/><circle cx="416.4" cy="176.1" r="2.05"/><circle cx="417.1" cy="166.2" r="2.05"/><circle cx="416.9" cy="176.7" r="2.05"/><circle cx="417.2" cy="167.9" r="2.05"/><circle cx="416.9" cy="161.1" r="2.05"/><circle cx="417.2" cy="176.4" r="2.05"/><circle cx="417.4" cy="167.7" r="2.05"/><circle cx="417.7" cy="174.8" r="2.05"/><circle cx="417.9" cy="173.4" r="2.05"/><circle cx="417.6" cy="174.7" r="2.05"/><circle cx="417.5" cy="161.0" r="2.05"/><circle cx="418.2" cy="167.3" r="2.05"/><circle cx="418.0" cy="161.4" r="2.05"/><circle cx="418.3" cy="169.5" r="2.05"/><circle cx="418.5" cy="164.4" r="2.05"/><circle cx="417.9" cy="169.6" r="2.05"/><circle cx="419.0" cy="164.4" r="2.05"/><circle cx="418.9" cy="162.6" r="2.05"/><circle cx="418.7" cy="157.5" r="2.05"/><circle cx="419.5" cy="170.1" r="2.05"/><circle cx="419.2" cy="167.4" r="2.05"/><circle cx="419.4" cy="164.7" r="2.05"/><circle cx="420.1" cy="160.1" r="2.05"/><circle cx="420.3" cy="164.0" r="2.05"/><circle cx="419.9" cy="164.6" r="2.05"/><circle cx="420.4" cy="158.1" r="2.05"/><circle cx="420.4" cy="167.1" r="2.05"/><circle cx="420.4" cy="157.8" r="2.05"/><circle cx="421.4" cy="163.6" r="2.05"/><circle cx="421.4" cy="164.9" r="2.05"/><circle cx="420.9" cy="157.4" r="2.05"/><circle cx="421.7" cy="166.8" r="2.05"/><circle cx="421.7" cy="166.1" r="2.05"/><circle cx="421.7" cy="158.9" r="2.05"/><circle cx="422.6" cy="158.1" r="2.05"/><circle cx="422.3" cy="164.2" r="2.05"/><circle cx="422.3" cy="162.5" r="2.05"/><circle cx="423.2" cy="157.7" r="2.05"/><circle cx="423.3" cy="164.1" r="2.05"/><circle cx="423.1" cy="162.3" r="2.05"/><circle cx="256.0" cy="210.0" r="2.05"/><circle cx="396.0" cy="146.0" r="2.05"/><circle cx="419.0" cy="177.0" r="2.05"/><circle cx="275.6" cy="132.0" r="2.05"/><circle cx="297.4" cy="135.5" r="2.05"/><circle cx="149.0" cy="208.5" r="2.05"/></g>
</g>
<g id="axes" stroke="#666" stroke-width="0.7" fill="none">
<path d="M450.4 53.5V126.4"/>
<path d="M450.4 66.8h1.8M450.4 86.8h1.8M450.4 106.6h1.8" />
<path d="M61.3 112V214.4"/>
<path d="M61.3 116.6h-1.9M61.3 132.2h-1.9M61.3 147.6h-1.9M61.3 163.2h-1.9M61.3 178.6h-1.9M61.3 194h-1.9M61.3 209.4h-1.9"/>
<path d="M452.4 221V305.6"/>
<path d="M452.4 221.2h1.8M452.4 241h1.8M452.4 260.8h1.8M452.4 280.4h1.8M452.4 300h1.8"/>
<path d="M63.6 306V397.4"/>
<path d="M63.6 324.6h-1.9M63.6 350h-1.9M63.6 375.5h-1.9"/>
<path d="M452.4 397.6V488.6"/>
<path d="M452.4 409.4h1.8M452.4 424.4h1.8M452.4 439.4h1.8M452.4 454.5h1.8M452.4 469.5h1.8"/>
<path d="M63.6 488.6V564.8"/>
<path d="M63.6 492.4h-1.9M63.6 506.4h-1.9M63.6 520.3h-1.9M63.6 534h-1.9M63.6 548h-1.9M63.6 561.6h-1.9"/>
<path d="M84.5 562.2V566.6M119.5 562.2V566.6M154.5 562.2V566.6M189.5 562.2V566.6M224.5 562.2V566.6M259.5 562.2V566.6M294.5 562.2V566.6M329.5 562.2V566.6M364.5 562.2V566.6M399.5 562.2V566.6M434.5 562.2V566.6"/>
</g>
<g id="text">
<text x="8.6" y="17.6" class="" text-anchor="start" textLength="65.6" lengthAdjust="spacingAndGlyphs" style="font-size:17.5px;font-weight:bold;fill:#0a0a0a;stroke:#0a0a0a;stroke-width:0.45px">Vanevan</text>
<text x="4.9" y="46" class="pl" text-anchor="start" textLength="10.9" lengthAdjust="spacingAndGlyphs" >(a)</text>
<text x="6.1" y="128.5" class="pl" text-anchor="start" textLength="11.3" lengthAdjust="spacingAndGlyphs" >(b)</text>
<text x="6.1" y="219.5" class="pl" text-anchor="start" textLength="10" lengthAdjust="spacingAndGlyphs" >(c)</text>
<text x="6.1" y="311.5" class="pl" text-anchor="start" textLength="11.3" lengthAdjust="spacingAndGlyphs" >(d)</text>
<text x="6.1" y="403.5" class="pl" text-anchor="start" textLength="10.4" lengthAdjust="spacingAndGlyphs" >(e)</text>
<text x="5" y="465.5" class="pl" text-anchor="start" textLength="9.3" lengthAdjust="spacingAndGlyphs" >(f)</text>
<text x="94" y="39.6" class="ph" text-anchor="start" textLength="25.4" lengthAdjust="spacingAndGlyphs" >Phase 1</text>
<text x="158.4" y="39.6" class="ph" text-anchor="start" textLength="26.0" lengthAdjust="spacingAndGlyphs" >Phase 2</text>
<text x="201.6" y="39.6" class="ph" text-anchor="start" textLength="26.4" lengthAdjust="spacingAndGlyphs" >Phase 3</text>
<text x="236.4" y="39.6" class="ph" text-anchor="start" textLength="26.4" lengthAdjust="spacingAndGlyphs" >Phase 4</text>
<text x="308.8" y="39.6" class="ph" text-anchor="start" textLength="26.0" lengthAdjust="spacingAndGlyphs" >Phase 4</text>
<text x="394" y="39.6" class="ph" text-anchor="start" textLength="26" lengthAdjust="spacingAndGlyphs" >Phase 5</text>
<text x="82.9" y="572.7" class="tk" text-anchor="start" textLength="2.8" lengthAdjust="spacingAndGlyphs" >0</text>
<text x="113.4" y="572.7" class="tk" text-anchor="start" textLength="11.2" lengthAdjust="spacingAndGlyphs" >1000</text>
<text x="147.3" y="572.7" class="tk" text-anchor="start" textLength="11.2" lengthAdjust="spacingAndGlyphs" >2000</text>
<text x="183.2" y="572.7" class="tk" text-anchor="start" textLength="11.2" lengthAdjust="spacingAndGlyphs" >3000</text>
<text x="217.4" y="572.7" class="tk" text-anchor="start" textLength="11.2" lengthAdjust="spacingAndGlyphs" >4000</text>
<text x="252.4" y="572.7" class="tk" text-anchor="start" textLength="11.2" lengthAdjust="spacingAndGlyphs" >5000</text>
<text x="288.6" y="572.7" class="tk" text-anchor="start" textLength="11.2" lengthAdjust="spacingAndGlyphs" >6000</text>
<text x="322.9" y="572.7" class="tk" text-anchor="start" textLength="11.2" lengthAdjust="spacingAndGlyphs" >7000</text>
<text x="356.6" y="572.7" class="tk" text-anchor="start" textLength="11.2" lengthAdjust="spacingAndGlyphs" >8000</text>
<text x="393.1" y="572.7" class="tk" text-anchor="start" textLength="11.2" lengthAdjust="spacingAndGlyphs" >9000</text>
<text x="426.4" y="572.7" class="tk" text-anchor="start" textLength="13.8" lengthAdjust="spacingAndGlyphs" >10000</text>
<text x="240" y="581" class="" text-anchor="start" textLength="31" lengthAdjust="spacingAndGlyphs" style="font-size:7px;fill:#000;stroke:#000;stroke-width:0.15px">Age Cal. BP</text>
<text x="454.4" y="68.1" class="tk" text-anchor="start" textLength="27.2" lengthAdjust="spacingAndGlyphs" >1.00000000</text>
<text x="454.4" y="88.1" class="tk" text-anchor="start" textLength="27.2" lengthAdjust="spacingAndGlyphs" >0.06250000</text>
<text x="454.4" y="107.9" class="tk" text-anchor="start" textLength="27.2" lengthAdjust="spacingAndGlyphs" >0.00390625</text>
<text x="53.31" y="118.7" class="tk" text-anchor="start" textLength="2.49" lengthAdjust="spacingAndGlyphs" style="font-size:6px">6</text>
<text x="53.31" y="134.3" class="tk" text-anchor="start" textLength="2.49" lengthAdjust="spacingAndGlyphs" style="font-size:6px">4</text>
<text x="53.31" y="149.7" class="tk" text-anchor="start" textLength="2.49" lengthAdjust="spacingAndGlyphs" style="font-size:6px">2</text>
<text x="53.31" y="165.3" class="tk" text-anchor="start" textLength="2.49" lengthAdjust="spacingAndGlyphs" style="font-size:6px">0</text>
<text x="51.82" y="180.7" class="tk" text-anchor="start" textLength="3.98" lengthAdjust="spacingAndGlyphs" style="font-size:6px">-2</text>
<text x="51.82" y="196.1" class="tk" text-anchor="start" textLength="3.98" lengthAdjust="spacingAndGlyphs" style="font-size:6px">-4</text>
<text x="51.82" y="211.5" class="tk" text-anchor="start" textLength="3.98" lengthAdjust="spacingAndGlyphs" style="font-size:6px">-6</text>
<text x="455.2" y="223.2" class="tk" text-anchor="start" textLength="9.9" lengthAdjust="spacingAndGlyphs" >0.50</text>
<text x="455.2" y="243" class="tk" text-anchor="start" textLength="9.9" lengthAdjust="spacingAndGlyphs" >0.45</text>
<text x="455.2" y="262.8" class="tk" text-anchor="start" textLength="9.9" lengthAdjust="spacingAndGlyphs" >0.40</text>
<text x="455.2" y="282.4" class="tk" text-anchor="start" textLength="9.9" lengthAdjust="spacingAndGlyphs" >0.35</text>
<text x="455.2" y="302" class="tk" text-anchor="start" textLength="9.9" lengthAdjust="spacingAndGlyphs" >0.30</text>
<text x="52.78" y="326.6" class="tk" text-anchor="start" textLength="6.22" lengthAdjust="spacingAndGlyphs" >0.0</text>
<text x="51.28" y="352" class="tk" text-anchor="start" textLength="7.72" lengthAdjust="spacingAndGlyphs" >-0.2</text>
<text x="51.28" y="377.5" class="tk" text-anchor="start" textLength="7.72" lengthAdjust="spacingAndGlyphs" >-0.4</text>
<text x="455.9" y="411.4" class="tk" text-anchor="start" textLength="7.47" lengthAdjust="spacingAndGlyphs" >100</text>
<text x="455.9" y="426.4" class="tk" text-anchor="start" textLength="4.98" lengthAdjust="spacingAndGlyphs" >80</text>
<text x="455.9" y="441.4" class="tk" text-anchor="start" textLength="4.98" lengthAdjust="spacingAndGlyphs" >60</text>
<text x="455.9" y="456.5" class="tk" text-anchor="start" textLength="4.98" lengthAdjust="spacingAndGlyphs" >40</text>
<text x="455.9" y="471.5" class="tk" text-anchor="start" textLength="4.98" lengthAdjust="spacingAndGlyphs" >20</text>
<text x="52.78" y="494.4" class="tk" text-anchor="start" textLength="6.22" lengthAdjust="spacingAndGlyphs" >1.0</text>
<text x="52.78" y="508.4" class="tk" text-anchor="start" textLength="6.22" lengthAdjust="spacingAndGlyphs" >0.8</text>
<text x="52.78" y="522.3" class="tk" text-anchor="start" textLength="6.22" lengthAdjust="spacingAndGlyphs" >0.6</text>
<text x="52.78" y="536" class="tk" text-anchor="start" textLength="6.22" lengthAdjust="spacingAndGlyphs" >0.4</text>
<text x="52.78" y="550" class="tk" text-anchor="start" textLength="6.22" lengthAdjust="spacingAndGlyphs" >0.2</text>
<text x="52.78" y="563.6" class="tk" text-anchor="start" textLength="6.22" lengthAdjust="spacingAndGlyphs" >0.0</text>
<text transform="translate(488.3 61.1) rotate(90)" class="ax" text-anchor="start" textLength="67.6" lengthAdjust="spacingAndGlyphs" >Pollen Water Depth</text>
<text transform="translate(30.2 166.2) rotate(-90)" class="ax" text-anchor="start" textLength="21.4" lengthAdjust="spacingAndGlyphs" >PCA-1</text>
<text transform="translate(41 165.4) rotate(-90)" class="ax" text-anchor="start" textLength="11.4" lengthAdjust="spacingAndGlyphs" >XRF</text>
<text transform="translate(471.9 232.6) rotate(90)" class="ax" text-anchor="start" textLength="49.8" lengthAdjust="spacingAndGlyphs" >Vanevan MBT</text>
<text transform="translate(474.1 282.7) rotate(90)" class="ax" text-anchor="start" >'</text>
<text transform="translate(469.3 278.8) rotate(90)" class="" text-anchor="start" textLength="8.2" lengthAdjust="spacingAndGlyphs" style="font-size:4.6px;fill:#111">5me</text>
<text transform="translate(44.2 379) rotate(-90)" class="ax" text-anchor="start" textLength="49.5" lengthAdjust="spacingAndGlyphs" >Vanevan CBT'</text>
<text transform="translate(469.6 396) rotate(90)" class="ax" text-anchor="start" textLength="109" lengthAdjust="spacingAndGlyphs" >Vanevan Cyperaceae + Typha</text>
<text transform="translate(49 575.8) rotate(-90)" class="ax" text-anchor="start" textLength="110" lengthAdjust="spacingAndGlyphs" >Vanevan RF Peat + Soil + Lake</text>
<text x="64.4" y="504.8" class="" text-anchor="start" textLength="15" lengthAdjust="spacingAndGlyphs" style="font-size:8.2px;fill:#7c9a3b">Peat</text>
<text x="67" y="547.4" class="" text-anchor="start" textLength="14" lengthAdjust="spacingAndGlyphs" style="font-size:8.2px;fill:#2f6d92">Lake</text>
<text x="66.6" y="560.8" class="" text-anchor="start" textLength="11.4" lengthAdjust="spacingAndGlyphs" style="font-size:8.2px;fill:#a5502e">Soil</text>
</g>
</svg></body></html>
